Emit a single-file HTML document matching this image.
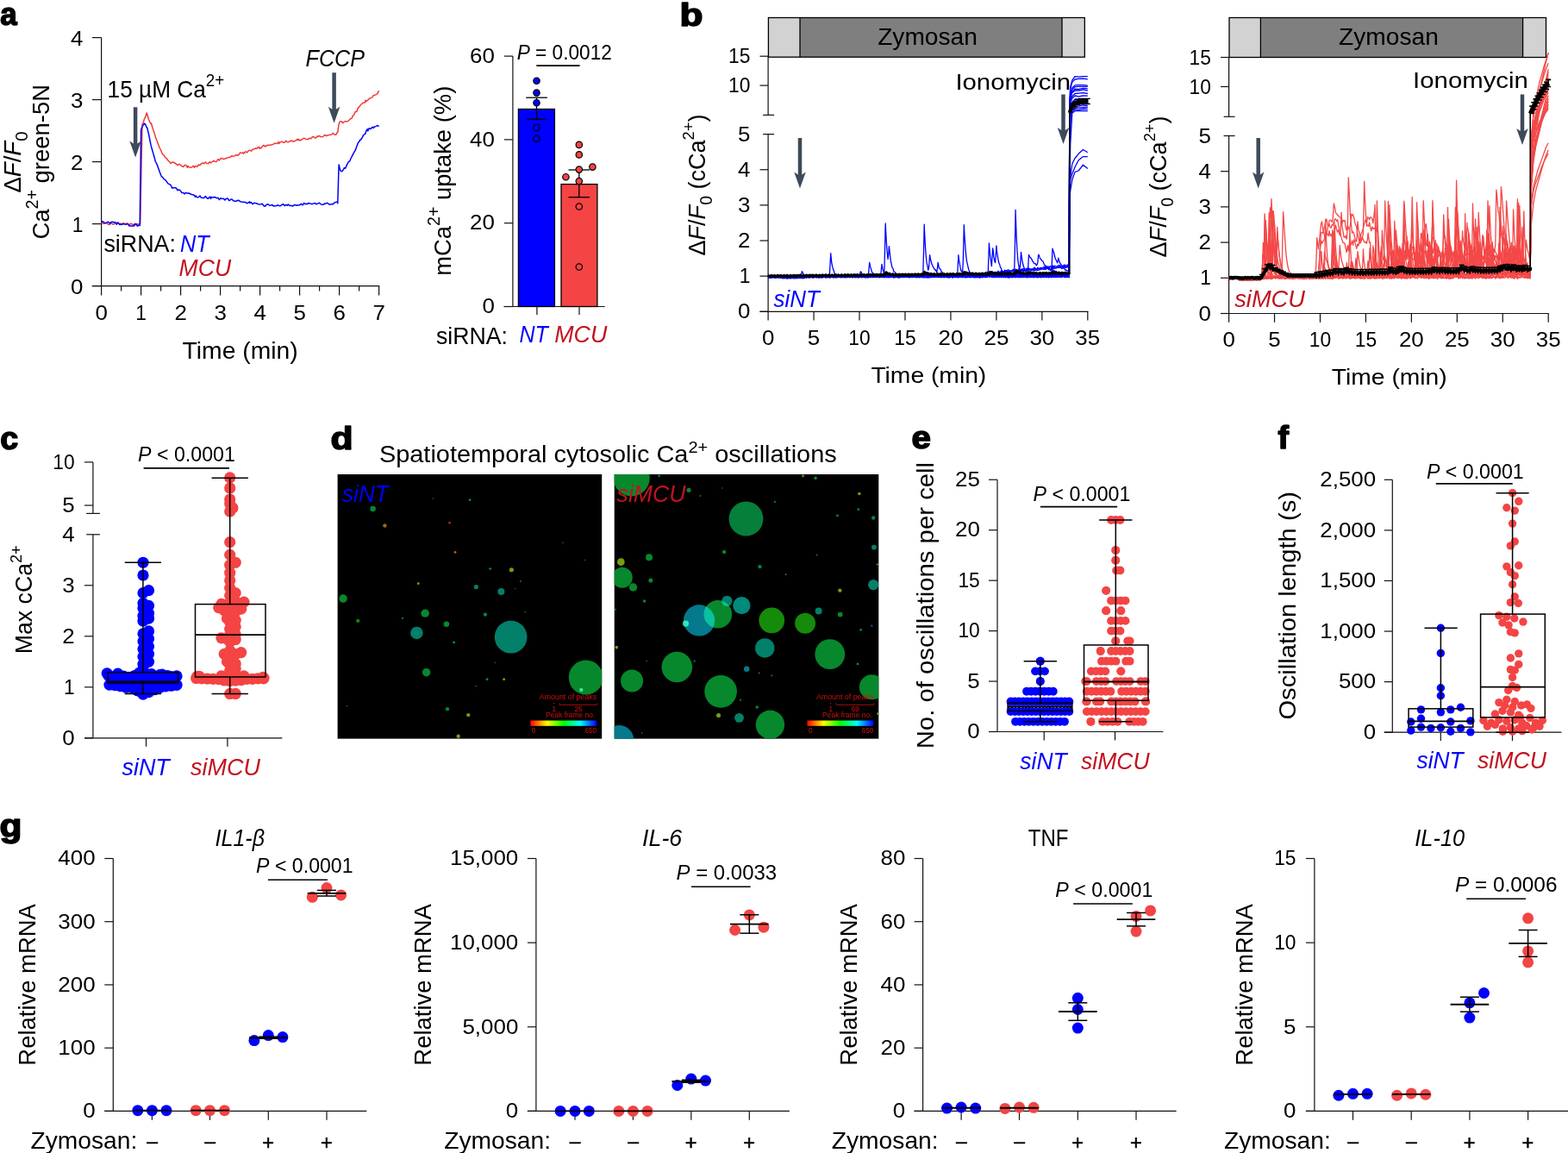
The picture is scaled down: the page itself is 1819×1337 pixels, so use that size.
<!DOCTYPE html>
<html><head><meta charset="utf-8"><title>Figure</title>
<style>html,body{margin:0;padding:0;background:#fff;}svg{display:block;}</style>
</head><body>
<svg width="1819" height="1337" viewBox="0 0 1819 1337" font-family="'Liberation Sans', sans-serif">
<defs><linearGradient id="rainbow" x1="0" x2="1" y1="0" y2="0"><stop offset="0" stop-color="#ff0000"/><stop offset="0.25" stop-color="#ffff00"/><stop offset="0.5" stop-color="#00ff00"/><stop offset="0.75" stop-color="#00ffff"/><stop offset="1" stop-color="#0000ff"/></linearGradient></defs>
<text x="0.2" y="29" font-size="37.5" font-weight="bold" textLength="19.4" lengthAdjust="spacingAndGlyphs"  stroke="#000" stroke-width="1.6" stroke-linejoin="round">a</text>
<text x="788.6" y="29.6" font-size="37.5" font-weight="bold" textLength="27" lengthAdjust="spacingAndGlyphs"  stroke="#000" stroke-width="1.6" stroke-linejoin="round">b</text>
<text x="0.2" y="520.9" font-size="37.5" font-weight="bold"  stroke="#000" stroke-width="1.6" stroke-linejoin="round">c</text>
<text x="383.6" y="521.3" font-size="37.5" font-weight="bold" textLength="26.1" lengthAdjust="spacingAndGlyphs"  stroke="#000" stroke-width="1.6" stroke-linejoin="round">d</text>
<text x="1057.4" y="519.9" font-size="37.5" font-weight="bold" textLength="22.4" lengthAdjust="spacingAndGlyphs"  stroke="#000" stroke-width="1.6" stroke-linejoin="round">e</text>
<text x="1482.4" y="520.1" font-size="37.5" font-weight="bold"  stroke="#000" stroke-width="1.6" stroke-linejoin="round">f</text>
<text x="-0.5" y="970.3" font-size="37.5" font-weight="bold" textLength="25.9" lengthAdjust="spacingAndGlyphs"  stroke="#000" stroke-width="1.6" stroke-linejoin="round">g</text>
<line x1="117.6" y1="43.6" x2="117.6" y2="331.6" stroke="#111" stroke-width="1.2" />
<line x1="107" y1="331.6" x2="117.6" y2="331.6" stroke="#111" stroke-width="1.2" />
<text x="96.4" y="340.8" font-size="24" text-anchor="end" textLength="14.41" lengthAdjust="spacingAndGlyphs"  >0</text>
<line x1="107" y1="259.6" x2="117.6" y2="259.6" stroke="#111" stroke-width="1.2" />
<text x="96.4" y="268.8" font-size="24" text-anchor="end" textLength="12.68" lengthAdjust="spacingAndGlyphs"  >1</text>
<line x1="107" y1="187.6" x2="117.6" y2="187.6" stroke="#111" stroke-width="1.2" />
<text x="96.4" y="196.8" font-size="24" text-anchor="end" textLength="14.41" lengthAdjust="spacingAndGlyphs"  >2</text>
<line x1="107" y1="115.6" x2="117.6" y2="115.6" stroke="#111" stroke-width="1.2" />
<text x="96.4" y="124.8" font-size="24" text-anchor="end" textLength="14.41" lengthAdjust="spacingAndGlyphs"  >3</text>
<line x1="107" y1="43.6" x2="117.6" y2="43.6" stroke="#111" stroke-width="1.2" />
<text x="96.4" y="52.8" font-size="24" text-anchor="end" textLength="14.41" lengthAdjust="spacingAndGlyphs"  >4</text>
<line x1="106.7" y1="331.6" x2="440.2" y2="331.6" stroke="#111" stroke-width="1.2" />
<line x1="117.6" y1="331.6" x2="117.6" y2="342.6" stroke="#111" stroke-width="1.2" />
<text x="117.6" y="371.3" font-size="24" text-anchor="middle" textLength="14.41" lengthAdjust="spacingAndGlyphs"  >0</text>
<line x1="140.6" y1="331.6" x2="140.6" y2="337.6" stroke="#111" stroke-width="1.2" />
<line x1="163.6" y1="331.6" x2="163.6" y2="342.6" stroke="#111" stroke-width="1.2" />
<text x="163.6" y="371.3" font-size="24" text-anchor="middle" textLength="12.68" lengthAdjust="spacingAndGlyphs"  >1</text>
<line x1="186.6" y1="331.6" x2="186.6" y2="337.6" stroke="#111" stroke-width="1.2" />
<line x1="209.6" y1="331.6" x2="209.6" y2="342.6" stroke="#111" stroke-width="1.2" />
<text x="209.6" y="371.3" font-size="24" text-anchor="middle" textLength="14.41" lengthAdjust="spacingAndGlyphs"  >2</text>
<line x1="232.6" y1="331.6" x2="232.6" y2="337.6" stroke="#111" stroke-width="1.2" />
<line x1="255.6" y1="331.6" x2="255.6" y2="342.6" stroke="#111" stroke-width="1.2" />
<text x="255.6" y="371.3" font-size="24" text-anchor="middle" textLength="14.41" lengthAdjust="spacingAndGlyphs"  >3</text>
<line x1="278.6" y1="331.6" x2="278.6" y2="337.6" stroke="#111" stroke-width="1.2" />
<line x1="301.6" y1="331.6" x2="301.6" y2="342.6" stroke="#111" stroke-width="1.2" />
<text x="301.6" y="371.3" font-size="24" text-anchor="middle" textLength="14.41" lengthAdjust="spacingAndGlyphs"  >4</text>
<line x1="324.6" y1="331.6" x2="324.6" y2="337.6" stroke="#111" stroke-width="1.2" />
<line x1="347.6" y1="331.6" x2="347.6" y2="342.6" stroke="#111" stroke-width="1.2" />
<text x="347.6" y="371.3" font-size="24" text-anchor="middle" textLength="14.41" lengthAdjust="spacingAndGlyphs"  >5</text>
<line x1="370.6" y1="331.6" x2="370.6" y2="337.6" stroke="#111" stroke-width="1.2" />
<line x1="393.6" y1="331.6" x2="393.6" y2="342.6" stroke="#111" stroke-width="1.2" />
<text x="393.6" y="371.3" font-size="24" text-anchor="middle" textLength="14.41" lengthAdjust="spacingAndGlyphs"  >6</text>
<line x1="416.6" y1="331.6" x2="416.6" y2="337.6" stroke="#111" stroke-width="1.2" />
<line x1="439.6" y1="331.6" x2="439.6" y2="342.6" stroke="#111" stroke-width="1.2" />
<text x="439.6" y="371.3" font-size="24" text-anchor="middle" textLength="14.41" lengthAdjust="spacingAndGlyphs"  >7</text>
<text x="278.6" y="415.8" font-size="28" text-anchor="middle" textLength="134.1" lengthAdjust="spacingAndGlyphs"  >Time (min)</text>
<text x="0" y="0" font-size="28" text-anchor="middle" textLength="71" lengthAdjust="spacingAndGlyphs" transform="translate(23.9,188.1) rotate(-90)" ><tspan>Δ</tspan><tspan font-style="italic">F</tspan>/<tspan font-style="italic">F</tspan><tspan font-size="20.5" dy="8.5">0</tspan></text>
<text x="0" y="0" font-size="28" text-anchor="middle" textLength="179.5" lengthAdjust="spacingAndGlyphs" transform="translate(56.5,187.75) rotate(-90)" >Ca<tspan font-size="20" dy="-12.7">2+</tspan><tspan dy="12.7"> green-5N</tspan></text>
<polyline points="117.6,259.63 119.21,258.8 120.82,259.36 122.43,258.73 124.04,258.72 125.65,260.38 127.26,260.58 128.87,258.26 130.48,259.98 132.09,260.1 133.7,257.96 135.31,259.52 136.92,258.52 138.53,259.6 140.14,259.19 140.6,260.61 141.75,259.25 143.36,258.63 144.97,259.68 146.58,259.1 148.19,259.35 149.8,261.16 151.41,259.21 153.02,259.74 154.63,260.63 156.24,261.46 157.85,259.11 159.46,260.29 161.07,259.64 162.68,259.23 164.29,179.06 164.98,143.91 165.9,143.07 167.51,137.77 169.12,134.68 170.04,130.91 170.73,132.54 172.34,138.23 173.95,141.55 175.1,143.78 175.56,142.96 177.17,149.19 178.78,153.35 180.39,158.99 182,163.1 183.61,167.41 185.22,171.47 186.83,174.75 188.44,178.72 190.05,179.81 191.66,182.47 193.27,183.77 194.88,186 195.34,186.19 196.49,187.49 198.1,189.48 199.71,188 201.32,188.23 202.93,188.94 204.08,190.28 204.54,189.96 206.15,191.74 207.76,190.29 209.37,191.37 210.98,192.54 212.59,193.51 214.2,191.57 215.81,191.52 217.42,194.45 217.88,192.49 219.03,193.62 220.64,194.37 222.25,193.95 223.86,192.59 224.32,192.29 225.47,194.35 227.08,192.24 228.69,193.43 230.3,191.03 231.91,191.69 233.52,189.64 235.13,188.9 236.74,189.81 238.35,187.93 239.96,189.46 241.57,189.67 243.18,187.71 244.56,188.95 244.79,188.42 246.4,187.45 248.01,186.51 249.62,187.46 251.23,187.43 252.84,184.69 254.45,185.92 256.06,183.71 257.67,183.53 259.28,184.66 260.89,184.06 262.5,183.53 264.11,182.81 265.72,182.59 267.1,182.39 267.33,182.13 268.94,180.61 270.55,181.27 272.16,180.89 273.77,179.47 275.38,180.27 276.99,179.49 278.6,176.95 280.21,177.67 281.82,177 282.74,178.21 283.43,176.82 285.04,175.83 286.65,176.93 288.26,174.69 289.87,174.13 291.48,175.26 293.09,173.11 294.7,173.06 296.31,171.93 297.92,172.35 299.53,170.81 300.68,170.35 301.14,172.3 302.75,171.78 304.36,169.59 305.97,168.35 307.58,169.99 309.19,168.99 310.8,168.19 312.41,168.56 314.02,168.02 315.63,167.76 317.24,167.18 318.85,166.12 320.46,166.56 322.07,165.93 323.22,164.5 323.68,166.58 325.29,164.82 326.9,164.13 328.51,165.15 330.12,165.2 331.73,163.32 333.34,164.74 334.95,164.68 336.56,163.76 338.17,162.8 339.78,164.31 341.39,163.47 343,163.23 344.61,161.59 345.76,162.58 346.22,161.3 347.83,163.01 349.44,162.27 351.05,161.1 352.66,160.17 354.27,161.15 355.88,161.54 357.49,161.58 359.1,160.14 360.71,160.85 362.32,158.82 363.93,158.46 365.54,160.09 367.15,159.55 367.84,157.92 368.76,158.23 370.37,157.46 371.98,158.5 373.59,158.83 375.2,158.07 376.81,156.33 378.42,157.55 380.03,157.04 381.64,156.55 383.25,156.25 384.86,155.99 386.47,154.22 388.08,156.14 389.69,156.28 391.3,153.29 391.76,153.39 392.91,145.43 393.6,142.43 394.52,140.86 396.13,140.79 397.74,142.68 399.35,141.03 400.96,140.63 401.88,141.05 402.57,140.85 404.18,140.07 405.79,138.48 407.4,137.37 408.32,137 409.01,134.57 410.62,133.25 412.23,129.56 413.84,129.58 415.22,125.24 415.45,125.6 417.06,123.21 418.67,121.56 420.28,119.83 421.89,119.04 423.5,118.93 423.96,116.33 425.11,117.36 426.72,116.1 428.33,114.18 429.94,113.69 431.55,113.13 433.16,110.74 434.77,110.24 436.38,109.58 437.99,108.39 439.6,105.2" fill="none" stroke="#f03a3a" stroke-width="1.5" stroke-linejoin="round" />
<polyline points="117.6,257.51 119.21,256.75 120.82,258.12 122.43,258.69 124.04,257.84 125.65,257.16 127.26,259.14 128.87,257.48 130.48,257.23 132.09,257.69 133.7,257.77 135.31,260.24 136,258.51 136.92,257.94 138.53,260.47 140.14,260.01 141.75,260.21 143.36,259.64 144.97,260.13 146.58,260.17 148.19,259.48 149.8,261.9 151.41,261.93 153.02,261.9 154.63,262.09 154.86,262.28 156.24,259.67 157.85,260.02 159.46,262.23 161.07,261.03 162.22,261.57 162.68,224.61 163.6,150.59 164.29,148.42 165.9,145.51 167.51,143.08 167.74,143.13 169.12,145.25 170.5,148.36 170.73,148.13 172.34,154.72 173.95,162.74 175.1,168.65 175.56,170.17 177.17,175.9 178.78,181.54 179.7,184.63 180.39,187.5 182,190.29 183.61,194.81 185.22,199.36 186.83,203.53 187.52,204.89 188.44,205.2 190.05,207.6 191.66,208.4 193.27,210.66 194.88,212.87 196.49,213.62 198.1,214.74 199.71,218.13 199.94,217.34 201.32,218.05 202.93,217.59 204.54,218.26 206.15,220.72 207.76,220.05 209.37,221.2 210.98,223.56 212.59,223.43 214.2,224.85 215.81,223.31 217.42,224.19 219.03,223.99 220.64,224.71 222.25,225.51 223.86,225.76 225.47,226.7 226.62,228.34 227.08,227 228.69,228.88 230.3,228.67 231.91,227.05 233.52,229.34 235.13,229.4 236.74,229.57 238.35,227.52 239.96,229.73 241.57,230.37 243.18,228.21 244.56,230.45 244.79,228.39 246.4,229.04 248.01,228.72 249.62,228.54 251.23,229.77 252.84,229.29 254.45,231.64 256.06,229.69 257.67,230.58 259.28,230.15 260.89,232.06 262.5,230.36 264.11,229.98 265.72,232.65 267.1,232.03 267.33,231.37 268.94,230.87 270.55,232.81 272.16,233.25 273.77,233.31 275.38,232.51 276.99,232.37 278.6,233.66 280.21,234 281.82,234.17 283.43,234.56 285.04,234.62 286.65,235.84 288.26,234.9 289.64,233.76 289.87,235.41 291.48,234.7 293.09,236.65 294.7,235.38 296.31,235.45 297.92,235.95 299.53,236.66 301.14,237.01 302.75,236.81 304.36,236.34 305.97,238.75 307.58,239.16 309.19,237.29 310.8,236.8 312.41,237.95 314.02,238.16 315.63,237.37 317.24,238.9 318.85,238.67 320.46,238.87 322.07,237.75 323.68,238.53 325.29,238.77 326.9,237.45 328.51,236.69 330.12,238.59 331.73,237.41 333.34,238.25 334.26,236.98 334.95,237.71 336.56,238.52 338.17,238.56 339.78,239.02 341.39,237.6 343,237.78 344.61,238.28 346.22,237.64 347.83,237.65 349.44,236.24 351.05,237.95 352.66,235.41 354.27,236.78 355.88,236.33 356.8,236.65 357.49,235.6 359.1,235.63 360.71,236.4 362.32,236.61 363.93,235.92 365.54,235.53 367.15,236.85 368.76,235.89 370.37,235.23 371.98,236.65 373.59,237.34 375.2,237.32 376.81,235.93 378.42,236.05 379.34,235.24 380.03,235.46 381.64,237.04 383.25,237 384.86,236.62 386.47,236.63 388.08,234.96 389.69,234.33 391.3,234.02 391.76,235.83 392.91,196.87 393.14,191.02 394.52,196.64 394.98,197.74 396.13,198.84 397.74,197.77 399.35,194.59 400.5,195.4 400.96,194.39 402.57,190.89 404.18,187.75 405.79,186.81 407.4,183 409.01,179.85 410.62,176.84 412.23,174.27 413.84,169.83 415.45,165.41 417.06,163.67 417.52,162.27 418.67,161.98 420.28,159.41 421.89,156.16 423.5,155.63 425.11,151.28 426.26,149.7 426.72,151.84 428.33,148.68 429.94,149.6 431.55,147.73 432.7,147.26 433.16,148.44 434.77,146.85 436.38,146.4 437.99,145.46 439.6,146.52" fill="none" stroke="#0000ff" stroke-width="1.5" stroke-linejoin="round" />
<path d="M154.85,124.2 L159.35,124.2 L159.35,166.5 L163.85,163.5 L157.1,182.5 L150.35,163.5 L154.85,166.5 Z" fill="#3e4a5b"/>
<path d="M385.35,84.2 L389.85,84.2 L389.85,126.8 L394.35,123.8 L387.6,142.8 L380.85,123.8 L385.35,126.8 Z" fill="#3e4a5b"/>
<text x="124.6" y="113" font-size="28" textLength="135.6" lengthAdjust="spacingAndGlyphs"  >15 µM Ca<tspan font-size="20" dy="-12.8">2+</tspan></text>
<text x="354.6" y="76.6" font-size="27" font-style="italic" textLength="68.4" lengthAdjust="spacingAndGlyphs"  >FCCP</text>
<text x="120.4" y="292.2" font-size="27" textLength="83.6" lengthAdjust="spacingAndGlyphs"  >siRNA:</text>
<text x="209" y="292.2" font-size="27" fill="#0000ff" font-style="italic" textLength="33.6" lengthAdjust="spacingAndGlyphs"  >NT</text>
<text x="207.6" y="320.2" font-size="27" fill="#c1121f" font-style="italic" textLength="60.5" lengthAdjust="spacingAndGlyphs"  >MCU</text>
<line x1="594.9" y1="65.1" x2="594.9" y2="355.5" stroke="#111" stroke-width="1.2" />
<line x1="584.9" y1="355.5" x2="594.9" y2="355.5" stroke="#111" stroke-width="1.2" />
<text x="573.9" y="363.1" font-size="24" text-anchor="end" textLength="14.41" lengthAdjust="spacingAndGlyphs"  >0</text>
<line x1="584.9" y1="258.7" x2="594.9" y2="258.7" stroke="#111" stroke-width="1.2" />
<text x="573.9" y="266.3" font-size="24" text-anchor="end" textLength="28.83" lengthAdjust="spacingAndGlyphs"  >20</text>
<line x1="584.9" y1="161.9" x2="594.9" y2="161.9" stroke="#111" stroke-width="1.2" />
<text x="573.9" y="169.5" font-size="24" text-anchor="end" textLength="28.83" lengthAdjust="spacingAndGlyphs"  >40</text>
<line x1="584.9" y1="65.1" x2="594.9" y2="65.1" stroke="#111" stroke-width="1.2" />
<text x="573.9" y="72.7" font-size="24" text-anchor="end" textLength="28.83" lengthAdjust="spacingAndGlyphs"  >60</text>
<line x1="584.5" y1="355.5" x2="701.7" y2="355.5" stroke="#111" stroke-width="1.2" />
<rect x="601.4" y="126.5" width="42" height="229" fill="#0000ff" stroke="#000" stroke-width="1.3"/>
<rect x="651" y="213.6" width="41.9" height="141.9" fill="#f44444" stroke="#000" stroke-width="1.3"/>
<line x1="622.9" y1="355.5" x2="622.9" y2="365" stroke="#111" stroke-width="1.2" />
<line x1="672" y1="355.5" x2="672" y2="365" stroke="#111" stroke-width="1.2" />
<line x1="622.5" y1="113.2" x2="622.5" y2="138.3" stroke="#000" stroke-width="1.3" />
<line x1="610.2" y1="113.2" x2="634.8" y2="113.2" stroke="#000" stroke-width="1.3" />
<line x1="610.2" y1="138.3" x2="634.8" y2="138.3" stroke="#000" stroke-width="1.3" />
<line x1="671.8" y1="197" x2="671.8" y2="228.7" stroke="#000" stroke-width="1.3" />
<line x1="659.5" y1="197" x2="684.1" y2="197" stroke="#000" stroke-width="1.3" />
<line x1="659.5" y1="228.7" x2="684.1" y2="228.7" stroke="#000" stroke-width="1.3" />
<circle cx="622.5" cy="93.7" r="3.7" fill="#0000ff" stroke="#000" stroke-width="1.2"/>
<circle cx="622.5" cy="107.6" r="3.7" fill="#0000ff" stroke="#000" stroke-width="1.2"/>
<circle cx="622.5" cy="119.2" r="3.7" fill="#0000ff" stroke="#000" stroke-width="1.2"/>
<circle cx="622.5" cy="147.9" r="3.7" fill="#0000ff" stroke="#000" stroke-width="1.2"/>
<circle cx="622.5" cy="160.9" r="3.7" fill="#0000ff" stroke="#000" stroke-width="1.2"/>
<circle cx="671.8" cy="167.9" r="3.7" fill="#f44444" stroke="#000" stroke-width="1.2"/>
<circle cx="671.8" cy="179.4" r="3.7" fill="#f44444" stroke="#000" stroke-width="1.2"/>
<circle cx="687.4" cy="193.6" r="3.7" fill="#f44444" stroke="#000" stroke-width="1.2"/>
<circle cx="671.8" cy="196.6" r="3.7" fill="#f44444" stroke="#000" stroke-width="1.2"/>
<circle cx="656.4" cy="205.2" r="3.7" fill="#f44444" stroke="#000" stroke-width="1.2"/>
<circle cx="671.8" cy="210.1" r="3.7" fill="#f44444" stroke="#000" stroke-width="1.2"/>
<circle cx="671.8" cy="239.5" r="3.7" fill="#f44444" stroke="#000" stroke-width="1.2"/>
<circle cx="671.8" cy="309.5" r="3.7" fill="#f44444" stroke="#000" stroke-width="1.2"/>
<text x="599.7" y="68.6" font-size="24" textLength="110.2" lengthAdjust="spacingAndGlyphs"  ><tspan font-style="italic">P</tspan> = 0.0012</text>
<line x1="622.3" y1="76.1" x2="672.6" y2="76.1" stroke="#000" stroke-width="1.6" />
<text x="0" y="0" font-size="28" text-anchor="middle" textLength="220" lengthAdjust="spacingAndGlyphs" transform="translate(522.8,209.75) rotate(-90)" >mCa<tspan font-size="20" dy="-12.7">2+</tspan><tspan dy="12.7"> uptake (%)</tspan></text>
<text x="506" y="398.5" font-size="27" textLength="83" lengthAdjust="spacingAndGlyphs"  >siRNA:</text>
<text x="602.5" y="396.6" font-size="27" fill="#0000ff" font-style="italic" textLength="33.4" lengthAdjust="spacingAndGlyphs"  >NT</text>
<text x="643.3" y="396.9" font-size="27" fill="#c1121f" font-style="italic" textLength="61" lengthAdjust="spacingAndGlyphs"  >MCU</text>
<rect x="891.4" y="20.5" width="366.9" height="45.7" fill="#d2d2d2" stroke="none" stroke-width="1.2"/>
<rect x="928" y="20.5" width="304" height="45.7" fill="#7f7f7f" stroke="none" stroke-width="1.2"/>
<line x1="928" y1="20.5" x2="928" y2="66.2" stroke="#000" stroke-width="1.3" />
<line x1="1232" y1="20.5" x2="1232" y2="66.2" stroke="#000" stroke-width="1.3" />
<rect x="891.4" y="20.5" width="366.9" height="45.7" fill="none" stroke="#000" stroke-width="1.3"/>
<text x="1076.05" y="52.3" font-size="27.5" text-anchor="middle" textLength="115.7" lengthAdjust="spacingAndGlyphs"  >Zymosan</text>
<line x1="891.1" y1="65.2" x2="891.1" y2="133.4" stroke="#111" stroke-width="1.2" />
<line x1="891.1" y1="155.6" x2="891.1" y2="361.3" stroke="#111" stroke-width="1.2" />
<line x1="881.5" y1="65.2" x2="891.1" y2="65.2" stroke="#111" stroke-width="1.2" />
<text x="870.4" y="73.3" font-size="24" text-anchor="end" textLength="25.36" lengthAdjust="spacingAndGlyphs"  >15</text>
<line x1="881.5" y1="99.1" x2="891.1" y2="99.1" stroke="#111" stroke-width="1.2" />
<text x="870.4" y="107.2" font-size="24" text-anchor="end" textLength="25.36" lengthAdjust="spacingAndGlyphs"  >10</text>
<line x1="885.1" y1="133.4" x2="898.1" y2="133.4" stroke="#111" stroke-width="1.2" />
<line x1="885.1" y1="155.6" x2="898.1" y2="155.6" stroke="#111" stroke-width="1.2" />
<text x="870.4" y="163.7" font-size="24" text-anchor="end" textLength="14.41" lengthAdjust="spacingAndGlyphs"  >5</text>
<line x1="881.5" y1="361.3" x2="891.1" y2="361.3" stroke="#111" stroke-width="1.2" />
<text x="870.4" y="369.4" font-size="24" text-anchor="end" textLength="14.41" lengthAdjust="spacingAndGlyphs"  >0</text>
<line x1="881.5" y1="320.16" x2="891.1" y2="320.16" stroke="#111" stroke-width="1.2" />
<text x="870.4" y="328.26" font-size="24" text-anchor="end" textLength="12.68" lengthAdjust="spacingAndGlyphs"  >1</text>
<line x1="881.5" y1="279.02" x2="891.1" y2="279.02" stroke="#111" stroke-width="1.2" />
<text x="870.4" y="287.12" font-size="24" text-anchor="end" textLength="14.41" lengthAdjust="spacingAndGlyphs"  >2</text>
<line x1="881.5" y1="237.88" x2="891.1" y2="237.88" stroke="#111" stroke-width="1.2" />
<text x="870.4" y="245.98" font-size="24" text-anchor="end" textLength="14.41" lengthAdjust="spacingAndGlyphs"  >3</text>
<line x1="881.5" y1="196.74" x2="891.1" y2="196.74" stroke="#111" stroke-width="1.2" />
<text x="870.4" y="204.84" font-size="24" text-anchor="end" textLength="14.41" lengthAdjust="spacingAndGlyphs"  >4</text>
<line x1="881.5" y1="361.3" x2="1262.4" y2="361.3" stroke="#111" stroke-width="1.2" />
<line x1="891.1" y1="361.3" x2="891.1" y2="371.6" stroke="#111" stroke-width="1.2" />
<text x="891.1" y="399.9" font-size="24" text-anchor="middle" textLength="14.41" lengthAdjust="spacingAndGlyphs"  >0</text>
<line x1="944.06" y1="361.3" x2="944.06" y2="371.6" stroke="#111" stroke-width="1.2" />
<text x="944.06" y="399.9" font-size="24" text-anchor="middle" textLength="14.41" lengthAdjust="spacingAndGlyphs"  >5</text>
<line x1="997.01" y1="361.3" x2="997.01" y2="371.6" stroke="#111" stroke-width="1.2" />
<text x="997.01" y="399.9" font-size="24" text-anchor="middle" textLength="25.36" lengthAdjust="spacingAndGlyphs"  >10</text>
<line x1="1049.97" y1="361.3" x2="1049.97" y2="371.6" stroke="#111" stroke-width="1.2" />
<text x="1049.97" y="399.9" font-size="24" text-anchor="middle" textLength="25.36" lengthAdjust="spacingAndGlyphs"  >15</text>
<line x1="1102.93" y1="361.3" x2="1102.93" y2="371.6" stroke="#111" stroke-width="1.2" />
<text x="1102.93" y="399.9" font-size="24" text-anchor="middle" textLength="28.83" lengthAdjust="spacingAndGlyphs"  >20</text>
<line x1="1155.89" y1="361.3" x2="1155.89" y2="371.6" stroke="#111" stroke-width="1.2" />
<text x="1155.89" y="399.9" font-size="24" text-anchor="middle" textLength="28.83" lengthAdjust="spacingAndGlyphs"  >25</text>
<line x1="1208.84" y1="361.3" x2="1208.84" y2="371.6" stroke="#111" stroke-width="1.2" />
<text x="1208.84" y="399.9" font-size="24" text-anchor="middle" textLength="28.83" lengthAdjust="spacingAndGlyphs"  >30</text>
<line x1="1261.8" y1="361.3" x2="1261.8" y2="371.6" stroke="#111" stroke-width="1.2" />
<text x="1261.8" y="399.9" font-size="24" text-anchor="middle" textLength="28.83" lengthAdjust="spacingAndGlyphs"  >35</text>
<text x="1077.35" y="444.2" font-size="26.5" text-anchor="middle" textLength="133.9" lengthAdjust="spacingAndGlyphs"  >Time (min)</text>
<text x="0" y="0" font-size="28" text-anchor="middle" textLength="164" lengthAdjust="spacingAndGlyphs" transform="translate(818.4,214.5) rotate(-90)" ><tspan>Δ</tspan><tspan font-style="italic">F</tspan>/<tspan font-style="italic">F</tspan><tspan font-size="20" dy="8">0</tspan><tspan dy="-8"> (cCa</tspan><tspan font-size="19" dy="-13">2+</tspan><tspan dy="13">)</tspan></text>
<path transform="scale(.1)" d="M8911 3206l8-9 9 12 8-2 9-2 8 10 9-8 8-3 9-4 8 17 9-5 8 5 9-17 8 3 9 16 8-24 9 1 8 7 9 1 8 20 8 3 9-12 8 11 9-3 8-1 9 5 8-11 9 0 8-9 9 7 8-3 9 4 8-4 9 5 8 4 9-18 8 0 9 4 8 3 8 10 9 2 8-1 9 5 8-17 9 9 8-23 9-35 2-12 6 9 9 22 8 32 9-6 8-14 9 13 8-11 9 15 8 9 8-14 9-3 8 12 9 5 8-6 9-16 8 5 9 16 8-3 9 3 8 1 9-18 8 15 9-9 8 3 9 6 8-14 9 15 8-12 8 13 9-8 8 5 9-1 8-18 9 4 8 13 9-15 8 17 9-5 8-11 9 5 8 13 9-21 8 19 9-2 8-12 9 11 8 0 8 6 9-1 8-12 9 9 8-9 9 5 8-2 9-12 8 11 9-2 8-7 9 17 8 0 9-18 8 2 9 14 8 1 9-13 8-5 8 18 9-18 8 1 9 7 8 4 9 8 8 2 9-23 8 18 9-12 8 11 9-14 8 6 9 7 8 3 9-13 8 16 9-4 8-8 8-8 9 6 8 8 9-15 8 17 9 5 8-7 9-4 8 10 9-3 8-5 9-5 8 11 9-6 8-13 9-2 8 8 8-1 9 2 8 11 9 3 8 0 9-22 8 5 9-6 8 23 9-15 8 3 9-6 8 10 9-16 8 22 9-11 8-5 9-4 8 4 8 1 9-3 8-3 9 14 8-8 9-5 8 0 9 11 8-9 9-2 8 8 9-2 8 6 9-5 8 0 9 13 8-14 9-9 8 3 8 3 9 9 8-9 9 4 8 3 9-10 8 19 9-16 8 17 9-14 8 3 9 6 8-11 9 5 8-3 9-8 8 16 9 6 8-7 8-9 9 12 8 0 9-18 8 6 9 6 8-12 9 14 8-8 9 11 8-5 9-10 8-2 9 0 8 13 9-5 8 6 9 5 8-9 8-9 9 0 8 3 9-6 8 17 9 3 8-7 9 4 8 1 9-5 8-5 9 3 8 5 9-13 8-4 9 13 8 10 9 1 8-21 8 20 9-16 8 3 9 7 8-12 9 19 8-3 9-8 8 10 9-19 8 14 9 2 8 3 9-15 8 5 9-5 8 0 8-4 9-4 8 7 9 12 8-7 9 7 8 4 9-11 8-6 9 13 8-2 9-2 8-9 9 4 8-2 9-4 8 9 9-9 8-3 8 20 9-21 8 5 9 15 8-8 9-5 8-7 9 13 8-4 9-8 8 2 9-4 8 12 9-5 8 11 9-12 8-3 9 5 8-2 8 12 9-17 8-2 9 0 8 11 9-6 8 11 9-14 8 1 9 12 8 7 9-9 8-3 9-5 8 7 9 11 8-19 9 18 8-18 8 15 9-4 8-11 9 16 8 0 9-9 8-5 9-3 8 3 9-6 8 11 9-11 8 21 9-3 8-8 9 6 8-11 9 2 8 3 8-8 9 7 8 6 9-2 8-11 9-1 8 17 9-16 8-3 9 11 8-2 9 10 8-9 9 1 8-2 9 14 8-24 8 12 9 2 8-10 9 6 8 2 9-5 8 15 9-11 8 3 9-14 8 1 9 16 8-5 9 9 8-8 9-9 8-2 9 10 8 4 8 3 9-11 8-7 9 19 8-16 9 19 8-4 9-1 8-12 9 9 8 0 9-7 8 13 9-16 8 15 9-9 8 6 9 1 8-8 8 2 9 2 8-1 9-3 8 9 9-1 8-11 9 0 8 3 9-8 8 6 9-7 8 16 9-13 8-2 9-2 8 15 9 0 8-15 8 17 9-19 6-1984 9-187 21-79 32-44 42 5 53-6 53 0" fill="none" stroke="#0000ff" stroke-width="13" stroke-linejoin="round"/>
<path transform="scale(.1)" d="M8911 3201l8 16 9-7 8-7 9 17 8-5 9-12 8-6 9-1 8 21 9-10 8-6 9 6 8-4 9 12 8 3 9-1 8 2 9-13 8 9 8-1 9 10 8-1 9 0 8-16 9-4 8 2 9 20 8 1 9-22 8 12 9-8 8 11 9-3 8-2 9 3 8-5 9 15 8-17 8-4 9 17 8-7 9-7 8 8 9 5 8 1 9-9 8 12 9-21 8 2 9-6 8-4 9 6 8 5 9-5 8 3 8-12 9 4 8 14 9-16 8 4 9-1 8-1 9 10 8-12 9 0 8 5 9-2 8 0 9 9 8-8 9 16 8-7 9-3 8 11 8-8 9-7 8 0 9 10 8-18 9 7 8 8 9-8 8 2 9 1 8-145 6-122 3 33 8 77 9 45 8 32 9 17 8 39 9-3 8 4 8 17 9 1 8 11 9-2 8-3 9 7 8-3 9-16 8 9 9 2 8-12 9 10 8-10 9 9 8-5 9 19 8-13 9-4 8 17 8-22 9 19 8-7 9 7 8-8 9-3 8 14 9-22 8 13 9-3 8-2 9 6 8 2 9-9 8 2 9 7 8-11 9 10 8 7 8-5 9 5 8-3 9-15 8 9 9-13 8 4 9 17 8-23 9 1 8 22 9-21 8 12 9-2 8-12 9 18 8-7 8-10 9 5 8 6 9-12 8 4 9 5 8 12 9-13 8 5 9 6 8 3 9-11 8 10 9-8 8-6 9 5 8 5 9-8 8 4 8-9 9 6 8-11 9 1 8 5 9 12 8 3 9-19 8 3 9 4 8 6 9 2 8-10 9 3 8-1 9-1 8-3 9 14 8-1 8-18 9 1 8 1 9 21 8-1 9-5 8-4 9-5 8 13 9-11 8 12 9-1 8-14 9 3 8-2 9 6 8-3 9 7 8-3 8-10 9-3 8 19 9-1 8-17 9 5 8-4 9 14 8-6 9 5 8-14 9 11 8-7 9-9 8 17 9-6 8-5 9-4 8 12 8 1 9 7 8-19 9 20 8-1 9-12 8 2 9-5 8 10 9-12 8 17 9-3 8-11 9 14 8-5 9-11 8 1 9 10 8 3 8-5 9-9 8 9 9 6 8-15 9 4 8-9 9-1 8 1 9 12 8-9 9 12 8 0 9-2 8-14 9 1 8 16 8-3 9 0 8 0 9-1 8 1 9 4 8-9 9-6 8 7 9-8 8 7 9 10 8-15 9-3 8 15 9 6 8-12 9-1 8 0 8-10 9 8 8-4 9 18 8-12 9-6 8 17 9 0 8-16 9-4 8 20 9-13 8 12 9-15 8 2 9 10 8 1 9-14 8 6 8-6 9 9 8 2 9-16 8 7 9 5 8-1 9-5 8 0 9-5 8 13 9-11 8 4 9-4 8 1 9-1 8-1 9-2 8 8 8 2 9-4 8-2 9 9 8 0 9 7 8-15 9-6 8 15 9 5 8-1 9-5 8 3 9-17 8 22 9-6 8 5 9-13 8-3 8 14 9 3 8-10 9-3 8-8 9 22 8-2 9-2 8-1 9 0 8-12 9 3 8 9 9 1 8-3 9 3 8-14 8 11 9-6 8-7 9 8 8 6 9-16 8-1 9 15 8-6 9-10 8 12 9 6 8 5 9-23 8 4 9 10 8-3 9 0 8 6 8-18 9 8 8 11 9 5 8-11 9 2 8-10 9 2 8 2 9 11 8 0 9-4 8 2 9-15 8 8 9-3 8-8 9 17 8-6 8 9 9-15 8 19 9-20 8-1 9 0 8 19 9-5 8-11 9 15 8-9 9 0 8-12 9 9 8-7 9 14 8-12 9 9 8-12 8 20 9-18 6-1965 9-192 21-75 32-34 42-7 53-2 53 7" fill="none" stroke="#0000ff" stroke-width="13" stroke-linejoin="round"/>
<path transform="scale(.1)" d="M8911 3213l8-4 9-7 8 9 9-8 8 14 9-7 8-1 9-13 8 4 9 4 8 16 9-9 8-8 9 11 8-8 9 3 8 11 9-24 8 12 8 15 9-10 8 8 9-2 8-4 9 6 8-1 9-2 8-6 9 10 8 1 9-13 8 10 9-15 8 9 9-4 8 10 9-12 8 18 8-1 9 1 8-15 9 0 8 13 9-6 8-11 9 6 8 13 9-4 8 2 9-7 8-7 9 8 8-21 9 12 8-2 8-3 9-3 8-2 9 11 8 2 9-2 8 9 9-9 8-8 9-7 8 5 9 3 8 2 9 14 8-7 9-1 8-7 9 13 8-7 8-3 9-7 8-1 9 6 8 11 9-15 8-4 9 9 8 5 9-4 8 9 9-14 8-7 9 12 8-5 9-3 8 16 9-19 8 8 8 11 9 2 8-4 9-8 8-3 9 9 8-14 9 14 8-3 9 8 8-21 9 21 8-19 9 9 8 0 9 0 8 7 9-16 8-2 8 4 9 6 8 11 9-17 8 13 9-15 8 16 9-8 8-6 9 16 8-9 9 11 8-9 9-45 2-10 6-4 9 17 8 17 9 15 8-4 8 1 9 11 8-4 9-4 8 20 9-4 8-93 7-78 2 13 8 38 9 27 8 33 9 8 8 18 9 2 8 12 9-3 8 18 8-13 9 15 8-19 9 10 8 4 9 2 8-5 9-2 8-1 9 0 8 7 9-13 8 4 9 0 8 11 9-1 8-3 9-8 8 9 8 0 9 2 8-11 9 14 8 7 9-17 8-4 9 4 8 3 9-4 8 12 9-8 8 13 9-1 8-8 9-1 8 2 9 9 8-16 8 4 9 7 8-2 9-2 8 4 9 4 8-21 9-1 8 7 9-4 8 11 9-10 8 14 9-13 8 5 9-8 8 19 9-17 8 17 8-10 9-11 8 24 9-6 8-2 9 0 8 6 9-20 8 2 9 10 8 1 9-6 8 14 9 0 8-21 9 14 8-5 9-10 8-1 8 12 9 7 8-3 9-15 8 1 9 17 8-16 9 12 8-3 9 7 8-17 9-3 8 20 9-11 8 11 9-17 8 20 9-1 8-15 8 10 9-15 8 1 9 4 8 14 9-14 8-6 9 13 8 9 9-4 8-2 9-10 8 13 9 0 8-1 9-11 8-3 8 10 9-7 8-5 9 7 8 9 9-2 8-15 9 6 8 10 9-9 8 13 9-22 8 14 9-3 8 0 9 12 8-13 9 7 8 1 8-13 9 17 8-5 9-11 8 12 9-1 8-6 9 9 8-18 9-2 8 24 9-11 8-7 9 9 8-14 9 11 8 8 9-9 8-3 8 7 9-7 8-3 9 7 8 0 9-9 8 4 9 4 8-10 9 19 8-15 9 15 8-11 9 9 8-5 9-8 8 0 9 0 8 13 8-6 9 7 8-9 9 2 8 11 9-14 8-2 9 3 8-7 9 17 8 0 9 4 8-12 9 1 8 0 9 5 8-14 9 18 8-20 8 8 9 1 8-6 9 13 8 2 9-4 8 7 9-7 8-7 9 2 8 6 9-8 8 13 9-18 8 16 9-2 8 2 8-13 9-4 8 2 9 17 8-8 9 1 8 4 9-19 8 23 9-11 8-7 9-5 8 20 9-7 8-8 9 18 8-5 9-16 8 18 8-6 9 2 8-3 9 9 8 1 9-24 8 6 9 1 8 12 9 0 8-8 9 8 8-6 9-11 8 14 9 0 8-15 9 9 8 14 8-9 9-6 8 14 9-7 8-8 9-5 8 7 9-7 8 10 9 2 8-11 9 11 8-10 9 14 8-3 9 4 8-9 9 10 8-1 8-1 9-6 6-1942 9-171 21-73 32-31 42-2 53 0 53 5" fill="none" stroke="#0000ff" stroke-width="13" stroke-linejoin="round"/>
<path transform="scale(.1)" d="M8911 3203l8 8 9 2 8 7 9-4 8-2 9-4 8-13 9 5 8 11 9-2 8 5 9-19 8 14 9-10 8 1 9-4 8 22 9-8 8 7 8 7 9-20 8 14 9-11 8 6 9 12 8-9 9 4 8 5 9-3 8-11 9 14 8-7 9-2 8-3 9 10 8-14 9 11 8-12 8 2 9 12 8-1 9-2 8-11 9 8 8 1 9-12 8 15 9-1 8-1 9-6 8 5 9 0 8-15 9 2 8-6 8-4 9 16 8-9 9-6 8 17 9-11 8 0 9-7 8 2 9 16 8-10 9 14 8-9 9 1 8 8 9-8 8 2 9-5 8 6 8 3 9-6 8-2 9 8 8-13 9 11 8 3 9-6 8-2 9 7 8-11 9-3 8 4 9-4 8 17 9-9 8 1 9 7 8-8 8 8 9-11 8-2 9 3 8 4 9 1 8 6 9-8 8-13 9 8 8 7 9-10 8 12 9-7 8-4 9-8 8 15 9-6 8-9 8 4 9 4 8 0 9 5 8 0 9 4 8-14 9-1 8 12 9-13 8 21 9-2 8-9 9 5 8-2 9-15 8 21 9-1 8-1 8-11 9 11 8 5 9-13 8 4 9 3 8-6 9-4 8 3 9-2 8 1 9-6 8-4 9 16 8 0 9-14 8 15 8-10 9 0 8 0 9-7 8 4 9 16 8-95 6-57 3 20 8 39 9 32 8 21 9-347 5-238 3 70 9 158 8 108 9 78 8-72 5-75 4 33 8 82 8 57 9 42 8 32 9 11 8 34 9 7 8 3 9 17 8 15 9-12 8 4 9 23 8-2 9-4 8-6 9 12 8-7 9 12 8-11 8 10 9 0 8-10 9-2 8 1 9 6 8 4 9-7 8 2 9-5 8 1 9 17 8-6 9-8 8 11 9 1 8 5 9-15 8-8 8-1 9 21 8-14 9 7 8-6 9 6 8-13 9-2 8 24 9-17 8 15 9 2 8-6 9-11 8-7 9 22 8-5 9 7 8-13 8 2 9 3 8 1 9-12 8-1 9 14 8-3 9-5 8-4 9-5 8 14 9-7 8 3 9-6 8 16 9-1 8 2 9-20 8 16 8-5 9 9 8-5 9 7 8-13 9 10 8-12 9 9 8 1 9-6 8 3 9 2 8 5 9 0 8-20 9 14 8 6 8-3 9-7 8-13 9 20 8-17 9 10 8 1 9-9 8 10 9 8 8-12 9-3 8 1 9 9 8-17 9 2 8-3 9 14 8-10 8 3 9 13 8 4 9-4 8 2 9 1 8-7 9-10 8 11 9-5 8 12 9-5 8-18 9 23 8-13 9-7 8 1 9 1 8 9 8-10 9-1 8 1 9-5 8 22 9-21 8 13 9-7 8 11 9-16 8 22 9-14 8 9 9-4 8 0 9-7 8-4 9 11 8-6 8 7 9 1 8-15 9 14 8 6 9-6 8-10 9 13 8-13 9 5 8-4 9 13 8 2 9-1 8-5 9-2 8 10 9-12 8 2 8 2 9-5 8-10 9 18 8-17 9 14 8-10 9 15 8-21 9 13 8-13 9 19 8-5 9-7 8 13 9-3 8-10 8-6 9 15 8 4 9-5 8-15 9 20 8-12 9 7 8-7 9 11 8-10 9-7 8 1 9 5 8 4 9-2 8 11 9-18 8 4 8 6 9-5 8 6 9 0 8 4 9-9 8 1 9 1 8 12 9-15 8 5 9-4 8 0 9-8 8 19 9-8 8-13 9 7 8 10 8-10 9-7 8 15 9-12 8 19 9-22 8 13 9 6 8-15 9 5 8-7 9 2 8 1 9 7 8-12 9 23 8-20 9 4 8 12 8-14 9 9 6-1937 9-170 21-59 32-34 42-4 53 0 53 1" fill="none" stroke="#0000ff" stroke-width="13" stroke-linejoin="round"/>
<path transform="scale(.1)" d="M8911 3208l8 6 9-14 8-1 9 2 8 5 9-9 8 3 9 16 8-5 9 6 8 2 9-8 8-13 9 1 8 17 9-1 8-6 9-11 8 14 8-7 9 20 8-22 9 19 8-11 9-6 8 4 9 13 8-12 9 6 8 10 9-8 8 1 9-8 8 8 9-8 8-2 9 13 8 1 8-14 9 5 8 9 9 0 8-21 9 9 8 6 9 4 8-20 9 7 8-1 9 1 8 1 9-2 8 6 9-12 8 5 8-10 9 10 8-1 9-1 8-11 9 15 8-9 9 11 8-8 9 7 8-15 9 15 8-14 9 4 8 5 9-11 8 13 9-9 8 4 8 3 9 10 8-9 9 3 8-4 9-12 8 16 9-10 8 0 9 11 8-4 9 6 8-18 9 15 8-4 9 2 8-12 9-1 8 7 8 1 9 11 8-20 9 20 8-7 9 0 8-9 9 1 8 8 9-14 8-1 9 23 8-15 9 4 8 2 9-2 8 3 9-8 8 1 8-9 9 0 8-1 9 15 8-11 9 5 8-2 9-7 8 23 9-10 8 1 9-6 8 11 9-19 8 19 9-4 8 5 9-6 8-8 8 16 9-2 8-12 9 0 8-3 9 12 8-14 9 2 8-1 9 16 8-8 9 11 8-21 9-2 8 1 9 21 8-8 8-4 9 0 8 10 9-17 8 12 9-5 8 9 9-11 8 11 9 1 8-11 9 6 8-12 9 13 8-4 9 8 8-4 9-5 8-3 8 2 9-10 8 19 9-19 8 17 9-20 8 11 9 3 8-5 9-6 8-3 9 14 8 10 9-4 8-17 9 2 8 1 9 14 8-10 8 13 9-2 8-5 9-17 8 8 9-5 8 20 9-9 8 8 9-5 8 4 9-20 8 14 9-4 8-4 9-5 8-2 9 9 8 2 8-10 9 12 8 3 9-11 8 12 9-3 8-2 9-299 6-296 2 57 9 176 8 119 9 90 8 34 9 55 8-22 9-122 2-31 6 35 9 38 8 31 8 16 9 21 8 11 9 19 8-2 9 16 8 20 9-72 4-46 4 16 9 49 8 6 9 7 8 27 9 4 8 13 9 7 8-2 9 4 8 9 8-2 9 2 8-5 9 19 8 0 9-3 8 0 9-13 8 10 9-11 8 12 9 3 8-10 9 15 8-22 9 4 8 12 8 0 9-12 8 1 9 3 8 15 9-18 8 18 9-14 8 1 9-9 8 7 9 15 8-22 9 4 8 4 9 15 8-19 9 8 8-6 8-8 9 2 8 21 9-18 8 8 9-7 8 9 9-2 8 0 9 8 8-5 9-10 8 16 9-1 8-18 9 4 8 3 9 11 8-1 8-4 9-16 8 9 9-9 8 18 9-5 8-3 9-8 8 18 9-19 8 10 9 11 8-10 9 1 8-7 9-7 8 11 9-5 8 8 8-10 9 16 8-15 9 14 8-11 9 10 8-4 9 5 8-5 9-6 8 2 9 3 8-5 9-6 8 11 9-5 8 2 9-12 8 16 8-9 9 11 8-1 9-11 8 4 9 7 8 5 9-19 8 11 9-8 8 7 9-5 8 1 9-10 8 2 9 11 8-1 8 6 9-13 8 16 9-5 8-13 9 20 8-17 9 3 8 1 9 5 8 5 9-20 8 4 9-1 8 18 9-17 8 13 9 1 8-8 8-2 9 12 8-16 9 4 8-8 9 0 8 5 9 8 8-14 9 5 8 11 9-14 8 3 9 11 8 1 9 5 8-13 9 7 8-1 8 1 9 3 8-9 9 6 8-1 9 0 8-5 9-10 8 18 9-17 8 0 9 6 8 1 9-4 8 4 9-3 8-6 9 3 8 13 8 5 9-22 6-1883 9-164 21-58 32-34 42 1 53-10 53 4" fill="none" stroke="#0000ff" stroke-width="13" stroke-linejoin="round"/>
<path transform="scale(.1)" d="M8911 3206l8 5 9 3 8-17 9 20 8-20 9 7 8 14 9-20 8 19 9-11 8 11 9-22 8 17 9-14 8 20 9-15 8 15 9 1 8-6 8-10 9 8 8-5 9 2 8 7 9 10 8-11 9 9 8-9 9 4 8-3 9 7 8-12 9 7 8-2 9 10 8-10 9-2 8-10 8 10 9 10 8-4 9-1 8-9 9-6 8-1 9 1 8 1 9 1 8-2 9 15 8-12 9-3 8-2 9 2 8 0 8-8 9 21 8-11 9-11 8 23 9-2 8-19 9-2 8 23 9 0 8-20 9 3 8 5 9-2 8-4 9-2 8 20 9-2 8-17 8-5 9 3 8 11 9 2 8-1 9 9 8-19 9 12 8-8 9 2 8 4 9-8 8 5 9 6 8-16 9 17 8 1 9-3 8-5 8-8 9 11 8 2 9-10 8 10 9-7 8 7 9-16 8 17 9-1 8-2 9 0 8-10 9 1 8-3 9 6 8 12 9-17 8 13 8 0 9-5 8-14 9 15 8 1 9-14 8-2 9 15 8 6 9-16 8 0 9 11 8-11 9 10 8 2 9-8 8-3 9 6 8-8 8 19 9-12 8 3 9 8 8-21 9 19 8-2 9-16 8-2 9 0 8 15 9-15 8 20 9-14 8-6 9 18 8 2 8-14 9-5 8 4 9-5 8 12 9 2 8 6 9-4 8-16 9 21 8-3 9-4 8 7 9-6 8 3 9 1 8-10 9 0 8-1 8-4 9 5 8-10 9 21 8-3 9 3 8-6 9-11 8-4 9 11 8 8 9-4 8-6 9 7 8-13 9-4 8 12 9-3 8-6 8 9 9 7 8-19 9-1 8 24 9-18 8 8 9 9 8-3 9 0 8-14 9 13 8 5 9-5 8-15 9 8 8-4 9 4 8 7 8 4 9-7 8 7 9-6 8-9 9 6 8-2 9-4 8 8 9-1 8-13 9 7 8 4 9-3 8 2 9 3 8-14 9 16 8-17 8 2 9-1 8 18 9-9 8-11 9 17 8 3 9-14 8 12 9-9 8 11 9-20 8 17 9 4 8-14 9 8 8-5 9 1 8-10 8 10 9 3 8 9 9-12 8 5 9-7 8-2 9 5 8 9 9-10 8 0 9-4 8-8 9 17 8-4 9 9 8-162 5-89 3 34 9 56 8 47 9 45 8 5 9 24 8-132 9-381 1-48 7 135 9 133 8 89 9 69 8 33 9 42 8 28 9 21 8 13 9-6 8 7 8 1 9 5 8 8 9-1 8 3 9-1 8 1 9 16 8-16 9 13 8 2 9-17 8 22 9-12 8 5 9-11 8 4 9-7 8-1 8 7 9 14 8-15 9 14 8-21 9 2 8 14 9 3 8-12 9-2 8-6 9 9 8 12 9-14 8 16 9-20 8 2 9 0 8-2 8 7 9-9 8 7 9 4 8 3 9 0 8 8 9-3 8-16 9 14 8-10 9-3 8 2 9 4 8 5 9 1 8 2 9-11 8-1 8-7 9 15 8-14 9 0 8 15 9-16 8 8 9-9 8 5 9 11 8 1 9-6 8 1 9 11 8-20 9 8 8 1 8-7 9 13 8 1 9-10 8 9 9-2 8 6 9 0 8-7 9-5 8-10 9 8 8 5 9 0 8 4 9-5 8-12 9 20 8-8 8-6 9-2 8 5 9-2 8-7 9 1 8 16 9-8 8-11 9 12 8 8 9-14 8 17 9-2 8-10 9 7 8-11 9-1 8 10 8-11 9 3 8-1 9 6 8 0 9 8 8-9 9-12 8 2 9 21 8-1 9-5 8-10 9 6 8 8 9-8 8-3 9-5 8 9 8-7 9 0 6-1894 9-149 21-70 32-25 42 1 53-11 53 11" fill="none" stroke="#0000ff" stroke-width="13" stroke-linejoin="round"/>
<path transform="scale(.1)" d="M8911 3210l8-1 9 8 8-20 9 2 8 9 9-2 8 6 9-16 8 21 9-4 8 2 9-16 8 8 9 3 8 0 9-12 8 16 9-14 8 11 8 6 9 2 8-2 9 0 8 3 9-7 8 5 9 3 8-12 9 8 8-1 9-10 8 11 9 2 8-13 9-2 8 5 9 9 8-6 8-2 9 11 8-11 9-5 8 7 9 0 8 5 9-5 8 10 9-13 8 6 9-19 8 15 9-9 8 17 9-9 8-9 8 12 9-8 8 9 9-4 8-15 9 20 8-18 9 21 8-13 9-6 8 0 9 11 8-5 9-3 8-1 9 0 8 4 9 8 8-11 8 4 9 0 8-11 9 21 8-16 9 12 8-10 9-6 8 17 9-7 8 1 9 0 8 8 9-11 8-6 9 5 8 9 9-12 8 9 8 7 9-11 8 3 9-2 8-11 9 10 8-9 9 15 8-10 9 17 8-6 9-10 8 0 9-3 8 11 9 3 8-2 9-5 8 13 8-9 9-7 8 13 9-4 8-14 9-2 8 17 9 2 8 2 9 0 8-17 9 1 8 12 9-6 8-5 9 17 8-20 9-1 8 16 8-12 9 0 8 9 9-13 8 16 9-6 8 4 9-4 8-9 9 6 8-1 9-9 8 19 9 0 8-10 9 12 8-21 8 16 9-3 8 1 9-10 8-2 9 6 8 12 9-5 8-8 9 12 8-17 9 1 8 16 9-4 8 4 9-13 8 17 9-16 8 16 8-20 9 8 8-1 9 12 8 1 9-8 8-15 9 9 8-6 9 20 8-1 9 2 8-17 9 13 8-3 9-9 8-1 9 9 8-4 8 5 9-7 8 5 9 0 8 3 9-1 8 1 9 6 8-8 9-7 8 8 9 4 8-18 9 9 8-1 9 5 8-14 9 3 8 4 8-1 9-1 8 5 9 2 8 0 9-3 8 1 9-1 8 0 9-7 8-2 9 16 8 5 9-7 8 7 9-19 8 5 9 8 8 2 8-17 9 1 8 4 9 0 8-2 9 8 8 1 9-4 8-8 9-3 8 2 9 2 8 19 9-4 8-18 9 10 8 1 9 5 8-14 8 9 9-12 8 23 9-23 8 24 9-3 8-6 9-6 8 13 9-11 8-10 9 13 8-8 9 4 8 0 9 10 8-7 8-11 9 6 8 11 9-5 8-3 9 5 8-6 9-1 8 15 9-5 8-11 9 11 8 4 9-17 8 10 9-15 8 10 9 11 8-13 8 9 9-14 8 3 9-1 8 17 9 1 8-19 9 16 8-2 9 5 8-4 9-7 8-12 9 15 8 2 9-14 8 16 9-11 8 0 8-8 9 22 8-13 9-256 4-130 4 47 9 105 8 55 9 61 8-137 4-69 5 24 8 77 9 45 8 21 9-129 4-70 4 53 9 60 8 50 9 39 8 18 8 30 9 13 8 25 9 14 8 16 9 0 8 13 9 16 8-7 9 7 8-1 9 14 8 2 9-22 8 16 9 2 8 5 9-10 8-7 8 18 9-7 8 0 9-7 8 6 9 8 8 1 9-13 8 16 9-19 8 20 9-4 8-7 9-9 8 6 9-3 8-1 8 1 9 17 8-19 9 16 8 0 9 3 8 0 9-21 8 13 9 7 8 1 9-20 8 6 9-8 8 22 9-2 8-4 9 2 8 2 8-2 9-11 8 12 9 0 8-9 9 4 8 5 9-10 8 1 9 3 8-2 9 11 8-14 9 10 8-3 9 8 8-22 9 7 8 5 8-4 9-9 8 20 9-7 8-8 9 9 8-9 9-5 8 22 9-6 8 0 9-12 8-1 9 2 8-5 9 18 8-5 9-11 8 2 8 16 9-21 6-1877 9-148 21-52 32-32 42-4 53-5 53 9" fill="none" stroke="#0000ff" stroke-width="13" stroke-linejoin="round"/>
<path transform="scale(.1)" d="M8911 3195l8 4 9 5 8-8 9 20 8-6 9-4 8 10 9-16 8 18 9-14 8 8 9-1 8-7 9 10 8-6 9-10 8-3 9 17 8 6 8-8 9 12 8-16 9 16 8-9 9 5 8 8 9 0 8 0 9-8 8 1 9-17 8 8 9 14 8-16 9 12 8-6 9-6 8-4 8-2 9 13 8 3 9-2 8 2 9-11 8 7 9-6 8 13 9-15 8-5 9 11 8-11 9 11 8 3 9-9 8 6 8-14 9 4 8-3 9-7 8 22 9-1 8 2 9-11 8-9 9 4 8 3 9-8 8 12 9 6 8-13 9 15 8-5 9 5 8-3 8 2 9-11 8 9 9-11 8-6 9 12 8 5 9-13 8-2 9-4 8 8 9 0 8-7 9 4 8-7 9 17 8-12 9 3 8 4 8 11 9-11 8 5 9-9 8 3 9-1 8 12 9-2 8-12 9-2 8-8 9 5 8 12 9-4 8-1 9-7 8 10 9-13 8 10 8 2 9-2 8 3 9-16 8 24 9-9 8 8 9-15 8 13 9 0 8-7 9-5 8-4 9 8 8 4 9-2 8-13 9 17 8 5 8-22 9 10 8 8 9 0 8-19 9 4 8 17 9-15 8 11 9-6 8-4 9 14 8-22 9 15 8 4 9-16 8 17 8 2 9-16 8 5 9-11 8 3 9 14 8 4 9-14 8 3 9 4 8-15 9 18 8-11 9 14 8-21 9-1 8 8 9 7 8-10 8-4 9 2 8 19 9-11 8 8 9-10 8-10 9 2 8 15 9-7 8 6 9 3 8-14 9 0 8 10 9-2 8-7 9-1 8 6 8 9 9 0 8-1 9-17 8 8 9-3 8 6 9 0 8 5 9-20 8 9 9 12 8-14 9 2 8 0 9-4 8 4 9-7 8-2 8 13 9-6 8 7 9-1 8 1 9-7 8 7 9 0 8-12 9 1 8 3 9-4 8 11 9-6 8 9 9-1 8 5 9-17 8-4 8 16 9-2 8 6 9-1 8-12 9-6 8 20 9-5 8-12 9 13 8-16 9 13 8-3 9 6 8-2 9-3 8 3 9-11 8 17 8-15 9-4 8 12 9 3 8 2 9 1 8-18 9 4 8 15 9-11 8-4 9 7 8 7 9-10 8 2 9-15 8 15 8-14 9 1 8 7 9 11 8-17 9 18 8-12 9 12 8 0 9-8 8 6 9-21 8 10 9-7 8-2 9 5 8 3 9 4 8-8 8 3 9 12 8-9 9 3 8-3 9-5 8 1 9 3 8-6 9-1 8 18 9-1 8 2 9-3 8-19 9 16 8-4 9 0 8-3 8 7 9-12 8 11 9-13 8 1 9 19 8-13 9 11 8-20 9 21 8-5 9-13 8 4 9-2 8 7 9-3 8 8 9-7 8 5 8-10 9 14 8-1 9-2 8-8 9-1 8 14 9-24 8 3 9 12 8 5 9-17 8-3 9 19 8-14 9-2 8-3 9 18 8 2 8-1 9-372 6-387 2 78 9 238 8 163 9 106 8 57 9 43 8-22 9-136 2-35 6 47 9 59 8 37 9 27 8 24 9 14 8 6 8 9 9 16 8 0 9 14 8 6 9-7 8 3 9 9 8 0 9-8 8-12 9 3 8 20 9-7 8-1 9 2 8 4 9-11 8-6 8 11 9 5 8 2 9 2 8-19 9 14 8-13 9-1 8 17 9-3 8-3 9-11 8 1 9 10 8-4 9 3 8-3 9-8 8 13 8-14 9-3 8 8 9-9 8 1 9 19 8-21 9 20 8-15 9 17 8-5 9-3 8-10 9 4 8 11 9-17 8 1 9 8 8 12 8-6 9 0 6-1590 9-402 21-52 32-30 42 8 53-8 53 1" fill="none" stroke="#0000ff" stroke-width="13" stroke-linejoin="round"/>
<path transform="scale(.1)" d="M8911 3214l8 5 9 0 8-9 9-3 8 3 9-4 8 7 9 6 8-16 9 9 8-4 9 2 8 3 9 5 8-6 9 0 8 5 9 2 8-3 8 11 9-21 8 13 9-2 8-2 9 12 8-2 9-17 8 6 9 1 8 4 9-10 8 6 9-7 8-1 9-2 8 4 9 2 8 5 8-2 9-1 8 1 9-7 8-1 9 20 8-17 9 3 8 0 9-7 8 21 9-19 8 2 9-14 8 20 9-10 8 10 8-15 9 6 8-6 9 11 8-14 9 21 8-5 9-13 8-3 9 2 8 13 9 4 8-15 9-1 8 17 9-22 8 10 9 12 8-11 8 4 9 5 8-19 9-1 8 20 9-8 8 4 9-10 8 14 9-5 8-2 9-2 8 1 9-4 8-9 9 1 8 0 9 2 8 15 8 0 9-6 8-4 9 1 8 6 9-16 8 17 9 7 8-2 9-3 8-13 9-2 8 19 9-5 8 0 9-13 8-3 9 16 8 4 8-22 9 0 8 6 9 6 8-6 9-1 8 6 9 6 8-6 9-4 8 9 9-8 8 12 9-20 8 18 9 0 8-18 9 0 8 1 8 2 9 0 8 0 9 6 8 13 9-17 8-2 9 0 8 19 9 0 8-17 9 6 8-10 9-2 8 13 9-6 8 1 8-1 9 8 8-7 9 14 8-20 9 4 8-2 9 8 8 7 9-6 8-6 9 3 8 11 9 3 8-10 9 4 8 0 9 0 8-5 8-7 9-5 8 6 9 16 8-21 9 6 8-3 9 3 8 7 9 0 8 7 9-15 8 15 9-16 8-5 9 6 8 1 9-5 8-4 8 4 9-4 8 13 9 11 8-15 9-1 8-5 9 6 8 6 9 9 8-21 9 5 8-9 9 10 8-6 9 2 8-6 9 13 8-11 8 13 9 9 8-8 9 0 8-16 9 15 8 3 9-11 8 15 9-5 8-3 9 7 8-12 9 5 8-10 9 12 8-16 9 19 8-8 8 7 9 6 8-7 9-15 8 15 9-5 8-1 9 6 8-6 9 11 8-7 9 2 8-13 9 1 8 1 9 3 8-7 9 3 8 17 8-2 9-15 8-2 9-4 8 5 9 15 8-10 9-1 8 0 9 12 8-21 9 12 8 6 9-18 8 15 9 7 8-14 8 10 9 1 8-2 9-8 8 7 9-9 8-5 9-3 8 3 9-1 8 17 9-15 8 18 9-12 8 13 9-1 8-21 9 20 8-14 8 4 9 13 8-19 9 18 8-20 9 1 8 8 9 1 8 11 9-17 8 16 9-12 8-10 9 6 8 14 9-15 8 1 9 9 8-11 8 5 9 4 8-3 9 6 8 0 9-15 8 13 9-10 8 10 9 4 8 5 9-24 8 5 9-6 8 10 9 13 8-2 9 2 8-14 8 0 9-8 8 16 9 2 8 0 9 2 8 3 9-12 8 2 9 1 8-14 9 15 8-12 9 7 8 11 9 1 8-14 9-7 8 21 8-16 9 11 8-11 9-4 8 3 9 12 8 2 9-20 8 1 9 0 8 9 9 12 8-7 9-14 8 21 9-6 8 6 8-20 9 13 8-96 8-151 1 2 8 19 9 9 8 10 9 12 8 25 9 1 8 22 9 1 8 0 9 22 8-6 9-26 8-93 9 8 8 36 8 2 9 14 8 9 9 6 8 18 9 22 8 10 9 2 8 14 9 1 8 18 9-8 8 13 9 15 8 4 9-16 8 7 9 4 8 16 8-11 9 23 8-10 9-3 8 21 9 8 8-1 9 3 8-16 9 7 8 5 9 11 8-12 9 14 8 1 9-10 8 0 9-3 8 1 8 17 9-3 6-1430 9-529 21-46 32-35 42 2 53-7 53 9" fill="none" stroke="#0000ff" stroke-width="13" stroke-linejoin="round"/>
<path transform="scale(.1)" d="M8911 3200l8 0 9 0 8 15 9-4 8 7 9-17 8 7 9-13 8 17 9-3 8-11 9-3 8 5 9-3 8-1 9 16 8-8 9 13 8-7 8-7 9 11 8 9 9-10 8 12 9-10 8 9 9-8 8-10 9 2 8-3 9 10 8 0 9 10 8-19 9 6 8 4 9 6 8-8 8 10 9-2 8 1 9-8 8 7 9-17 8 5 9-6 8 7 9 10 8-3 9-22 8 6 9-2 8 1 9 14 8-4 8-6 9-10 8-2 9 8 8 8 9 6 8-13 9 3 8-13 9 18 8 0 9 5 8-1 9-19 8-1 9 17 8 3 9-13 8 8 8-10 9-7 8 4 9 12 8-9 9 8 8-12 9 13 8-15 9 4 8-5 9 13 8-15 9 9 8 8 9-9 8 8 9 5 8 1 8-14 9 9 8 4 9-17 8 15 9-15 8 12 9-2 8-14 9 2 8 0 9-4 8 9 9-8 8 8 9 1 8 6 9-1 8-5 8 8 9-10 8-6 9 4 8 12 9 5 8-9 9-1 8-11 9 8 8 0 9-2 8 1 9-3 8 3 9 0 8 8 9 3 8-8 8-11 9-2 8 16 9-7 8 1 9 2 8 7 9-15 8 17 9-4 8-1 9 2 8 0 9 3 8-11 9 8 8-12 8 1 9 0 8 3 9-3 8 8 9-5 8-5 9 11 8-12 9 3 8-10 9 9 8 2 9-6 8 12 9-2 8-2 9-7 8 0 8 13 9-19 8-1 9 12 8-12 9 9 8 6 9 7 8 2 9-14 8-4 9 3 8-4 9 8 8-7 9 3 8-1 9 2 8-3 8 3 9 11 8-14 9-1 8 7 9-14 8 12 9 8 8-9 9 4 8 5 9-18 8 17 9-13 8 13 9-8 8-12 9 22 8-19 8 21 9-24 8 2 9 11 8-5 9 4 8 8 9-5 8-2 9-11 8 19 9-11 8 2 9-2 8-6 9 4 8 7 9-16 8 9 8 8 9-7 8-8 9 20 8-15 9 4 8 5 9 3 8-2 9-5 8 1 9-5 8 8 9-9 8 4 9-8 8 0 9 14 8-19 8 11 9 5 8 2 9-11 8 6 9-6 8 11 9-15 8 14 9-15 8 11 9 1 8-5 9 2 8-1 9-1 8-9 8 5 9 16 8-22 9 24 8-1 9-19 8 13 9 6 8-4 9-8 8-8 9 20 8-4 9 4 8-1 9-7 8-4 9-12 8 8 8-5 9 6 8-8 9 6 8 11 9-4 8-3 9 10 8-21 9 11 8 7 9-7 8-8 9 13 8-8 9 12 8-3 9 1 8-8 8-5 9 12 8-12 9 3 8-4 9-7 8 17 9-17 8 14 9-2 8 8 9 2 8-13 9 13 8 1 9-1 8-11 9 8 8-1 8-13 9 8 8 7 9-13 8-8 9 9 8 5 9-3 8-4 9-3 8 1 9 13 8-13 9 16 8 0 9-10 8 8 9-9 8 7 8-17 9 13 8-10 9-3 8 12 9-8 8 7 9 2 8 7 9-13 8-7 9 6 8 9 9-5 8 4 9-1 8-10 8 19 9-12 8 0 9 9 8-15 9 12 8-4 9 4 8-9 9 4 8-6 9 6 8-9 9 6 8 11 9-10 8 6 9-1 8-16 8 11 9-6 8 14 9-12 8 13 9-3 8 2 9 3 8-22 9-1 8 14 9 9 8-18 9 2 8 15 9-44 8-188 3-77 6 20 8 22 8 31 9 40 8 17 9 14 8 23 9-37 4-20 4 21 9 26 8 17 9 9 8 14 9 16 8 7 9 12 8 6 9 13 8-4 9 13 8-4 8 1 9 8 6-1379 9-528 21-48 32-22 42 2 53-11 53 9" fill="none" stroke="#0000ff" stroke-width="13" stroke-linejoin="round"/>
<path transform="scale(.1)" d="M8911 3207l8-2 9 4 8 5 9-2 8-9 9-5 8 14 9 0 8-3 9 0 8-5 9-3 8 0 9-2 8 2 9-6 8 13 9 0 8 3 8 9 9-13 8 10 9-4 8 1 9 4 8 9 9-7 8-5 9-12 8 20 9-18 8-2 9 4 8 13 9 6 8-21 9 20 8-6 8-16 9 7 8-4 9 0 8 16 9-8 8 10 9-7 8-3 9-8 8 13 9-18 8 13 9-3 8 5 9-13 8 0 8-3 9 7 8-13 9 5 8 4 9-7 8 17 9-3 8-7 9-1 8-9 9 7 8 16 9-23 8 12 9 7 8-14 9 3 8-6 8 8 9 7 8-5 9 0 8 3 9-6 8 10 9-2 8 3 9 2 8-12 9-5 8 8 9-12 8 7 9-2 8 10 9-16 8 14 8-12 9 14 8-17 9 7 8 12 9-14 8 14 9-5 8 0 9 1 8-1 9 5 8-6 9 8 8-18 9 11 8-9 9 7 8-13 8 2 9 4 8-3 9-2 8-1 9 13 8-4 9 13 8-8 9 1 8-7 9 15 8-19 9 17 8-9 9-1 8-9 9 5 8 12 8-13 9 11 8-10 9 5 8-13 9 12 8 5 9-1 8-16 9 15 8 2 9-7 8-3 9-7 8 21 9-6 8-10 8 6 9-5 8 0 9 14 8 1 9-3 8-3 9 3 8-3 9 5 8 2 9-13 8-5 9 14 8 2 9-16 8 16 9-1 8-9 8 5 9-13 8 7 9 0 8 3 9 9 8-20 9 11 8-11 9 18 8-8 9-3 8 10 9 1 8-21 9 0 8-2 9 12 8-5 8 3 9 3 8 8 9-12 8 5 9-6 8 16 9-7 8 5 9-16 8 7 9 4 8-12 9 6 8 6 9-2 8 9 9-1 8 0 8-23 9 2 8 9 9-10 8 10 9-4 8 14 9-8 8-4 9 5 8-7 9 8 8-8 9 11 8-7 9 2 8-3 9 12 8-5 8-12 9 14 8-8 9-13 8 10 9-3 8-1 9-5 8 14 9 0 8-9 9 18 8-11 9 5 8-7 9-5 8-3 9 9 8-5 8 15 9-14 8-7 9 8 8 3 9-1 8 3 9 5 8 0 9-15 8 7 9 12 8-15 9-5 8 4 9 12 8-19 8 19 9-8 8 1 9 7 8-2 9 2 8 0 9 3 8-15 9-1 8 11 9-18 8 13 9-1 8-11 9 7 8 4 9-7 8 0 8 11 9 6 8-17 9 0 8 3 9 12 8-15 9 14 8-16 9 5 8-1 9 14 8-7 9-9 8 15 9 2 8-10 9-10 8 5 8 10 9 3 8-18 9 0 8 3 9 12 8-13 9 18 8-4 9-4 8-16 9 23 8-3 9-14 8-1 9 12 8 5 9-19 8-3 8 1 9 9 8 11 9-16 8 2 9-4 8 2 9 6 8-12 9 13 8 0 9-5 8-3 9 4 8-8 9 16 8-15 9 0 8 13 8 8 9-14 8-1 9-8 8 10 9-4 8-1 9 14 8-12 9 5 8 6 9-2 8-2 9-9 8 4 9 6 8 7 8-19 9 1 8-2 9 1 8 18 9-5 8-5 9 4 8-13 9 15 8 5 9-11 8 10 9 0 8-14 9 0 8 2 9 11 8-12 8 1 9 5 8 2 9 2 8-8 9 3 8-6 9-2 8 10 9-9 8 9 9-12 8 13 9-9 8-4 9-2 8 7 9-9 8-2 8 4 9 11 8 2 9-9 8 13 9-2 8 2 9-13 8 6 9-13 8 3 9 6 8 5 9 0 8 7 9-2 8-18 9 14 8 7 8-24 9 15 6-1349 9-582 21-53 32-15 42-4 53-7 53 12" fill="none" stroke="#0000ff" stroke-width="13" stroke-linejoin="round"/>
<path transform="scale(.1)" d="M8911 3212l8-9 9 15 8 0 9 0 8-18 9-4 8 1 9 9 8 11 9-17 8 7 9-7 8 4 9 1 8 10 9 0 8 2 9-9 8 12 8-17 9 23 8-18 9 16 8 0 9-20 8 17 9-9 8 0 9 4 8 2 9 5 8-14 9 8 8-6 9-5 8 18 9-9 8 2 8-15 9 8 8 10 9-6 8 11 9-13 8 11 9-1 8-10 9 0 8 8 9-18 8 7 9-10 8 16 9-20 8 10 8 7 9-3 8-9 9 13 8-20 9 17 8-5 9 9 8-10 9-12 8 19 9 0 8-9 9-3 8 12 9-1 8-10 9 9 8 5 8-17 9-4 8 2 9-2 8 16 9-2 8-8 9 0 8 0 9 1 8 8 9 0 8 4 9 0 8-13 9 12 8-19 9-2 8 20 8-21 9 9 8 15 9-9 8 0 9 1 8 6 9-4 8 5 9-10 8-1 9 6 8-17 9 0 8 10 9-8 8 11 9-10 8 0 8 10 9-10 8 10 9 4 8-6 9 8 8-15 9 11 8-6 9-8 8 5 9-7 8 4 9 1 8-1 9 1 8-6 9 8 8-2 8 3 9 0 8-10 9 16 8 2 9-7 8 4 9-10 8 2 9 16 8-5 9-11 8 6 9-7 8 5 9 9 8-15 8-7 9 22 8-13 9 0 8 0 9 2 8 0 9-12 8 3 9 11 8-10 9 4 8-4 9-4 8 22 9-3 8-1 9-14 8-3 8 17 9-6 8-10 9 4 8 3 9-8 8 0 9 20 8-22 9 17 8-8 9-4 8 12 9-1 8-15 9 3 8-4 9 21 8-13 8-3 9-5 8 5 9 11 8 5 9-2 8-2 9-8 8 6 9 4 8 2 9-15 8-4 9 17 8-9 9-12 8 15 9-4 8-7 8 19 9-21 8 3 9 1 8 9 9-3 8-12 9 22 8-1 9-13 8-8 9 20 8-1 9-7 8-8 9 5 8-2 9 15 8-4 8-10 9-3 8 15 9 0 8-5 9-3 8 2 9 4 8 2 9-14 8-8 9 8 8-7 9 20 8-13 9 7 8-12 9 6 8-1 8-7 9-1 8 20 9-8 8 9 9-12 8 8 9-12 8 9 9 8 8-21 9 18 8-3 9-7 8 12 9-18 8 1 8 15 9-12 8 12 9-10 8 10 9-4 8-5 9-2 8-3 9-7 8 13 9-1 8 3 9-14 8 8 9 3 8 0 9-6 8-11 8 9 9-10 8 7 9-3 8 7 9-4 8-9 9 15 8-10 9 4 8-1 9-2 8 2 9-10 8 13 9-6 8-2 9 2 8-17 8 3 9-6 8 18 9-2 8-4 9-6 8-9 9-1 8-1 9 20 8-1 9-8 8-3 9 9 8-9 9 5 8-20 9 16 8-3 8 2 9-17 8 17 9-9 8 5 9-1 8-20 9 6 8-1 9 9 8-16 9-1 8 7 9 10 8 3 9-13 8 1 9-10 8-4 8 3 9 14 8-19 9 8 8 14 9-5 8-20 9 3 8 1 9 1 8 15 9-23 8 15 9-13 8 5 9 1 8-2 8-10 9 1 8 10 9-12 8 16 9-5 8 0 9 6 8-10 9 9 8-25 9 3 8 8 9 9 8-5 9-14 8 11 9 4 8-9 8-4 9 10 8-7 9-5 8-5 9 7 8-15 9 17 8-13 9 16 8-21 9 8 8 8 9-16 8-3 9 18 8-19 9-3 8 14 8-11 9 1 8 3 9 3 8 1 9-13 8 0 9-5 8 21 9-13 8-4 9 11 8 4 9-22 8 2 9 1 8 8 9-3 8-10 8 17 9-16 6-1149 9-643 21-52 32-19 42-3 53 3 53 2" fill="none" stroke="#0000ff" stroke-width="13" stroke-linejoin="round"/>
<path transform="scale(.1)" d="M8911 3208l8-7 9-5 8 2 9 1 8-3 9 6 8 0 9 16 8-8 9-2 8 9 9-19 8 13 9 3 8 4 9-12 8 5 9-15 8 16 8 5 9 7 8 3 9-16 8 2 9 3 8-1 9 3 8-13 9 21 8-4 9-14 8 12 9-1 8-2 9 3 8-11 9 16 8-11 8-4 9 9 8-10 9 10 8-7 9 13 8-6 9-6 8-1 9 4 8 10 9-20 8-8 9 14 8 2 9-10 8 9 8 3 9 1 8-14 9-6 8 3 9 4 8-7 9 1 8 14 9-3 8-14 9 0 8 8 9 0 8 7 9 6 8-6 9 3 8-10 8-1 9 1 8-7 9 22 8-5 9 3 8-7 9-13 8 11 9-9 8 16 9-5 8-11 9 13 8-11 9 3 8-1 9 15 8-8 8-15 9 15 8 2 9-18 8 10 9-2 8 5 9-4 8 6 9 3 8-1 9 2 8-11 9 14 8 0 9-10 8-12 9 5 8 3 8-2 9 13 8-7 9 12 8-12 9 12 8-3 9 0 8-5 9-3 8 6 9 3 8-1 9-20 8-1 9 2 8 19 9-2 8-17 8 22 9-4 8-12 9-8 8 1 9 2 8 13 9-10 8-5 9 1 8-2 9 5 8-1 9 2 8 7 9-3 8-9 8 9 9 13 8-10 9-11 8 4 9 6 8-12 9 5 8 13 9-12 8-4 9 21 8-23 9 13 8-11 9 21 8-8 9 1 8 2 8-11 9-3 8 3 9-6 8 19 9-4 8-3 9-10 8 2 9-6 8 2 9 9 8-5 9-2 8 7 9-4 8-4 9 0 8 17 8 3 9-17 8-2 9 15 8-16 9 2 8 15 9 0 8-13 9 1 8 12 9-19 8 17 9-15 8-3 9 20 8-14 9 4 8-9 8 11 9 1 8 5 9-16 8 13 9-14 8 21 9-21 8 22 9-18 8-5 9 15 8-7 9 5 8 8 9-19 8 9 9-8 8 19 8-3 9-2 8-14 9 19 8 0 9-9 8 0 9-11 8-1 9 16 8-13 9 10 8-10 9 2 8 15 9-10 8 1 9-1 8-2 8-4 9 7 8-2 9-8 8 4 9 12 8 1 9-3 8-17 9 14 8-13 9-2 8 7 9 8 8-9 9 6 8-11 8 11 9-4 8-1 9 1 8 12 9-10 8 3 9-6 8-2 9 13 8-5 9 2 8-18 9 11 8 0 9-13 8 3 9-2 8 8 8 8 9-6 8 6 9-9 8-2 9-1 8-13 9 10 8 9 9-2 8-13 9 4 8 2 9-3 8 1 9-7 8 1 9 13 8-12 8 5 9-9 8 3 9-8 8-6 9 4 8 3 9 2 8 9 9-16 8 12 9-5 8-6 9 7 8-15 9 7 8-11 9 22 8-11 8 2 9-6 8-3 9 1 8-10 9 12 8 1 9-10 8 4 9 6 8-17 9 17 8 3 9-12 8-10 9 0 8 0 9 5 8 2 8 4 9 3 8-8 9-10 8 6 9-11 8 3 9 6 8-2 9 3 8-12 9 1 8 15 9-18 8 4 9 7 8-10 8 7 9-7 8 4 9-4 8-8 9 0 8 10 9 1 8-9 9 1 8 13 9-11 8 5 9-10 8 11 9-4 8 1 9-2 8-7 8-8 9 4 8-1 9-3 8 8 9-1 8-7 9 11 8-15 9-5 8 1 9 19 8-22 9 17 8 1 9-12 8 5 9 4 8-11 8 1 9-1 8 0 9-4 8-4 9 0 8 0 9-4 8 8 9-5 8 13 9 0 8-10 9-7 8 11 9-19 8 16 9-6 8 0 8-13 9 19 6-1079 9-732 21-41 32-22 42 2 53-13 53 10" fill="none" stroke="#0000ff" stroke-width="13" stroke-linejoin="round"/>
<path transform="scale(.1)" d="M8911 3214l8-17 9 20 8-14 9 15 8-11 9 5 8-16 9 13 8-10 9 20 8-5 9-19 8 15 9 9 8-6 9-3 8-4 9 4 8 10 8-4 9 0 8 7 9-9 8-1 9 0 8-4 9 7 8 6 9-18 8 20 9-5 8-2 9 0 8 5 9-17 8 14 9-6 8-1 8 11 9-7 8 7 9-10 8-5 9-3 8-2 9 20 8-8 9-5 8 7 9-23 8 12 9-10 8 20 9-8 8-8 8-3 9 8 8-9 9 3 8 8 9-7 8 5 9 9 8-19 9 1 8-1 9 16 8-13 9 18 8-11 9 4 8-5 9 3 8-4 8 3 9-8 8 2 9 10 8 2 9-1 8-3 9-2 8-2 9-7 8-5 9 18 8-1 9-6 8 13 9-16 8 15 9-14 8 0 8 5 9-15 8 17 9 7 8-2 9-3 8-13 9 0 8 10 9-13 8 17 9-1 8-9 9 1 8-6 9 11 8-14 9 6 8-1 8 3 9 9 8-9 9-10 8 23 9-7 8 0 9 1 8-13 9 3 8 13 9-14 8-4 9 20 8 1 9-15 8-7 9 9 8 1 8 2 9-4 8-9 9 8 8-4 9 7 8-10 9 3 8 6 9 5 8 0 9-17 8 9 9 14 8-11 9 2 8-4 8 7 9-15 8 10 9-8 8 14 9-16 8 8 9 0 8 3 9-12 8 9 9 1 8 4 9-3 8 5 9-4 8 4 9 5 8-8 8 9 9-16 8 14 9-20 8 14 9 1 8-6 9 6 8-11 9 10 8-15 9 22 8-1 9-20 8 5 9 10 8-9 9 7 8-4 8 6 9-7 8-3 9-5 8 15 9-8 8 0 9-7 8 9 9-9 8-2 9 13 8 0 9-14 8 10 9 1 8-6 9 4 8 2 8-4 9 10 8-3 9 9 8-17 9-3 8 2 9-6 8 6 9 16 8-6 9-15 8 20 9-19 8 2 9 16 8-1 9-13 8 2 8 15 9-12 8 8 9-17 8 8 9 13 8-9 9 9 8-22 9 0 8 5 9 17 8-23 9 17 8-10 9-3 8 5 9 11 8-3 8-12 9 15 8-7 9-13 8 13 9 6 8-12 9 7 8-11 9 10 8-11 9 0 8 16 9-9 8 2 9 8 8-19 8 14 9-7 8 13 9-22 8 0 9 7 8 14 9-14 8 5 9-1 8 6 9 0 8-17 9 5 8-4 9-1 8 8 9-5 8 5 8-9 9 5 8-10 9 12 8-3 9 6 8 1 9-5 8 4 9-11 8 0 9-13 8 20 9-24 8 21 9-19 8 11 9 2 8-10 8 6 9 8 8-4 9-14 8-2 9-8 8 18 9-14 8 10 9-5 8 5 9-4 8-13 9 16 8-5 9-13 8 10 9-9 8 6 8 4 9-10 8 1 9 6 8-16 9 21 8-19 9 2 8 0 9 5 8-8 9 17 8-16 9-6 8 10 9-9 8 1 9 4 8-8 8 7 9 8 8-11 9-6 8 14 9-8 8-10 9 19 8-22 9 12 8-1 9-9 8 2 9 7 8 2 9-7 8-12 8-4 9 6 8 0 9 0 8-7 9 18 8 0 9-18 8 19 9-13 8 2 9-13 8 6 9 9 8 4 9-11 8-3 9 1 8-3 8 12 9-8 8-13 9 13 8 2 9-1 8-19 9 1 8 10 9 1 8-1 9-14 8-1 9-2 8 2 9 3 8 13 9-21 8 18 8-14 9 8 8 7 9-16 8 9 9-16 8 17 9-13 8 5 9 9 8-7 9-1 8-12 9-1 8-5 9 18 8-2 9-4 8 0 8 2 9-14 6-965 9-804 21-37 32-23 42 0 53-6 53-1" fill="none" stroke="#0000ff" stroke-width="13" stroke-linejoin="round"/>
<path transform="scale(.1)" d="M8911 3210l8-14 9 18 8 1 9-11 8-3 9 1 8 5 9-5 8 9 9-15 8 5 9-1 8 6 9-9 8 11 9-12 8 12 9-12 8 23 8-5 9-1 8 0 9-7 8 0 9 16 8-13 9 5 8 3 9 7 8-20 9-2 8 7 9 3 8 12 9-6 8 0 9 6 8-7 8 0 9-1 8 8 9-1 8-21 9 10 8 8 9-5 8 2 9-3 8 7 9-22 8-5 9 8 8-9 9 4 8 7 8 0 9-4 8 8 9 7 8-10 9-9 8 4 9 15 8-19 9 19 8-12 9 9 8-3 9 1 8-9 9-3 8-4 9 9 8 11 8 1 9-1 8-2 9-1 8-3 9 4 8-18 9 12 8-3 9-7 8 15 9-8 8 11 9-11 8-11 9 9 8 6 9-8 8 3 8 0 9-3 8-2 9-5 8-2 9 1 8 3 9 3 8-3 9 15 8 0 9-16 8 10 9 10 8-18 9 15 8-3 9-16 8 18 8-16 9 14 8-13 9 10 8-5 9-3 8-1 9 13 8-12 9 13 8-2 9-13 8 15 9-7 8 8 9-12 8 10 9-4 8-16 8 13 9-1 8 11 9-5 8 4 9-13 8 11 9 0 8 0 9-14 8 2 9 9 8-1 9 1 8-7 9-1 8 11 8 0 9-12 8 8 9-9 8 12 9 2 8 0 9-19 8 8 9 12 8-8 9-7 8 10 9-15 8 20 9-13 8-1 9 10 8-20 8 11 9 10 8-16 9 18 8-16 9-4 8 5 9 15 8-1 9-19 8 0 9 14 8-16 9 2 8 18 9-19 8 21 9-8 8 3 8 0 9-7 8 11 9-23 8 19 9-12 8 8 9-14 8 9 9 1 8-6 9 5 8 2 9 7 8-15 9 4 8 4 9-13 8 13 8-7 9 14 8-5 9-7 8 9 9-18 8 0 9 9 8-2 9 11 8-13 9-2 8 10 9-3 8-2 9 10 8 5 9-3 8-9 8-3 9-5 8 14 9 3 8-7 9 7 8-3 9-6 8-4 9 14 8-2 9-7 8-2 9 9 8-12 9 2 8-10 9 0 8 8 8 14 9-11 8 6 9 0 8 5 9-16 8 1 9 10 8 1 9-19 8 11 9-4 8 11 9-17 8 5 9 5 8 10 8-8 9 10 8-5 9-14 8 17 9-3 8-3 9-16 8 20 9-6 8-3 9 12 8-13 9 12 8-6 9 0 8-17 9 14 8 3 8 0 9 0 8 4 9-4 8-10 9 9 8 3 9 4 8-18 9 12 8 0 9-14 8-3 9 10 8 12 9-19 8 2 9 18 8-6 8-14 9 9 8 7 9-20 8 19 9 1 8-13 9-7 8 7 9 17 8-1 9-4 8-12 9-7 8 21 9-14 8 0 9 16 8-22 8 15 9-2 8-10 9 6 8-2 9 14 8-14 9 11 8-16 9 1 8 3 9 0 8-8 9 3 8 3 9 9 8 8 9-24 8 23 8 0 9-13 8-10 9 13 8 6 9 5 8-4 9-5 8 0 9 2 8-15 9-3 8 0 9 20 8-13 9 13 8-7 8-1 9 4 8-11 9 14 8-15 9 1 8 3 9 14 8-1 9-17 8-4 9 18 8-11 9-2 8-3 9 18 8-2 9 4 8-16 8 8 9-8 8 13 9-12 8 9 9-4 8-4 9-9 8 19 9-15 8 18 9-3 8-13 9 15 8-18 9-2 8 17 9-12 8 1 8-8 9 12 8 3 9-13 8 15 9-16 8 14 9-1 8-11 9 2 8 14 9-12 8-8 9 14 8-4 9-2 8-2 9 8 8 1 8 5 9-12 6-1012 9-842 21-32 32-28 42 7 53-12 53 4" fill="none" stroke="#0000ff" stroke-width="13" stroke-linejoin="round"/>
<path transform="scale(.1)" d="M8911 3218l8-3 9 0 8-19 9 4 8 19 9 1 8-14 9 3 8-3 9-7 8 0 9 17 8-20 9 12 8 0 9 8 8-2 9 1 8 6 8-7 9 7 8 0 9 4 8 1 9-21 8 12 9-1 8 8 9-21 8 24 9-19 8 18 9-6 8-5 9 1 8-6 9 3 8-3 8 16 9-6 8 0 9-5 8 2 9 7 8 0 9 2 8 0 9-15 8-8 9 1 8 10 9-10 8 2 9 6 8-13 8 13 9-1 8 6 9-5 8-16 9 11 8-7 9 6 8 6 9-2 8-4 9 5 8-6 9 13 8-9 9 6 8-9 9-1 8-9 8 0 9 0 8 11 9 4 8-14 9 18 8-7 9 8 8-18 9 1 8-4 9 18 8-16 9 3 8 4 9 3 8-9 9 8 8-12 8 1 9 13 8-4 9 3 8-12 9 1 8 11 9 1 8 1 9-8 8 0 9 1 8 2 9-4 8 17 9-12 8-5 9-1 8-2 8 14 9-17 8-1 9 8 8-4 9 15 8 0 9-1 8-7 9-9 8 13 9-14 8 2 9 19 8 1 9-24 8 12 9-7 8-2 8 14 9 7 8-21 9-2 8 13 9-6 8 16 9-23 8 8 9-9 8 7 9 8 8 5 9-9 8-8 9 8 8 0 8 7 9 2 8-2 9-2 8-4 9-12 8 17 9 1 8-13 9-5 8 18 9-2 8-3 9 9 8-1 9-11 8 7 9 1 8-15 8 8 9-2 8-2 9-2 8-5 9-1 8 21 9-15 8 17 9-2 8-3 9 3 8-1 9-2 8-14 9 0 8 8 9-2 8-5 8 4 9 13 8-10 9 7 8-7 9-12 8 19 9-3 8-7 9-2 8 9 9-2 8-3 9-11 8 22 9-21 8 9 9-9 8 13 8-7 9 16 8-5 9-11 8 8 9-5 8-11 9 10 8-2 9 2 8 8 9-18 8 15 9 8 8-10 9 1 8 5 9-6 8 9 8-22 9 11 8 6 9-7 8-1 9 5 8-10 9 8 8-11 9 4 8 1 9 13 8-13 9-7 8 4 9 19 8-6 9 7 8-16 8-6 9 5 8 1 9 3 8-5 9 5 8-7 9 16 8-8 9-4 8 14 9-12 8-9 9 21 8-16 9 0 8-4 8-2 9 8 8 1 9 3 8 1 9-4 8 6 9-11 8 6 9 3 8-2 9-5 8-3 9 0 8 3 9 11 8 6 9-3 8 1 8-10 9 10 8-10 9-7 8 8 9-11 8 13 9-3 8 5 9 4 8-11 9 11 8-1 9-3 8-11 9-6 8 18 9 0 8-18 8 9 9-5 8-5 9 8 8 10 9-18 8 2 9 22 8-24 9 8 8 11 9-6 8 4 9-12 8 9 9 8 8-20 9 14 8 4 8-13 9 14 8-12 9 4 8 8 9-21 8 7 9 15 8-20 9 6 8-5 9 2 8 15 9-4 8 3 9-15 8-4 9 9 8-2 8-8 9 12 8 2 9 4 8-18 9 21 8-1 9-17 8 21 9-5 8-8 9 7 8-3 9 9 8-16 9 14 8-5 8 5 9-15 8 12 9-9 8 13 9-13 8 5 9-14 8 18 9-3 8-14 9 20 8-10 9 0 8 4 9 3 8-8 9 12 8 0 8-7 9-2 8 3 9-11 8 7 9-5 8 1 9-3 8-6 9 9 8-3 9 3 8 12 9-18 8 7 9 12 8-17 9 6 8-11 8 13 9-2 8-10 9-1 8 4 9 8 8 0 9-7 8-4 9 10 8-6 9 4 8 0 9 8 8-1 9 0 8-18 9 24 8-5 8 0 9-15 6-969 9-552 21-354 32-26 42 0 53-3 53 3" fill="none" stroke="#0000ff" stroke-width="13" stroke-linejoin="round"/>
<path transform="scale(.1)" d="M8911 3219l8-19 9-1 8 17 9-6 8-14 9 0 8 4 9-1 8 17 9-18 8 1 9 16 8-18 9 2 8-2 9 0 8 20 9-2 8-7 8 15 9-4 8-11 9-1 8 10 9 0 8-7 9-8 8 10 9 6 8 3 9 1 8-10 9-3 8 12 9-13 8 4 9 0 8 2 8 2 9 10 8-13 9-3 8-6 9-2 8 8 9 12 8-17 9 11 8-14 9-8 8 21 9 1 8 0 9-15 8 4 8-3 9 7 8-6 9 12 8-3 9-13 8 13 9 2 8-13 9-8 8 1 9 1 8 4 9 18 8-4 9-11 8 2 9-8 8 20 8-15 9 14 8-17 9 16 8-10 9-7 8-5 9 5 8 0 9 12 8-9 9 3 8 1 9-3 8 4 9 1 8-9 9 3 8-8 8 1 9 3 8 17 9-10 8 0 9-7 8-3 9 17 8 5 9-21 8-3 9 16 8-7 9 5 8 0 9-6 8-1 9-5 8 13 8-3 9 1 8-14 9 12 8-10 9-1 8 23 9-19 8 17 9-10 8-3 9 13 8-12 9-3 8 8 9-4 8 3 9 6 8-2 8-17 9 7 8 2 9-6 8-1 9 2 8 9 9-4 8 5 9 7 8-21 9 20 8-7 9-12 8 13 9-14 8 22 8-4 9-7 8-5 9-4 8-2 9 2 8 15 9-20 8 23 9-10 8 3 9 8 8-5 9-19 8 0 9 16 8-16 9 6 8 17 8-14 9 10 8-2 9-11 8 13 9-4 8 9 9-8 8 0 9 5 8 0 9-7 8 8 9-22 8 17 9-3 8 8 9-19 8 16 8 2 9-7 8-13 9-1 8 11 9-2 8 12 9-20 8 3 9 13 8-15 9 17 8-8 9 4 8-6 9 7 8-7 9 7 8 6 8-3 9-16 8 8 9-2 8-3 9 10 8 1 9-5 8-9 9 1 8 6 9-3 8 8 9-17 8 8 9-4 8 10 9-5 8-3 8 4 9-5 8 12 9-13 8 11 9-5 8 10 9-7 8-12 9 21 8-4 9-9 8-2 9-1 8 0 9-1 8 3 9 11 8-10 8 7 9 6 8-12 9-12 8 13 9-8 8 4 9 14 8-12 9-11 8 8 9 9 8-15 9 5 8-6 9 2 8 6 8 3 9-1 8 5 9-14 8 18 9-21 8 16 9-3 8-4 9 8 8-8 9 14 8-20 9 18 8-19 9 1 8 1 9 1 8 14 8-9 9 12 8-17 9-1 8 14 9-5 8 8 9-14 8-1 9 16 8-14 9-6 8 17 9-18 8 15 9 7 8-2 9-17 8 14 8-16 9 10 8 9 9-18 8 12 9 4 8 3 9-7 8-4 9-1 8-2 9 12 8 2 9-22 8 12 9-8 8-4 9 7 8-3 8 12 9 1 8-8 9-12 8 1 9 18 8-10 9 8 8-1 9 2 8-18 9 15 8-2 9 9 8-19 9 19 8-18 9 14 8 0 8 5 9-8 8-15 9 15 8 1 9-11 8 13 9-13 8-5 9 2 8 21 9-19 8 0 9 0 8 5 9 12 8-14 8 2 9 2 8-7 9 15 8-5 9-7 8-6 9-3 8 3 9 15 8-4 9-2 8 1 9 10 8-7 9-14 8 13 9-12 8-1 8 10 9-10 8-2 9 24 8-14 9-9 8 15 9-1 8 5 9-18 8 8 9-1 8 0 9-7 8 9 9-1 8 3 9 2 8-15 8 7 9 4 8 10 9-14 8 15 9-10 8 6 9-5 8 5 9-1 8-5 9 8 8-3 9-12 8 15 9-18 8 10 9 5 8-14 8 10 9 0 6-1005 9-143 21-143 32-65 42-52 53-48 53 33" fill="none" stroke="#0000ff" stroke-width="13" stroke-linejoin="round"/>
<path transform="scale(.1)" d="M8911 3199l8 6 9 7 8-13 9 14 8-4 9-8 8-2 9 14 8-17 9 19 8-2 9-6 8-1 9 1 8 1 9-7 8 13 9-5 8 2 8-5 9 16 8-3 9-3 8 5 9-6 8-10 9 17 8-15 9-1 8 10 9 3 8 6 9-11 8-7 9 11 8 4 9-15 8 17 8-10 9-5 8 6 9 6 8-8 9 7 8-9 9-3 8 0 9 1 8 16 9-12 8-10 9 1 8-7 9 12 8 9 8 0 9 0 8-12 9 5 8 7 9-21 8 21 9-7 8-11 9 2 8 12 9-18 8 12 9-9 8 10 9-6 8-7 9 22 8-13 8 0 9-10 8 9 9 9 8 3 9-11 8 10 9-5 8-15 9 20 8-1 9-11 8 4 9-10 8 14 9-11 8 9 9-15 8 2 8 18 9-4 8-3 9 0 8-3 9-2 8 13 9-12 8-4 9 10 8 3 9 1 8-9 9 12 8-2 9-3 8-9 9-2 8 5 8 10 9-5 8 7 9-23 8 13 9-9 8 15 9-1 8 3 9-6 8-7 9 3 8 6 9 4 8-3 9-12 8 14 9-20 8 4 8 16 9 4 8-20 9 19 8-15 9 4 8 2 9-4 8 14 9-18 8-2 9 19 8-6 9-13 8 15 9 2 8-17 8-4 9 0 8 20 9 1 8 3 9-3 8-5 9-15 8 5 9 14 8-6 9-3 8 9 9 3 8-4 9-2 8 6 9-23 8 0 8 12 9 1 8-3 9-7 8 11 9-13 8-1 9 17 8-7 9-10 8 16 9-17 8 13 9-5 8 15 9-8 8-6 9 11 8-19 8 14 9-4 8-5 9 11 8-10 9 0 8-1 9 11 8-1 9-6 8 4 9-1 8-2 9-5 8 15 9-2 8 3 9-10 8 8 8-18 9 18 8-6 9-8 8 12 9 5 8-4 9-12 8 9 9-15 8 20 9-4 8-5 9 4 8 1 9 5 8-10 9-6 8 9 8-15 9 9 8 6 9 0 8 2 9 5 8-9 9-2 8-6 9 17 8 2 9-22 8 13 9-9 8-3 9 14 8 3 9-15 8 12 8-5 9 12 8-14 9 3 8 6 9 0 8-18 9 1 8 14 9 0 8 0 9 0 8-1 9-15 8 24 9-9 8-5 8-1 9 7 8-10 9 7 8 7 9-19 8 18 9-13 8-5 9 19 8-15 9 0 8 10 9-14 8 19 9-9 8-11 9 11 8-9 8 12 9-6 8 4 9-6 8 0 9 0 8-1 9 13 8-10 9-4 8 1 9 14 8-9 9 13 8-23 9 8 8 9 9-8 8 7 8-6 9-6 8-2 9-3 8 8 9 3 8 1 9 9 8 3 9-22 8-2 9 4 8 16 9-11 8 11 9-4 8-11 9-4 8 23 8-19 9 2 8 0 9 14 8-5 9-10 8 13 9 1 8-8 9 8 8-2 9 2 8-1 9 3 8-8 9 2 8 5 9-1 8-6 8 8 9-5 8 6 9-17 8 15 9-9 8 9 9-14 8-7 9 7 8 15 9-3 8 1 9-18 8 20 9-17 8 0 8-2 9 10 8 0 9 2 8-7 9 4 8-6 9 7 8-10 9 6 8 8 9-4 8 5 9-17 8 22 9-9 8-1 9-4 8 12 8-14 9 13 8-3 9-1 8 6 9-23 8 23 9-21 8 6 9-6 8 8 9 1 8 2 9-2 8 5 9 4 8-10 9-5 8-5 8 2 9 7 8 10 9-8 8 9 9-17 8 3 9 9 8 1 9-14 8 11 9 9 8-14 9 6 8 7 9-18 8 16 9 0 8-8 8 7 9-2 6-971 9-155 21-66 32-78 42-79 53-42 53 1" fill="none" stroke="#0000ff" stroke-width="13" stroke-linejoin="round"/>
<path transform="scale(.1)" d="M8911 3200l8 1 9 2 8-1 9 2 8 11 9-18 8 3 9 14 8-7 9 8 8-1 9-9 8 12 9 3 8-15 9 0 8-7 9 21 8 2 8 4 9-19 8 2 9 17 8-8 9-6 8 2 9 3 8-1 9 8 8 4 9-3 8-8 9 9 8-19 9 15 8 7 9-16 8 0 8-2 9 7 8-11 9 6 8-7 9 4 8 12 9-3 8 5 9-10 8 6 9-10 8 2 9 5 8-11 9-3 8 9 8 6 9-12 8 0 9 1 8-6 9-3 8 4 9 4 8-8 9 9 8 1 9 8 8-3 9-1 8 2 9 0 8 2 9 2 8-11 8 3 9-9 8 2 9-5 8 0 9 20 8-13 9-7 8 21 9-1 8 2 9-3 8-19 9 1 8 18 9 4 8-3 9-18 8 13 8-6 9 5 8-1 9-6 8-7 9 21 8-8 9-8 8-2 9 4 8 9 9 6 8-5 9-8 8-8 9 7 8 0 9 5 8-9 8-5 9 12 8-4 9 3 8 7 9-17 8 21 9-9 8-12 9 9 8 4 9 5 8-4 9-10 8 2 9 2 8-9 9 15 8 2 8-8 9-8 8 5 9-3 8 0 9 20 8-15 9 10 8-11 9-3 8 0 9 15 8-4 9 5 8-17 9 3 8 4 8 0 9-4 8 7 9 6 8-19 9 5 8 7 9-2 8 9 9-1 8 4 9-15 8-3 9 13 8 2 9-6 8 4 9-12 8 13 8-1 9-3 8-11 9 3 8 15 9-1 8 2 9-15 8 1 9 12 8-3 9-14 8 20 9-17 8-3 9 5 8 8 9-11 8-4 8 9 9-2 8 1 9-8 8-1 9 7 8 5 9 9 8-9 9 1 8-6 9 5 8 6 9 1 8-14 9 5 8-5 9 14 8-6 8 8 9-2 8-4 9 2 8-17 9 21 8-10 9 10 8-19 9 19 8-18 9 13 8-1 9 6 8-13 9 14 8-15 9 4 8 6 8-9 9-2 8 16 9-21 8 1 9 2 8-3 9 14 8 5 9-7 8-12 9 6 8 14 9-16 8-1 9 8 8-4 9-6 8 11 8-9 9 6 8-6 9-1 8 17 9-1 8-10 9 6 8 1 9 8 8-11 9-14 8 15 9 4 8-4 9-5 8 14 8-4 9-8 8 4 9-9 8 14 9 2 8-21 9 4 8 3 9 1 8 10 9 1 8-7 9-6 8 5 9-1 8 11 9-22 8 18 8-4 9-10 8-4 9 14 8-2 9-9 8 8 9 10 8-3 9-3 8 8 9-1 8-21 9 2 8 0 9 13 8-1 9-15 8 22 8-9 9 2 8-10 9 2 8-8 9 1 8 9 9-8 8 8 9 9 8-7 9 6 8-16 9 3 8 17 9-14 8 1 9-4 8 16 8-11 9 12 8-8 9 2 8 0 9-2 8-2 9 10 8-11 9 12 8-16 9 17 8-12 9 12 8-19 9-4 8 5 9 7 8 0 8-7 9 17 8-7 9-3 8 7 9-7 8 3 9 5 8-11 9 4 8 7 9-10 8 8 9-9 8 7 9-10 8 3 8 14 9-8 8-10 9 10 8-11 9-2 8-1 9 4 8 8 9-1 8 9 9-5 8 1 9-13 8 0 9 4 8-3 9 8 8-5 8 7 9 8 8-13 9-8 8 9 9-10 8 13 9 3 8 2 9-6 8 3 9 5 8-5 9-16 8 4 9 9 8 5 9-7 8 4 8-7 9 8 8-8 9-4 8 12 9 2 8-9 9 0 8-7 9 1 8 9 9-1 8-7 9 5 8 11 9-6 8 6 9-13 8-3 8 4 9 14 6-914 9-93 21-128 32-89 42-14 53-68 53 44" fill="none" stroke="#0000ff" stroke-width="13" stroke-linejoin="round"/>
<polyline points="891.1,320.39 892.16,319.87 893.22,320.33 894.28,320.03 895.34,319.83 896.4,319.93 897.45,320.13 898.51,320.14 899.57,320.14 900.63,320.3 901.69,319.87 902.75,320.04 903.81,319.87 904.87,320.04 905.93,320.19 906.99,320.17 908.05,320.25 909.11,319.85 910.16,319.98 911.22,320.05 912.28,319.65 913.34,320.04 914.4,320.04 915.46,320.11 916.52,320.07 917.58,320.08 918.64,319.89 919.7,319.94 920.76,319.9 921.82,319.65 922.87,319.96 923.93,319.78 924.99,319.83 926.05,319.54 927.11,319.76 928.17,319.53 929.23,319.89 930.29,319.99 931.35,319.97 932.41,319.56 933.47,320.02 934.52,319.89 935.58,319.51 936.64,320.02 937.7,319.59 938.76,319.78 939.82,319.88 940.88,319.4 941.94,319.44 943,319.86 944.06,319.9 945.12,319.62 946.18,319.92 947.23,319.34 948.29,319.73 949.35,319.73 950.41,319.89 951.47,319.6 952.53,319.54 953.59,319.82 954.65,319.43 955.71,319.54 956.77,319.33 957.83,319.26 958.89,319.28 959.94,319.55 961,319.6 962.06,319.4 963.12,319.54 964.18,319.5 965.24,319.63 966.3,319.68 967.36,319.7 968.42,319.34 969.48,319.15 970.54,319.09 971.59,319.56 972.65,319.59 973.71,319.65 974.77,319.63 975.83,319.15 976.89,319.45 977.95,319.43 979.01,319.53 980.07,319.19 981.13,319.52 982.19,319 983.25,319.61 984.3,319 985.36,319.33 986.42,319.3 987.48,319.25 988.54,319.42 989.6,318.96 990.66,319.21 991.72,319.18 992.78,318.96 993.84,319.09 994.9,318.96 995.96,319.42 997.01,319.29 998.07,319.34 999.13,319.13 1000.19,319.29 1001.25,318.86 1002.31,319.3 1003.37,319.18 1004.43,319.16 1005.49,319.2 1006.55,318.94 1007.61,319.07 1008.66,318.86 1009.72,319.14 1010.78,318.81 1011.84,318.8 1012.9,319.08 1013.96,318.72 1015.02,318.71 1016.08,319.16 1017.14,318.94 1018.2,318.72 1019.26,319.13 1020.32,318.7 1021.37,319.06 1022.43,318.71 1023.49,318.99 1024.55,318.61 1025.61,318.65 1026.67,318.96 1027.73,316.31 1028.79,316.62 1029.85,317.18 1030.91,317.76 1031.97,317.64 1033.03,318.19 1034.08,318.28 1035.14,318.59 1036.2,318.35 1037.26,318.54 1038.32,318.84 1039.38,318.35 1040.44,318.81 1041.5,318.91 1042.56,318.53 1043.62,318.74 1044.68,318.48 1045.73,318.73 1046.79,318.64 1047.85,318.53 1048.91,318.42 1049.97,318.88 1051.03,318.9 1052.09,318.65 1053.15,318.86 1054.21,318.43 1055.27,318.72 1056.33,318.7 1057.39,318.87 1058.44,318.73 1059.5,318.66 1060.56,318.72 1061.62,318.74 1062.68,318.69 1063.74,318.39 1064.8,318.77 1065.86,318.51 1066.92,318.41 1067.98,318.81 1069.04,318.27 1070.1,318.3 1071.15,318.63 1072.21,315.87 1073.27,316.56 1074.33,316.56 1075.39,317.5 1076.45,317.43 1077.51,317.66 1078.57,317.77 1079.63,318.03 1080.69,318.11 1081.75,318.17 1082.8,318.02 1083.86,318.48 1084.92,318.39 1085.98,318.26 1087.04,318.32 1088.1,318.19 1089.16,318.34 1090.22,317.95 1091.28,318.45 1092.34,317.98 1093.4,318.56 1094.46,318.03 1095.51,318.49 1096.57,318.36 1097.63,318.26 1098.69,317.93 1099.75,318.44 1100.81,318.18 1101.87,317.98 1102.93,318.17 1103.99,318.01 1105.05,317.82 1106.11,317.94 1107.17,318.29 1108.22,318.23 1109.28,318.07 1110.34,317.93 1111.4,317.77 1112.46,317.85 1113.52,317.88 1114.58,317.98 1115.64,317.91 1116.7,317.79 1117.76,317.83 1118.82,315.76 1119.87,316.33 1120.93,316.66 1121.99,316.63 1123.05,317.31 1124.11,317.17 1125.17,317.65 1126.23,317.47 1127.29,317.44 1128.35,317.42 1129.41,317.73 1130.47,317.74 1131.53,318.03 1132.58,317.6 1133.64,318.02 1134.7,318.08 1135.76,317.59 1136.82,317.81 1137.88,317.85 1138.94,318.02 1140,317.53 1141.06,317.68 1142.12,317.55 1143.18,317.86 1144.24,317.79 1145.29,317.76 1146.35,318.02 1147.41,318.06 1148.47,315.62 1149.53,316.27 1150.59,316.33 1151.65,316.66 1152.71,316.93 1153.77,317.14 1154.83,317.48 1155.89,317.33 1156.94,317.34 1158,317.65 1159.06,317.54 1160.12,317.82 1161.18,317.44 1162.24,317.6 1163.3,317.74 1164.36,317.42 1165.42,317.36 1166.48,317.74 1167.54,317.87 1168.6,317.48 1169.65,317.23 1170.71,317.79 1171.77,317.31 1172.83,317.43 1173.89,317.36 1174.95,317.81 1176.01,317.54 1177.07,317.77 1178.13,317.16 1179.19,313.92 1180.25,314.89 1181.31,315.55 1182.36,315.87 1183.42,316.63 1184.48,316.31 1185.54,316.88 1186.6,316.99 1187.66,317.36 1188.72,317.39 1189.78,316.88 1190.84,317.4 1191.9,317.22 1192.96,317.09 1194.01,315.86 1195.07,316.36 1196.13,316.43 1197.19,316.51 1198.25,317.05 1199.31,317.02 1200.37,316.96 1201.43,316.94 1202.49,317.05 1203.55,317.43 1204.61,317.3 1205.67,317.24 1206.72,316.91 1207.78,317.07 1208.84,317.29 1209.9,317.1 1210.96,317.27 1212.02,316.82 1213.08,316.99 1214.14,316.86 1215.2,317.18 1216.26,317.34 1217.32,316.9 1218.38,317.29 1219.43,316.84 1220.49,316.88 1221.55,315.57 1222.61,316.06 1223.67,316.24 1224.73,316.8 1225.79,316.76 1226.85,316.95 1227.91,317.05 1228.97,316.79 1230.03,317.13 1231.08,316.87 1232.14,317.1 1233.2,317.09 1234.26,316.69 1235.32,316.57 1236.38,316.8 1237.44,316.81 1238.5,317.09 1239.56,316.92 1240.62,316.6 1240.62,316.46" fill="none" stroke="#000" stroke-width="3.2" stroke-linejoin="round" />
<line x1="1240.83" y1="316.46" x2="1240.83" y2="130.97" stroke="#000" stroke-width="1.5" />
<polyline points="1241.04,130.97 1242.74,124.86 1245.91,120.12 1251.21,118.08 1256.5,117.41 1261.8,117.41" fill="none" stroke="#000" stroke-width="4.5" stroke-linejoin="round" />
<path d="M894.81 317.93v4.4M898.51 317.89v4.4M902.22 317.86v4.4M905.93 317.82v4.4M909.63 317.79v4.4M913.34 317.75v4.4M917.05 317.72v4.4M920.76 317.68v4.4M924.46 317.65v4.4M928.17 317.61v4.4M931.88 317.58v4.4M935.58 317.54v4.4M939.29 317.51v4.4M943 317.47v4.4M946.71 317.44v4.4M950.41 317.4v4.4M954.12 317.37v4.4M957.83 317.33v4.4M961.53 317.3v4.4M965.24 317.26v4.4M968.95 317.23v4.4M972.65 317.19v4.4M976.36 317.16v4.4M980.07 317.12v4.4M983.77 317.09v4.4M987.48 317.05v4.4M991.19 317.02v4.4M994.9 316.98v4.4M998.6 316.95v4.4M1002.31 316.91v4.4M1006.02 316.88v4.4M1009.72 316.84v4.4M1013.43 316.81v4.4M1017.14 316.77v4.4M1020.85 316.74v4.4M1024.55 316.7v4.4M1028.26 314.17v4.4M1031.97 315.72v4.4M1035.67 316.26v4.4M1039.38 316.44v4.4M1043.09 316.48v4.4M1046.79 316.48v4.4M1050.5 316.45v4.4M1054.21 316.42v4.4M1057.91 316.39v4.4M1061.62 316.35v4.4M1065.33 316.32v4.4M1069.04 316.28v4.4M1072.74 313.75v4.4M1076.45 315.3v4.4M1080.16 315.84v4.4M1083.86 316.02v4.4M1087.57 316.06v4.4M1091.28 316.06v4.4M1094.98 316.03v4.4M1098.69 316v4.4M1102.4 315.97v4.4M1106.11 315.94v4.4M1109.81 315.9v4.4M1113.52 315.87v4.4M1117.23 315.83v4.4M1120.93 314.4v4.4M1124.64 315.25v4.4M1128.35 315.54v4.4M1132.06 315.62v4.4M1135.76 315.63v4.4M1139.47 315.61v4.4M1143.18 315.58v4.4M1146.88 315.55v4.4M1150.59 314.35v4.4M1154.3 315.05v4.4M1158 315.29v4.4M1161.71 315.35v4.4M1165.42 315.36v4.4M1169.12 315.33v4.4M1172.83 315.3v4.4M1176.54 315.27v4.4M1180.25 312.82v4.4M1183.95 314.31v4.4M1187.66 314.84v4.4M1191.37 315.01v4.4M1195.07 314.13v4.4M1198.78 314.71v4.4M1202.49 314.9v4.4M1206.19 314.94v4.4M1209.9 314.94v4.4M1213.61 314.92v4.4M1217.32 314.89v4.4M1221.02 314.85v4.4M1224.73 314.29v4.4M1228.44 314.59v4.4M1232.14 314.68v4.4M1235.85 314.69v4.4M1240.79 120.32h6M1243.79 120.32V126.42M1240.79 126.42h6M1243.97 117.88h6M1246.97 117.88V123.98M1243.97 123.98h6M1247.15 115.44h6M1250.15 115.44V121.54M1247.15 121.54h6M1250.33 114.35h6M1253.33 114.35V120.46M1250.33 120.46h6M1253.5 114.35h6M1256.5 114.35V120.46M1253.5 120.46h6M1256.68 114.35h6M1259.68 114.35V120.46M1256.68 120.46h6M1258.8 114.35h6M1261.8 114.35V120.46M1258.8 120.46h6" stroke="#000" stroke-width="1.4" fill="none"/>
<path d="M925.75,160 L930.25,160 L930.25,202.5 L934.75,199.5 L928,218.5 L921.25,199.5 L925.75,202.5 Z" fill="#3e4a5b"/>
<path d="M1231.25,109.4 L1235.75,109.4 L1235.75,150.9 L1240.25,147.9 L1233.5,166.9 L1226.75,147.9 L1231.25,150.9 Z" fill="#3e4a5b"/>
<text x="1108.4" y="103.6" font-size="26.5" textLength="133.8" lengthAdjust="spacingAndGlyphs"  >Ionomycin</text>
<text x="897.6" y="356.2" font-size="28" fill="#0000ff" font-style="italic" textLength="53.3" lengthAdjust="spacingAndGlyphs"  >siNT</text>
<rect x="1426" y="20.5" width="367.5" height="46" fill="#d2d2d2" stroke="none" stroke-width="1.2"/>
<rect x="1462.4" y="20.5" width="304.2" height="46" fill="#7f7f7f" stroke="none" stroke-width="1.2"/>
<line x1="1462.4" y1="20.5" x2="1462.4" y2="66.5" stroke="#000" stroke-width="1.3" />
<line x1="1766.6" y1="20.5" x2="1766.6" y2="66.5" stroke="#000" stroke-width="1.3" />
<rect x="1426" y="20.5" width="367.5" height="46" fill="none" stroke="#000" stroke-width="1.3"/>
<text x="1610.95" y="52.3" font-size="27.5" text-anchor="middle" textLength="115.7" lengthAdjust="spacingAndGlyphs"  >Zymosan</text>
<line x1="1425.6" y1="66.5" x2="1425.6" y2="135.3" stroke="#111" stroke-width="1.2" />
<line x1="1425.6" y1="157.5" x2="1425.6" y2="363.5" stroke="#111" stroke-width="1.2" />
<line x1="1416" y1="66.5" x2="1425.6" y2="66.5" stroke="#111" stroke-width="1.2" />
<text x="1404.9" y="74.6" font-size="24" text-anchor="end" textLength="25.36" lengthAdjust="spacingAndGlyphs"  >15</text>
<line x1="1416" y1="100.5" x2="1425.6" y2="100.5" stroke="#111" stroke-width="1.2" />
<text x="1404.9" y="108.6" font-size="24" text-anchor="end" textLength="25.36" lengthAdjust="spacingAndGlyphs"  >10</text>
<line x1="1419.6" y1="135.3" x2="1432.6" y2="135.3" stroke="#111" stroke-width="1.2" />
<line x1="1419.6" y1="157.5" x2="1432.6" y2="157.5" stroke="#111" stroke-width="1.2" />
<text x="1404.9" y="165.6" font-size="24" text-anchor="end" textLength="14.41" lengthAdjust="spacingAndGlyphs"  >5</text>
<line x1="1416" y1="363.5" x2="1425.6" y2="363.5" stroke="#111" stroke-width="1.2" />
<text x="1404.9" y="371.6" font-size="24" text-anchor="end" textLength="14.41" lengthAdjust="spacingAndGlyphs"  >0</text>
<line x1="1416" y1="322.3" x2="1425.6" y2="322.3" stroke="#111" stroke-width="1.2" />
<text x="1404.9" y="330.4" font-size="24" text-anchor="end" textLength="12.68" lengthAdjust="spacingAndGlyphs"  >1</text>
<line x1="1416" y1="281.1" x2="1425.6" y2="281.1" stroke="#111" stroke-width="1.2" />
<text x="1404.9" y="289.2" font-size="24" text-anchor="end" textLength="14.41" lengthAdjust="spacingAndGlyphs"  >2</text>
<line x1="1416" y1="239.9" x2="1425.6" y2="239.9" stroke="#111" stroke-width="1.2" />
<text x="1404.9" y="248" font-size="24" text-anchor="end" textLength="14.41" lengthAdjust="spacingAndGlyphs"  >3</text>
<line x1="1416" y1="198.7" x2="1425.6" y2="198.7" stroke="#111" stroke-width="1.2" />
<text x="1404.9" y="206.8" font-size="24" text-anchor="end" textLength="14.41" lengthAdjust="spacingAndGlyphs"  >4</text>
<line x1="1416" y1="363.5" x2="1796.8" y2="363.5" stroke="#111" stroke-width="1.2" />
<line x1="1425.6" y1="363.5" x2="1425.6" y2="373.8" stroke="#111" stroke-width="1.2" />
<text x="1425.6" y="402.1" font-size="24" text-anchor="middle" textLength="14.41" lengthAdjust="spacingAndGlyphs"  >0</text>
<line x1="1478.54" y1="363.5" x2="1478.54" y2="373.8" stroke="#111" stroke-width="1.2" />
<text x="1478.54" y="402.1" font-size="24" text-anchor="middle" textLength="14.41" lengthAdjust="spacingAndGlyphs"  >5</text>
<line x1="1531.49" y1="363.5" x2="1531.49" y2="373.8" stroke="#111" stroke-width="1.2" />
<text x="1531.49" y="402.1" font-size="24" text-anchor="middle" textLength="25.36" lengthAdjust="spacingAndGlyphs"  >10</text>
<line x1="1584.43" y1="363.5" x2="1584.43" y2="373.8" stroke="#111" stroke-width="1.2" />
<text x="1584.43" y="402.1" font-size="24" text-anchor="middle" textLength="25.36" lengthAdjust="spacingAndGlyphs"  >15</text>
<line x1="1637.37" y1="363.5" x2="1637.37" y2="373.8" stroke="#111" stroke-width="1.2" />
<text x="1637.37" y="402.1" font-size="24" text-anchor="middle" textLength="28.83" lengthAdjust="spacingAndGlyphs"  >20</text>
<line x1="1690.31" y1="363.5" x2="1690.31" y2="373.8" stroke="#111" stroke-width="1.2" />
<text x="1690.31" y="402.1" font-size="24" text-anchor="middle" textLength="28.83" lengthAdjust="spacingAndGlyphs"  >25</text>
<line x1="1743.26" y1="363.5" x2="1743.26" y2="373.8" stroke="#111" stroke-width="1.2" />
<text x="1743.26" y="402.1" font-size="24" text-anchor="middle" textLength="28.83" lengthAdjust="spacingAndGlyphs"  >30</text>
<line x1="1796.2" y1="363.5" x2="1796.2" y2="373.8" stroke="#111" stroke-width="1.2" />
<text x="1796.2" y="402.1" font-size="24" text-anchor="middle" textLength="28.83" lengthAdjust="spacingAndGlyphs"  >35</text>
<text x="1611.8" y="446.4" font-size="26.5" text-anchor="middle" textLength="133.9" lengthAdjust="spacingAndGlyphs"  >Time (min)</text>
<text x="0" y="0" font-size="28" text-anchor="middle" textLength="164" lengthAdjust="spacingAndGlyphs" transform="translate(1352.9,216.4) rotate(-90)" ><tspan>Δ</tspan><tspan font-style="italic">F</tspan>/<tspan font-style="italic">F</tspan><tspan font-size="20" dy="8">0</tspan><tspan dy="-8"> (cCa</tspan><tspan font-size="19" dy="-13">2+</tspan><tspan dy="13">)</tspan></text>
<path transform="scale(.1)" d="M14256 3216l11-2 10-4 11 6 10-6 11 26 11-13 10-14 11 8 10-7 11 22 10 6 11 7 11-9 10-1 11 16 10-6 11-2 11-19 10 5 11 17 10-19 11 19 11-14 10 14 11 4 10-26 11 19 10 0 11-22 11 3 10 16 11-19 10 12 11-4 11-3 10-22 11-177 6-212 4 47 11 102 11 87 10 48 11 41 10-128 11-546 0 2 10 163 11 206 11 154 10 67 11 64 10 36 11 8 11 23 10 14 11 1 10-3 11 21 11-25 10 28 11-20 10-3 11 24 10-22 11 12 11-6 10 16 11-1 10-4 11-23 11 22 10-16 11-6 10 0 11 17 11 0 10-6 11-7 10 19 11-19 10-1 11-2 11 24 10-27 11 25 10-8 11-8 11-9 10 17 11-17 10 10 11 7 11 0 10 4 11 2 10-2 11-16 11-9 10 24 11 3 10-27 11 13 10 3 11 5 11-63 8-93 2 8 11 37 10 23 11 27 11-11 10 36 11-5 10-4 11 26 11-13 10-3 11 11 10-17 11-96 1-9 9 35 11 41 11 2 10 31 11 5 10-9 11 9 11 0 10 17 11 0 10-6 11 8 11 6 10-3 11 7 10-60 9-118 2 10 10 39 11 37 11 25 10 19 11 18 10 3 11-9 11 2 10 18 11-10 10 1 11 4 11 2 10-3 11 12 10-10 11 13 10-6 11-8 11 2 10 11 11-19 10-72 10-262 1 6 11 84 10 39 11 51 10 23 11 33 11 12 10 23 11 9 10 24 11 1 10 4 11 3 11 18 10-10 11 2 10 7 11-6 11 2 10 13 11 1 10-95 5-63 6 26 11 50 10 44 11 11 10 9 11 6 10 19 11-15 11 7 10-2 11 7 10-6 11-4 11 4 10-3 11 20 10-4 11-55 9-136 2 7 10 60 11 21 10 26 11 34 10 0 11 17 11 11 10 2 11-2 10 6 11 2 11 5 10-11 11 3 10-195 8-332 3 38 11 144 10 78 11 95 10 39 11-30 9-187 1 24 11 170 11 56 10 51 11 29 10-140 6-92 5 46 11 60 10 53 11 25 10 9 11 18 11 20 10-5 11 8 10 11 11 8 10-13 11 2 11-11 10 0 11-303 4-132 6 122 11 106 11 103 10 45 11 18 10 17 11 26 11-7 10-2 11 17 10 1 11 7 10-2 11-118 6-79 5 18 10 20 11 30 10 32 11 28 11-6 10 25 11 11 10 10 11-13 11 18 10 10 11-3 10-70 5-56 6 18 11 49 10 31 11 2 10 9 11 29 10-11 11 10 11-18 10 5 11 16 10 0 11 3 11-24 10 20 11-9 10 4 11-5 11-220 5-144 5 42 11 91 10 37 11 56 10 27 11 31 11 21 10 8 11 14 10 12 11-4 11 10 10 20 11-4 10-3 11-12 11 3 10 10 11-17 10-205 0-3 11 110 10 51 11 26 11-168 3-75 7 112 11 79 10 58 11 20 11-3 10 23 11-1 10-14 11 22 11-22 10 4 11 7 10 5 11-15 10-4 11 22 11-10 10-2 2-41 11-1224 25-373 25-189 25-143 24-155 25-112 25-112 25-109 25-96" fill="none" stroke="#f44848" stroke-width="13" stroke-linejoin="round"/>
<path transform="scale(.1)" d="M14256 3225l11-11 10 1 11 19 10-24 11 12 11 8 10-15 11 10 10-14 11 15 10-2 11 6 11-2 10 11 11-10 10 10 11 2 11-10 10-10 11 17 10 9 11-27 11 22 10 0 11 4 10 0 11-4 10-1 11-9 11-13 10 8 11 9 10-3 11 3 11-35 10 0 11 17 10-4 11 8 11-14 10 17 11-24 10-143 10-373 1 20 10 130 11 111 11 52 10 55 11 42 10 47 11-4 11-58 10-446 11 172 10 123 11 83 11 47 10 31 11 50 10 3 11 29 10 7 11 14 11-16 10 32 11-17 10 6 11-1 11 2 10-8 11 6 10 1 11 14 11-5 10 9 11-27 10 15 11-9 10 17 11-1 11 4 10-16 11-4 10 13 11-6 11 0 10-7 11 15 10 3 11-23 11 0 10 7 11-11 10 6 11 14 11-17 10 21 11-12 10-6 11 1 10 4 11-9 11 21 10-121 8-164 3 14 10 47 11 35 11 31 10 48 11 7 10 18 11 26 11 9 10-51 9-103 2 7 10 66 11 8 10 48 11 20 11-6 10 13 11 12 10 7 11 2 11-7 10 8 11 13 10 4 11-20 11 2 10-6 11-3 10 8 11-131 2-23 8 30 11 27 11 40 10 15 11 21 10-1 11 9 11-2 10 1 11-2 10 10 11 13 11-6 10 8 11-13 10-3 11-2 10 0 11 23 11-227 4-97 6 119 11 89 10 71 11 15 11-7 10 29 11 5 10-2 11-15 11-3 10 22 11-1 10-11 11 9 10-21 11-107 11-717 0-17 10 277 11 212 10 122 11 90 11 63 10 20 11 17 10 34 11 7 11-19 10 8 11 13 10 6 11-19 10 28 11-15 11 12 10-3 11-254 4-103 6 105 11 88 11 74 10 12 11 42 10 3 11 7 11 19 10-16 11 11 10 1 11 3 10-3 11 7 11-11 10-148 10-463 1 42 10 262 11 160 11 67 10 39 11 34 10 7 11-116 4-45 7 51 10 60 11 32 10-12 11 27 10-9 11 12 11-2 10 8 11-18 10 15 11-6 11-8 10 0 11-180 5-120 5 30 11 64 11 54 10 29 11 53 10 9 11 20 10 18 11 6 11 3 10 13 11-5 10-7 11 16 11-17 10 5 11 2 10-20 11-627 2-97 9 134 10 142 11 99 10 67 11 81 10 35 11 40 11 26 10 47 11 1 10 17 11 15 11 10 10 6 11 1 10 12 11-6 11 8 10-8 11 13 10-232 4-114 7 118 11 108 10 45 11 59 10-5 11-116 2-32 8 48 11 53 11 8 10 24 11 5 10 7 11 20 11-12 10 29 11-25 10 21 11-176 5-125 6 89 10 82 11 73 10 26 11 1 10 3 11 13 11 3 10 3 11 11 10-82 8-142 3 32 11 74 10 56 11 8 10 22 11 15 11-8 10 9 11 10 10-14 11 11 10-1 11-15 11-1 10-167 5-120 6 39 10 93 11 56 11 30 10 10 11 18 10 33 11-17 11 31 10-6 11 10 10-12 11 4 10-1 11 0 11 3 10 4 2-41 11-1487 25-281 25-149 25-130 24-109 25-86 25-90 25-73 25-82" fill="none" stroke="#f44848" stroke-width="13" stroke-linejoin="round"/>
<path transform="scale(.1)" d="M14256 3229l11-6 10-6 11-3 10 6 11 8 11-1 10-15 11 10 10 13 11-11 10 22 11-13 11 17 10-5 11 5 10-12 11-14 11 12 10 5 11-16 10 24 11-8 11-13 10 23 11-22 10 12 11 10 10-7 11-6 11 2 10-4 11 13 10-5 11-22 11-1 10-1 11 11 10-6 11-19 11-509 3-143 7 125 11 205 10 114 11 69 10 61 11 28 11 12 10 21 11 9 10 23 11 4 11-19 10 11 11-12 10 2 11-3 11 16 10-18 11 7 10-4 11 22 10-19 11 11 11-16 10-1 11 22 10-6 11 4 11-5 10 5 11-11 10 15 11-1 11-9 10 11 11-9 10-15 11 1 10 19 11 5 11-23 10-4 11 10 10 14 11-3 11-20 10-1 11 26 10-4 11-7 11 4 10-14 11 11 10-12 11 18 11-11 10-13 11 8 10 17 11 0 10-16 11 8 11 0 10-3 11-3 10-12 11 21 11-9 10 8 11-8 10-5 11 17 11-10 10-7 11-280 6-351 4 99 11 205 10 120 11 75 11 44 10 52 11 7 10 26 11-2 11 6 10 12 11-6 10-3 11-5 11-8 10 16 11-4 10-5 11-7 10 0 11-1 11 19 10 4 11-22 10-1 11-257 1-24 10 68 10 68 11 49 10 16 11 41 11 9 10 4 11 28 10-1 11 1 10 0 11 13 11-6 10 13 11-1 10-6 11 6 11-119 3-34 7 46 11 28 10 6 11 16 11 25 10-9 11 12 10 11 11-4 10 13 11 1 11-17 10 14 11-13 10 21 11-204 10-632 1 27 10 216 11 172 10 135 11 83 11 38 10 52 11 19 10 45 11 0 10 24 11-10 11 9 10 3 11-34 8-109 2 14 11 72 11 31 10 1 11 29 10 8 11-7 11-2 10-6 11 7 10 19 11-16 10-6 11-157 2-37 9 23 10 55 11 30 10 32 11-3 11 21 10-1 11 21 10-217 5-125 6 129 11 126 10 40 11 50 10 18 11-1 10 12 11-9 11-4 10 0 11 14 10 0 11-311 2-60 9 91 10 92 11 55 10 29 11 49 11 14 10 6 11 7 10-534 3-158 8 173 10 162 11 121 11 68 10 53 11 54 10 31 11 14 11 9 10-6 11 23 10-6 11 2 11-7 10 26 11-18 10 13 11 7 10-15 11-85 8-118 3 15 10 62 11 9 10 44 11 13 11 12 10 25 11 4 10 8 11 12 11 4 10-16 11 10 10-11 11 24 11-6 10 4 11-79 10-204 0 4 11 65 10 61 11 49 11 19 10 25 11 21 10-4 11 16 11 12 10-7 11-9 10 2 11-95 7-117 4 33 10 51 11 66 10 19 11 33 10-12 11 22 11-131 7-216 3 26 11 76 10 51 11 64 11 43 10 19 11-79 8-133 2 19 11 64 11 45 10 57 11 15 10 31 11 28 10 14 11-16 11 21 10-38 10-193 1 1 10 62 11 43 11 38 10 11 11 33 10 9 11 3 11 14 10 20 11 4 10-10 11 2 10 21 11-24 11 26 10 1 2-42 11-1524 25-264 25-136 25-87 24-107 25-79 25-87 25-76 25-59" fill="none" stroke="#f44848" stroke-width="13" stroke-linejoin="round"/>
<path transform="scale(.1)" d="M14256 3214l11 1 10 1 11-5 10 11 11 15 11-13 10-1 11 8 10 0 11 0 10-4 11-1 11 12 10 5 11 6 10-20 11 2 11 3 10 4 11-5 10 0 11-9 11 2 10 18 11-13 10 6 11-2 10-13 11 7 11 15 10-10 11-11 10 21 11-7 11-6 10-1 11-4 10-19 11 13 11-11 10 19 11-8 10 5 11-341 3-103 7 86 11 130 11 49 10 70 11 27 10 32 11 1 11 7 10 23 11 10 10-1 11-3 11-10 10 1 11-2 10 10 11-7 10 2 11 0 11 16 10-11 11-4 10-5 11 24 11-23 10-4 11 23 10-14 11-2 11 8 10-11 11 5 10 13 11-11 10-5 11-7 11 6 10 1 11 6 10-10 11-2 11 4 10-4 11 11 10 3 11-18 11 8 10 10 11-15 10 18 11-9 11-10 10 16 11-18 10-152 11-198 10-142 11-10 11 12 10-40 11-50 10-51 11-24 11 65 10 21 11-71 10-3 11 7 11 15 10-49 11-166 0-1 10 46 11 62 10 11 11 16 11 10 10 11 11 9 10 1 11 68 11-40 10 13 11-10 10 80 11 39 11-60 10 24 11 28 10-53 11-79 2-52 8 19 11-14 11 35 10 55 11 35 10 24 11 79 11 41 10 54 11 10 10-31 11-42 11 27 10 26 11 13 10-7 11 16 10-57 6-64 5 45 11 68 10-5 11 313 10 30 11-24 11-168 0-2 10 122 11 55 10 39 11 2 11-3 10 18 11 8 10-13 11-5 10 24 11-44 10-183 1 2 10 55 11 16 10 39 11 8 11-160 4-87 6 62 11 72 10 51 11-37 8-98 3 18 10 59 11 66 10 12 11 46 10 22 11 13 11 19 10 5 11 11 10-5 11-89 8-155 3 25 10 81 11 52 10 32 11 24 11 29 10-198 4-98 7 45 10 83 11 78 10 28 11 32 11 0 10 30 11 1 10 21 11-4 11 1 10 8 11-87 10-751 1-28 10 198 11 182 10 135 11-6 9-119 1 23 11 128 10 110 11 71 11 47 10 10 11 33 10 26 11 3 11 12 10 5 11-2 10-6 11-4 11 7 10 17 11-232 2-44 8 49 11 70 10 36 11 30 11 8 10 41 11 7 10 13 11-6 11 12 10-17 11 0 10 21 11 2 11-1 10-582 3-157 8 124 10 148 11 131 10 68 11 81 11 26 10 44 11 23 10 17 11 24 11 2 10 25 11 7 10 3 11-7 11-46 9-213 1 6 11 77 10 33 11 43 11-42 10-380 0-9 11 165 10 121 11 61 10 57 11 35 11 49 10 7 11 31 10-1 11 1 11 24 10 0 11-502 5-293 5 137 11 214 11 138 10 84 11 83 10 26 11 52 10-6 11 28 11 15 10 10 11 7 10-15 11 10 11 5 10-6 11 4 10 12 11-21 11 10 10-170 4-79 7 30 10 42 11 29 10 41 11 6 11 38 10-3 11 29 10-9 11-729 2-90 9 321 10 263 11 142 10 62 11 39 11 20 10 0 11 6 10-3 11 6 10 0 11 2 11 2 10-10 2-41 11-953 25-385 25-208 25-155 24-156 25-114 25-141 25-91 25-114" fill="none" stroke="#f44848" stroke-width="13" stroke-linejoin="round"/>
<path transform="scale(.1)" d="M14256 3230l11-21 10 8 11-1 10-2 11 23 11-8 10-5 11-13 10 0 11 22 10-8 11 13 11 7 10 7 11-10 10-3 11 2 11 4 10-18 11 13 10 5 11-14 11 16 10-5 11 9 10-4 11-22 10 11 11 3 11-5 10 0 11 5 10 4 11 7 11-13 10-3 11-8 10 11 11-658 3-100 8 165 10 268 11 142 10 74 11 51 10 5 11 24 11 19 10 3 11-21 10 10 11 9 11-101 10-427 11 128 10 107 11 86 11 74 10 29 11 17 10 27 11 26 10 10 11 12 11-7 10 13 11-5 10-11 11 2 11 13 10-8 11 19 10-23 11 3 11 11 10-12 11 18 10-20 11 19 10-17 11 2 11-3 10 6 11 19 10-6 11-11 11-7 10 7 11 18 10-9 11 0 11 5 10-1 11-9 10 5 11 3 11-5 10-15 11 10 10-4 11-6 10 26 11-24 11 23 10-3 11-16 10 0 11 4 11 4 10-7 11 8 10 7 11-1 11 3 10 2 11-26 10-7 11-184 2-33 8 50 11 52 11 21 10 35 11 29 10-6 11 10 11 34 10-6 11 12 10-12 11-135 2-25 9 64 10 48 11 19 10 20 11 11 10 1 11 10 11-12 10 16 11-9 10-3 11 9 11 1 10-6 11 3 10 15 11-14 11-280 1-50 9 138 11 76 10 62 11 31 10 22 11 9 11-14 10 12 11-1 10-6 11-6 11 6 10 14 11-22 10 23 11-11 11-2 10 10 11-17 10 8 11-3 10 16 11-20 11 16 10-10 11-154 3-57 7 85 11 66 11 31 10-1 11 19 10 10 11 0 11-1 10-72 11-465 0-10 10 123 11 85 10 76 11 48 11 57 10 29 11 24 10 36 11 19 11 11 10 13 11-3 10 11 11 18 11-20 10 15 11-4 10 7 11 1 10 1 11-71 6-84 5 24 10 29 11 43 10 28 11-5 11 12 10-95 7-90 4 43 10 82 11 25 11 40 10 1 11 7 10 17 11 10 10-15 11-5 11 6 10-11 11 22 10-14 11 9 11-63 9-129 1 15 11 72 10 34 11 24 11 8 10 18 11-145 4-76 6 76 11 80 10 46 11 24 11-2 10 14 11 12 10-2 11-5 11-9 10 1 11 5 10-112 9-198 2 28 11 109 10 56 11 44 10 33 11 3 10 34 11-8 11-6 10 2 11 21 10-17 11 9 11-11 10 17 11-9 10 1 11-10 11 18 10-712 2-157 9 294 10 217 11 157 11 62 10 70 11 29 10-4 11 24 10-1 11 15 11 6 10-3 11-16 10 23 11-20 11 0 10 6 11 12 10-13 11-79 10-259 1 7 10 114 11 60 10 39 11 45 10 36 11 15 11-1 10 25 11 7 10-7 11 6 11-5 10-122 7-189 4 39 10 90 11 71 11 33 10 29 11 10 10 18 11 6 10 7 11-4 11 23 10 1 11-21 10 2 11 24 11-25 10 8 11-7 10 5 11-298 6-286 5 164 10 215 11 111 10 57 11 29 10 8 11-11 11 16 10 8 2-41 11-1230 25-321 25-180 25-124 24-107 25-105 25-104 25-92 25-91" fill="none" stroke="#f44848" stroke-width="13" stroke-linejoin="round"/>
<path transform="scale(.1)" d="M14256 3215l11 9 10-1 11-13 10 10 11-1 11 8 10-11 11 5 10-13 11-2 10 16 11 1 11 26 10-1 11-8 10-14 11 7 11 9 10 4 11-5 10 3 11 0 11-18 10 16 11 0 10-13 11 14 10-21 11 5 11-7 10 4 11 0 10 13 11-5 11-15 10-1 11-15 10 13 11-263 8-392 3 21 10 159 11 123 10 84 11 62 10 67 11 18 11-263 1-35 9 124 11-37 5-51 5 79 11 123 11 77 10 38 11 19 10 25 11 2 11 15 10-13 11-4 10 0 11 9 10 7 11-5 11 0 10 11 11-11 10 1 11 9 11-7 10-12 11 5 10 9 11 2 11-11 10 2 11 7 10-5 11 1 10-6 11-8 11 14 10-5 11-1 10-3 11 12 11 0 10-20 11 22 10-16 11 12 11-7 10 1 11 6 10 2 11-23 11 26 10-3 11-18 10 11 11 4 10-235 3-55 8 120 11 104 10 21 11 25 10-10 11 14 11-7 10 7 11 15 10-9 11-8 11-345 4-175 6 112 11 108 10 94 11 70 10 60 11 11 11 11 10-163 6-125 5 52 10 90 11 53 11 33 10 42 11 33 10 13 11-13 11 15 10-2 11 27 10 4 11-15 10-111 3-27 8 53 11 49 10 8 11 12 10 9 11 12 11 0 10 4 11-2 10 5 11-5 11-14 10 5 11 19 10-16 11-5 10 14 11-16 11-2 10 25 11-16 10 6 11-2 11-3 10-9 11 6 10-684 3-161 8 268 11 223 10 154 11 63 10-175 1-12 10 82 10 70 11 25 11 44 10 18 11 9 10 33 11 4 11 8 10 14 11-3 10-9 11 11 11 15 10-11 11 3 10-51 8-93 3 12 10 42 11 13 11 30 10 2 11 25 10-247 11 23 11-5 10 54 11-226 1 41 9 22 11 147 11-60 10 63 11 12 10-7 11-46 10 27 11 68 11 10 10-97 11 22 10 6 11 12 11-149 4-105 6-6 11 72 10 77 11-19 10-223 1 23 10-36 11 95 10 145 11-3 10-33 11 70 11 84 10-86 11 71 10-64 11 44 11 21 10 64 11-60 10-8 11-3 11 6 10-6 11-2 10-112 6-186 5 123 10-17 11 119 11-23 10 94 11 11 10-48 11-21 11 77 10 14 11 6 10 11 11-24 11-635 3-229 7 318 11 261 10 166 11-3 10 67 11 8 11 70 10 0 11-70 10 61 11-15 11-371 0 36 10 44 11 57 10 137 11 26 11-56 10 107 11-10 10-163 8-121 3 37 11 130 10 5 11 91 10-72 11 91 10-35 11-3 11-161 2 5 8 24 11 144 10 19 11-64 11 41 10 84 11-72 10 69 11-12 11 7 10-56 11 29 10-36 11-66 10-620 1-19 10 98 11 163 10 8 11 185 10 24 11 62 11 45 10-36 11 98 10-14 11-1 11-4 10 50 11 83 10-67 11 66 10 152 11-147 6-118 5 52 10 97 11 50 10 22 11 20 11 24 10 2 11 19 10-11 11-1 11 1 10 7 11 0 10 17 11-8 10-4 11 10 11 0 10-26 2-41 11-1299 25-242 25-132 25-104 24-88 25-96 25-72 25-67 25-75" fill="none" stroke="#f44848" stroke-width="13" stroke-linejoin="round"/>
<path transform="scale(.1)" d="M14256 3229l11-13 10 21 11-12 10-6 11 15 11-21 10-1 11 9 10 10 11 0 10 1 11 18 11-14 10 8 11-19 10 13 11 6 11 4 10 3 11-17 10 11 11 1 11-12 10 0 11 1 10 18 11-22 10 1 11-7 11 1 10 5 11-5 10 10 11 1 11-10 10 0 11-4 10-12 11 20 11-6 10-320 3-105 8 85 10 82 11 73 10 39 11 54 11 12 10-485 4-134 7 85 10-5 0 1 11 254 11 143 10 74 11 74 10 11 11 23 11 31 10-8 11 0 10 20 11-5 10-12 11 6 11-8 10 1 11 13 10 9 11-17 11-5 10 4 11 5 10-8 11-2 11 13 10 2 11-11 10 21 11-4 10-12 11 14 11 2 10 0 11-20 10 13 11-10 11-2 10-4 11 10 10 5 11-13 11 19 10-26 11 2 10 8 11 15 11-23 10 13 11-14 10 15 11-8 10 15 11-23 11 14 10-5 11-193 9-479 1 49 11 257 11 153 10 77 11 75 10 33 11-5 11 16 10-215 7-264 4 56 10 128 11 112 10 57 11 54 11 9 10 26 11 15 10 12 11 21 11 1 10-6 11 20 10 5 11-16 11 4 10 1 11-2 10-6 11-5 10 4 11 11 11 6 10-45 11-175 1-15 9 84 11 70 11 33 10 15 11 17 10-13 11 6 11 7 10-4 11 12 10-8 11-3 10 1 11 2 11-6 10 28 11-7 10-7 11-9 11 19 10-19 11 14 10-4 11-7 11 5 10-137 7-162 4 36 10 85 11 76 10 27 11 27 11 5 10 26 11 14 10 0 11-7 11 13 10-6 11 15 10-8 11-14 11 16 10-95 5-66 6 15 10 44 11 44 10 14 11 5 11 11 10 16 11 7 10-1 11 8 11 2 10 1 11-17 10 12 11-15 11 16 10-9 11-544 2-101 8 145 11 134 10 76 11 73 11 59 10 32 11 30 10 46 11 17 11 10 10 1 11 12 10 12 11-19 11 5 10 4 11-6 10 13 11-7 10-37 11-317 0-2 11 143 10 98 11 28 10 57 11 6 11 22 10 13 11-19 10 5 11 5 11 3 10-3 11 14 10-18 11 10 10 3 11 8 11 4 10-302 8-385 3 60 10 177 11 101 11 103 10 53 11 64 10-29 8-67 3 14 11 50 10 31 11 40 10 2 11 31 10 7 11 17 11-1 10-8 11-50 9-159 1 6 11 37 11 46 10 28 11 41 10 20 11-1 11 21 10-5 11 14 10 23 11-7 11 10 10 1 11-7 10 10 11-18 10-215 2-39 9 88 11 69 10 36 11 33 10 19 11 25 11 2 10-19 11 22 10-2 11 2 11-3 10 2 11-13 10 0 11 4 10 5 11-2 11-5 10-12 11-274 1-41 9 77 11 78 11 37 10 38 11 36 10-151 9-280 2 30 11 111 10 98 11 54 10 61 11 21 10 52 11 16 11-179 5-120 5 48 11 54 10 65 11 52 11 17 10 18 11 36 10 15 11 9 11 16 10-4 11 12 10 15 11-6 10 3 11 9 11-19 10 0 2-41 11-1368 25-254 25-106 25-118 24-82 25-96 25-67 25-65 25-66" fill="none" stroke="#f44848" stroke-width="13" stroke-linejoin="round"/>
<path transform="scale(.1)" d="M14256 3226l11 11 10-18 11 8 10 7 11-8 11-9 10-2 11 10 10 8 11-15 10 17 11 4 11-15 10 18 11-5 10 14 11-3 11-2 10 0 11 1 10 1 11-23 11 9 10 3 11-2 10 8 11-17 10 4 11 8 11 12 10 0 11-1 10-20 11 20 11-29 10-2 11 5 10 2 11-19 11-1 10 6 11 6 10-12 11 7 10 14 11-622 6-271 1-27 4 99 10 239 11 255 10 138 11 91 11 47 10 17 11 9 10-5 11 4 11 4 10 18 11-16 10 16 11-9 10 2 11 8 11-8 10 7 11-15 10 16 11-16 11 17 10 5 11-12 10-13 11 7 11 11 10-8 11 5 10-9 11 10 10 4 11-24 11 27 10-3 11-5 10-1 11-6 11 1 10 10 11-19 10 3 11 15 11 0 10 2 11-12 10-4 11-2 11-285 4-164 6 42 11 87 10-89 11-107 10-92 11-28 11 92 10 30 11 54 10 0 11-42 11 12 10 22 11-62 10 58 11-20 11 37 10-68 11 43 10-50 11-64 10 43 11 37 11-26 10 49 11 15 10-189 3-77 8 152 11 67 10 69 11 2 10-20 11 39 11-130 10-576 0-8 11 221 10 209 11 116 10 96 11-14 11 22 10 48 11 39 10 2 11-230 2 20 9 84 10 20 11 71 10 36 11-37 11-43 10-426 4-189 7 195 10 183 11 140 10-13 11 16 11-46 10 62 11 38 10-50 11 25 11-9 10 12 11-28 10 63 11-59 11 570 10-9 11-89 8-153 2 19 11 80 10 29 11 57 11 12 10 7 11 32 10 4 11-6 11 20 10-20 11 6 10 6 11-142 6-92 5 25 10 26 11 45 10 33 11 11 10 28 11 27 11-179 3-63 7 77 11 49 10 56 11 26 11 22 10 8 11 13 10 16 11 9 11-219 5-145 5 112 11 105 10 62 11 40 10 38 11 10 11-9 10-1 11 7 10-10 11 9 11-194 5-184 5 45 11 103 10 64 11 38 11 45 10 10 11 20 10 24 11-1 10 3 11-253 2-41 9 103 10 81 11 54 10 48 11-253 4-104 7 82 10 111 11 61 10 41 11 39 11 27 10 9 11 6 10-3 11-2 10 8 11 0 11-1 10 15 11-2 10 17 11-20 11-3 10 14 11-9 10-228 2-47 9 37 11 74 10 43 11 39 10 5 11 16 10 29 11 6 11 14 10-6 11 6 10-3 11 26 11-13 10-12 11 28 10-65 11-237 11 79 10 50 11 22 10 52 11 16 11 6 10 35 11-371 5-326 5 107 11 180 10 145 11 67 11 66 10 50 11 42 10 3 11 36 11-12 10 21 11-5 10 15 11 1 11-53 9-123 1 5 11 42 10 11 11 23 10 44 11-6 11 14 10-82 8-158 3 27 10 84 11 33 11 61 10 6 11-192 4-94 6 100 11 133 11 40 10 56 11 18 10-9 11 26 10-13 11-5 11 16 10 3 11-31 10-111 1-6 10 17 11 32 10 26 11 26 10-12 11 13 11 25 10-10 11 17 10-1 11-17 10-110 0 3 11 52 11 29 10 20 2-41 11-1474 25-194 25-90 25-92 24-56 25-62 25-63 25-50 25-57" fill="none" stroke="#f44848" stroke-width="13" stroke-linejoin="round"/>
<path transform="scale(.1)" d="M14256 3211l11 4 10-4 11 5 10 18 11-3 11-21 10 23 11-22 10 4 11 16 10-5 11 5 11 14 10-4 11-10 10 2 11 1 11-9 10 16 11-16 10-3 11 3 11 11 10 6 11-8 10 3 11-8 10 16 11-6 11 6 10-1 11-6 10-7 11-7 11-5 10-15 11-194 3-68 7 38 11 75 11 43 10 36 11 5 10 9 11-153 1-93 9-430 3-65 8 94 11 102 10 132 11 142 10 84 11 43 11 75 10 11 11 26 10 47 11 5 11 1 10 3 11 18 10-6 11 18 10-7 11 21 11-15 10 13 11-14 10 13 11 8 11-12 10 6 11-8 10 15 11-13 11 6 10-4 11-7 10-4 11 7 10 1 11 4 11-9 10-4 11 14 10 3 11-17 11 13 10-15 11 6 10 13 11-7 11-18 10 3 11 5 10-10 11 0 11 6 10-3 11 10 10-11 11 17 10-19 11-1 11 4 10-4 11 8 10-1 11 17 11-18 10 18 11-24 10 3 11-3 11-185 6-213 4 35 11 76 10 69 11 40 10 47 11 36 11 15 10 17 11 18 10 19 11 0 11 9 10 19 11-1 10 6 11-8 11 13 10-17 11-300 5-220 5 168 11 184 10 90 11 65 11-1 10 17 11-8 10 1 11 10 11-5 10 17 11-16 10 1 11-1 11 8 10 6 11-4 10 6 11-15 10-102 5-61 6 46 11 47 10 44 11 7 10 3 11 10 11 15 10-193 5-124 6 93 10 108 11 45 11 37 10 20 11-14 10-107 10-389 1 15 10 147 11 106 11 72 10 27 11 63 10 25 11-517 3-156 8 275 10 227 11 104 10 52 11 44 11 11 10 13 11-3 10-8 11-118 4-54 6 55 11 55 11 54 10 14 11-11 10 14 11 4 11-11 10 18 11-6 10-90 6-57 5 40 11 65 10 20 11-5 10 14 11 10 10-13 11 12 11-231 9-600 1 26 11 258 10 186 11 131 11 62 10 58 11 41 10 25 11 13 11 4 10-2 11 12 10-4 11 21 10 9 11-3 11-19 10-718 2-121 9 249 10 233 11 148 11 93 10 59 11 12 10 37 11 15 11-7 10-9 11 0 10 15 11 14 10-12 11 1 11-255 8-514 2 101 11 351 10 154 11 81 11 53 10 9 11 23 10-10 11 16 11-17 10 7 11-16 10 12 11 10 10-17 11 10 11-5 10-5 11-207 9-478 1 85 11 333 11 143 10 78 11 21 10-184 3-57 8 65 11 55 10 53 11 3 10-24 11-460 1-48 10 237 10 171 11 98 10 56 11 17 10 13 11 10 11 15 10-9 11 21 10-16 11-5 11 27 10-85 7-109 4 30 10 60 11 50 11 25 10-14 11 5 10 6 11 27 10-18 11 9 11 3 10 2 11-12 10 9 11 6 11 4 10-1 11-67 9-135 1 18 11 79 11 29 10 24 11 12 10 17 11 4 10-4 11 3 11 14 10-11 11 3 10-2 11 0 11 0 10-76 9-148 2 22 10 96 11 27 11 25 10-548 2-104 9 297 10 204 11 112 10 50 11 26 11 17 10-1 2-41 11-1429 25-185 25-119 25-75 24-71 25-52 25-71 25-49 25-58" fill="none" stroke="#f44848" stroke-width="13" stroke-linejoin="round"/>
<path transform="scale(.1)" d="M14256 3224l11 0 10 4 11 3 10 1 11-23 11 1 10 22 11-24 10 19 11-12 10 25 11-1 11 2 10 11 11-14 10 7 11-19 11 8 10 10 11-16 10 7 11-1 11-3 10 0 11 15 10-19 11 3 10 0 11 0 11 15 10-22 11 7 10-5 11 18 11-17 10-17 11-3 10 8 11-98 5-68 6 23 10 32 11 44 10 13 11 9 10 2 11 16 11 1 10-145 10-556 1 5 10 110 11 163 11 111 10 102 11 72 10 29 11 54 11 9 10 35 11 2 10-1 11 22 10 11 11-16 11 3 10 15 11-6 10 15 11 7 11-5 10-11 11-5 10 19 11 0 11-4 10 1 11-3 10-11 11 11 10-11 11 2 11-7 10 9 11-11 10 17 11-5 11 10 10 0 11-5 10-14 11-2 11 13 10 3 11 1 10-7 11 3 11-16 10 9 11 9 10-6 11 3 10-14 11 22 11-18 10 15 11-3 10 10 11-6 11-2 10 1 11-10 10 14 11-5 11-7 10 0 11-1 10 11 11-2 10-15 11-6 11 23 10 3 11-23 10-4 11 17 11-16 10 10 11-8 10 24 11 1 11-24 10 11 11 10 10-19 11 22 10-6 11-16 11 0 10 7 11-3 10 0 11 10 11-3 10-8 11 11 10-16 11-3 11 8 10 13 11-3 10-9 11 4 10 1 11 11 11-11 10 1 11 7 10-25 11 6 11-6 10 21 11-13 10-1 11 14 11-10 10-4 11 3 10 2 11 8 10 0 11-2 11-5 10 2 11 6 10 4 11-27 11 18 10-15 11 0 10 21 11-1 11-376 5-277 5 130 11 186 10 111 11 76 10 64 11 21 11 17 10 10 11-48 7-334 3 102 11 3 11 20 10 34 11 53 10-112 11 123 11-64 10-23 11 3 10 69 11-4 10 14 11-71 11 14 10 76 11 0 10-30 11 52 11-96 10 108 11-253 4-87 6 126 11 72 11-16 10 79 11 6 10 61 11-7 10-15 11-53 11 64 10 3 11-51 10 19 11-144 4-86 7 69 10-26 11 154 10-17 11-16 11 76 10-57 11-29 10 67 11 46 10-183 6 7 5 14 11-32 10 86 11 65 10 15 11-80 11 24 10 71 11-101 10 34 11-16 11 63 10 19 11-47 10-48 11 15 10-8 11 8 11 7 10 13 11 26 10-188 4-4 7-8 11 137 10 9 11-13 10-23 11 40 11-40 10 70 11 62 10-60 11-33 11 26 10-22 11 30 10-188 0 19 11 32 10 91 11 67 11-8 10 4 11-52 10-2 11-53 7-222 4 65 10 18 11 110 10 73 11 0 11-55 10 2 11 92 10 36 11-55 10 15 11 42 11-49 10-43 11 48 10 40 11 2 11-133 8-87 2-45 11 59 10 114 11-46 11 108 10-69 11 7 10 61 11-49 10 246 11-3 11-1 10 11 11-12 10 9 11-4 11-536 2-105 8 215 11 152 10 112 11 71 11 30 10 25 11 35 10-9 11-1 10 31 11-24 11 17 10-14 2-41 11-918 25-347 25-167 25-142 24-129 25-107 25-103 25-107 25-83" fill="none" stroke="#f44848" stroke-width="13" stroke-linejoin="round"/>
<path transform="scale(.1)" d="M14256 3217l11 16 10 4 11-7 10 2 11-9 11 10 10-23 11 4 10 0 11 19 10 14 11-5 11-9 10 0 11 7 10-3 11 9 11-9 10 4 11 9 10-14 11 12 11-21 10 21 11 2 10-13 11 2 10-15 11 16 11-9 10 17 11-7 10-9 11 13 11-32 10 11 11-4 10-1 11 7 11-22 10 5 11 5 10-8 11 15 10-16 11 9 11-155 8-527 2-55 1-33 9 10 1 29 10 259 11 203 11 113 10 55 11 35 10 22 11 11 11 6 10 4 11 2 10 15 11 13 10-21 11 20 11 6 10-9 11 7 10-21 11 10 11 6 10-10 11-4 10-5 11 18 11-8 10-9 11 18 10-6 11 0 10-13 11 0 11 19 10 2 11-11 10 0 11 13 11-11 10-11 11 17 10-11 11-8 11 0 10 1 11 12 10 1 11-1 11 4 10-10 11 7 10-15 11 9 10 0 11 11 11-22 10 24 11-22 10 9 11-12 11-2 10 10 11-3 10 20 11-22 11 1 10 19 11-5 10-1 11-5 10-15 11-1 11 15 10 7 11 2 10 2 11-17 11 9 10-8 11-8 10 8 11 14 11-17 10 8 11-10 10 1 11-2 10 13 11 0 11-4 10 7 11-9 10 12 11-19 11-2 10 19 11-5 10-4 11 6 11-12 10 8 11-14 10-1 11 7 10 9 11-3 11-3 10 13 11-8 10-11 11 13 11-18 10 10 11 2 10-8 11-3 11 16 10-20 11 3 10-3 11 15 10-6 11-12 11 10 10-7 11-1 10 14 11-8 11-9 10 5 11-191 2-48 8 82 11 49 11 40 10 39 11-79 10-237 0 6 11 89 10 59 11 51 11-129 2-36 8 41 11 57 10 45 11 51 11 30 10 12 11 14 10 1 11 11 11 7 10 11 11 13 10-10 11 13 10 8 11 10 11-2 10-73 9-126 2 21 10 101 11 39 11 4 10 12 11 25 10 2 11-21 11 25 10-17 11 5 10-176 6-137 5 43 10 88 11 55 11 36 10 20 11 21 10 22 11-4 11 1 10 27 11 5 10 0 11-82 7-77 4 25 10 62 11 34 10 7 11 17 10-9 11-92 7-98 4 26 10 60 11 42 10 18 11 6 11 13 10 8 11 20 10-13 11 16 11 9 10 9 11-79 8-193 2 31 11 136 10 56 11 4 11 12 10 25 11 0 10 1 11 1 11 0 10-7 11-110 2-18 8 35 11 14 11 20 10 25 11 1 10 3 11 25 11 2 10-20 11 15 10 13 11 1 10 3 11-20 11 4 10 0 11 12 10-14 11 13 11-407 7-449 3 97 11 251 10 195 11 99 11 83 10 46 11 27 10 17 11 20 10-124 2-19 9 41 11 31 10 35 11-1 10 24 11-3 11 1 10 15 11-8 10 19 11-18 11-74 9-214 1 11 11 70 10 57 11 32 10 16 11 22 11 37 10 18 11 13 10 9 11-4 11-2 10 17 11-11 10 6 11-145 3-50 8 87 10 56 11 44 10-4 11 7 10 0 11 15 11 0 10-2 2-41 11-1543 25-154 25-59 25-82 24-49 25-44 25-49 25-26 25-47" fill="none" stroke="#f44848" stroke-width="13" stroke-linejoin="round"/>
<path transform="scale(.1)" d="M14256 3220l11-1 10-9 11 4 10 3 11-9 11 28 10-13 11-2 10-7 11 17 10 7 11-2 11-3 10-5 11 9 10-14 11 22 11-20 10 8 11-6 10-4 11 2 11-1 10 13 11 6 10-7 11-2 10-2 11-4 11-8 10 26 11-3 10-3 11-4 11-16 10 9 11-5 10-1 11-10 11 7 10-16 11 24 10-20 11 10 10-13 11 16 11-20 10 20 11 2 10-22 11 6 11-3 10 9 11-14 10 1 11 2 11 0 10-4 11-530 5-212 5 68 11 176 10 157 11 126 11 73 10 55 11 38 10 12 11 5 11 25 10 12 11-13 10 18 11 7 11 2 10-18 11-7 10 8 11 4 10-4 11-2 11-7 10 11 11 13 10-24 11 9 11 8 10-15 11 0 10 14 11-1 11 8 10-23 11 6 10 2 11 12 11-15 10-6 11 2 10 11 11 11 10-17 11 17 11-11 10 0 11-15 10 5 11 18 11-12 10-3 11 11 10-10 11 15 11-20 10 4 11-9 10 0 11 17 10 7 11-18 11-1 10-2 11 12 10-2 11-12 11 6 10 9 11 4 10-17 11 11 11-18 10 2 11 12 10 6 11 5 10-15 11-5 11 18 10-10 11 1 10-3 11-4 11 4 10-7 11 13 10-15 11 8 11-4 10-1 11-8 10-3 11 28 10-20 11 5 11-4 10 12 11-6 10 0 11 0 11-15 10 18 11-5 10 12 11-9 11 2 10-4 11 7 10-4 11-2 10-4 11 0 11-5 10-1 11 5 10 1 11-3 11-4 10 9 11-19 10 5 11-1 11 20 10-3 11-11 10-8 11 12 10-11 11-15 11-125 0-7 10 20 11 38 10 40 11 5 11 30 10-4 11 7 10 11 11-10 11 22 10 0 11-10 10-4 11 21 10-19 11 13 11-9 10-64 9-162 2 19 10 99 11 38 11 41 10-3 11 26 10 9 11-2 11-16 10 8 11 10 10 7 11-17 10-1 11 16 11-6 10-165 3-50 8 91 10 53 11 39 11 25 10-4 11-3 10-7 11-28 9-99 2 14 10 36 11 37 10 36 11 2 10-7 11 18 11 0 10 14 11-25 10 18 11-5 11 7 10-19 11 15 10-7 11-5 11 0 10-82 10-269 1 12 10 99 11 78 10 45 11 33 11 25 10 15 11 20 10-3 11 6 11 25 10-14 11-95 8-187 2 39 11 95 11 84 10 10 11 44 10-5 11 16 11 5 10-201 4-93 7 73 10 51 11 55 10 41 11 24 11 7 10 34 11 3 10 2 11-6 11-3 10-359 2-78 9 193 10 108 11 64 11 41 10 33 11-4 10 24 11-11 10-2 11 5 11 7 10-7 11-2 10 5 11-23 11-453 1-64 9 75 11 92 10 96 11 57 11 35 10 29 11 36 10 12 11-141 5-100 5 52 11 85 11 39 10 29 11-93 0 2 10 55 11 72 11 30 10-451 5-248 6 148 10 177 11 108 11 90 10 82 11 37 10 36 11 20 10 21 11 28 11-7 10 21 2-41 11-973 25-295 25-155 25-119 24-105 25-89 25-98 25-90 25-73" fill="none" stroke="#f44848" stroke-width="13" stroke-linejoin="round"/>
<path transform="scale(.1)" d="M14256 3214l11 3 10 14 11-20 10 11 11-6 11 19 10-14 11-8 10-1 11 0 10 27 11 5 11-18 10-2 11 0 10 11 11-11 11 25 10-25 11 20 10-1 11-7 11-6 10 11 11 1 10-19 11 8 10 4 11-10 11 3 10-8 11 15 10 7 11 2 11-34 10 10 11 7 10-14 11-2 11-9 10 17 11-2 10-16 11 6 10 15 11-6 11 5 10-15 11 0 10 6 11 12 11-14 10 8 11-8 10 8 11 4 11-24 10 8 11-6 10 5 11 17 10-28 11 21 11 6 10-8 11 6 10-9 11-9 11 5 10 1 11-15 10 15 11-14 11 7 10 8 11-13 10 18 11 0 10-21 11 16 11-3 10-6 11-8 10 10 11-11 11 7 10 2 11 0 10 10 11-18 11 18 10-20 11 5 10 11 11 5 11-18 10 3 11-5 10-154 11-146 10-102 11 36 11-24 10-7 11-46 10 25 11-54 11-67 10-45 11-7 10 38 11 5 11-37 10 8 11-48 10-21 11-5 10 27 11-18 11 62 10 51 11 44 10 42 11 34 11 34 10 1 11 7 10 59 11 44 11-80 10 64 11-90 10 33 11-25 10-40 11 56 11-65 10 24 11 40 10 40 11-55 11 22 10-49 11-52 10-38 11-22 11-37 10-40 11-41 10-30 11 48 10-73 11 6 11 27 10-30 11 1 10 18 11 50 11-96 9-93 1-24 11 701 10 9 11 23 11 16 10 33 11-11 10 32 11-15 10 15 11-2 11-12 10 8 11 12 10-11 11 10 11-4 10 14 11-27 10-170 4-90 7 72 11 72 10 37 11 30 10 38 11 8 10 1 11-7 11 24 10 3 11-4 10-183 10-666 1 7 11 170 10 174 11 95 10 98 11 75 11 32 10 57 11-277 8-477 2 86 11 413 10 211 11 65 11-38 9-231 1 18 11 109 10 76 11 53 11 51 10 4 11 41 10 4 11-9 11 11 10 19 11-18 10 11 11 13 10-144 2-20 9 42 11 16 10 47 11 5 10 21 11-2 11 21 10 4 11-15 10 9 11 6 11 13 10 0 11-15 10 9 11-16 10 18 11-18 11-169 6-118 4 91 11 107 10 55 11 19 11 2 10 32 11-23 10 14 11 2 11-382 7-451 3 66 11 227 10 160 11 111 10 53 11 81 11 24 10 36 11 7 10 35 11 11 11 6 10-224 7-226 4 38 10 77 11 68 11 50 10 41 11 33 10 46 11 5 11 14 10 15 11 30 10-3 11 22 10-13 11 13 11 11 10 6 11-204 2-48 8 72 11 50 11 14 10 28 11 45 10-6 11 6 11 10 10 27 11-19 10 26 11 1 10-5 11-12 11 12 10-11 11 25 10-26 11 6 11-55 10-182 0 3 11 88 10 46 11 45 11 11 10 15 11 2 10 26 11-4 10-10 11 11 11 13 10-18 11 13 10-8 11 12 11-12 10-8 11 4 10-115 6-100 5 46 11 78 10 32 11 35 10-2 11 28 10 2 11 2 11-12 10 10 2-41 11-1072 25-260 25-136 25-98 24-95 25-89 25-57 25-73 25-79" fill="none" stroke="#f44848" stroke-width="13" stroke-linejoin="round"/>
<path transform="scale(.1)" d="M14256 3219l11 7 10-3 11 8 10 5 11-23 11 7 10-1 11 4 10-9 11-2 10 20 11-3 11-1 10-1 11-3 10 12 11 6 11-14 10 11 11 8 10 0 11-25 11 26 10-26 11 13 10-14 11 16 10-4 11 3 11 4 10-11 11 8 10-4 11 10 11-36 10 22 11-21 10 14 11 6 11-14 10-11 11 12 10 11 11-9 10-10 11-9 11 26 10-13 11 13 10-10 11-13 11 7 10-1 11 7 10-9 11 2 11 2 10-11 11 11 10 6 11 1 10-4 11-15 11 14 10 11 11-26 10 4 11-2 11 4 10-6 11 21 10-20 11 23 11-27 10 21 11 2 10-10 11-5 10-6 11 10 11-11 10 18 11 6 10-8 11 2 11-10 10-10 11 2 10 7 11 14 11-15 10-3 11-1 10 19 11-5 11-10 10-1 11-11 10 1 11 5 10 8 11-9 11 8 10 8 11-13 10 1 11 10 11 2 10-8 11-7 10-4 11 21 11 1 10-4 11-5 10-3 11 3 10 2 11-15 11 2 10 8 11-3 10-2 11 4 11-7 10 8 11 8 10-1 11 1 11-23 10 6 11-1 10 8 11-6 10-1 11 8 11 5 10 0 11-9 10-9 11 3 11 13 10-9 11 10 10-14 11-12 11 15 10-4 11 0 10 8 11-5 10 0 11 5 11-6 10-5 11 8 10-10 11-7 11 11 10-8 11-4 10 2 11 5 11-8 10 15 11 9 10-1 11-26 10 22 11 0 11 3 10-2 11 2 10-14 11 2 11-8 10-3 11 14 10 1 11-2 11-4 10 3 11-15 10-45 11-269 0-1 10 56 11 66 11 46 10 43 11 22 10-296 8-422 3 141 11 303 10 183 11-25 8-174 2 32 11 120 11 81 10 33 11 34 10 43 11 15 10 7 11 7 11 8 10 5 11-23 10 17 11-7 11-7 10-1 11 6 10 8 11-1 11 9 10-5 11-174 5-100 5 42 11 44 10 71 11 19 11 36 10 1 11 28 10 4 11 17 11-5 10 13 11-14 10 4 11-50 8-121 3 19 10 39 11 48 10 39 11 17 10 4 11-83 9-157 2 20 10 91 11 59 10 55 11 3 11 19 10 10 11-23 10 12 11 14 11-3 10-5 11-13 10-1 11 12 10 0 11-1 11 1 10 2 11-8 10-78 5-54 6 15 11 61 10-1 11 31 10 9 11-154 3-53 8 61 10 57 11 40 10 19 11 22 11-1 10 2 11 25 10-18 11-181 5-158 5 94 11 131 11 64 10 42 11-6 10 24 11-43 11-275 0-19 10 155 11 109 10 44 11 25 11 2 10-7 11 12 10 10 11-27 10 10 11-3 11 2 10-172 10-575 1 20 10 172 11 134 11 107 10 73 11 44 10 62 11 15 11 34 10 27 11 22 10-4 11 6 10 15 11-285 7-417 4 99 10 230 11 140 10 100 11 57 11 34 10 17 11 22 10 21 11 5 11-3 10-11 11 4 10-8 11-1 10 19 11-15 11 5 10-5 2-41 11-953 25-287 25-147 25-102 24-96 25-105 25-88 25-67 25-79" fill="none" stroke="#f44848" stroke-width="13" stroke-linejoin="round"/>
<path transform="scale(.1)" d="M14256 3219l11 17 10-12 11-14 10 17 11-17 11 20 10 2 11-2 10-8 11-9 10 17 11-1 11 5 10-9 11 2 10 16 11 4 11 4 10-9 11 4 10-11 11 8 11-10 10 15 11-5 10-2 11-15 10 5 11-9 11 6 10-6 11 13 10 7 11 0 11-38 10 7 11 5 10-7 11-1 11 22 10-3 11 2 10-11 11 9 10-17 11 8 11-10 10 2 11 10 10-17 11 13 11 12 10-11 11 9 10-5 11-14 11 21 10-26 11 0 10 12 11-6 10 0 11 5 11 10 10-21 11 4 10 11 11-19 11 7 10 19 11-3 10-20 11 4 11 11 10 3 11-6 10 3 11-6 10 9 11 2 11 2 10-20 11 6 10 11 11-7 11 4 10-3 11-12 10 11 11-12 11 6 10-4 11-9 10 13 11-13 11 22 10-14 11-1 10 20 11-21 10 9 11-4 11-3 10-4 11 21 10-12 11-14 11 9 10 5 11 2 10 1 11 7 11 0 10-27 11 24 10-17 11 15 10-10 11 8 11-13 10-8 11 5 10 1 11 8 11-4 10 1 11 8 10-16 11 18 11-6 10 7 11-14 10 17 11-19 10 8 11-11 11 3 10-7 11 10 10 15 11-20 11 9 10 10 11-2 10-8 11-9 11-6 10 16 11-17 10 5 11 12 10-2 11-15 11 24 10-26 11 28 10-24 11 9 11-8 10-2 11 7 10-6 11 7 11 3 10-10 11 11 10-1 11 2 10-6 11-8 11 6 10 17 11-1 10-489 6-385 5 89 11 216 10 150 11 111 10 75 11 61 11 30 10 35 11 38 10 11 11 8 10 5 11 13 11 6 10 14 11 1 10-324 9-171 2 48 11 77 10 11 11 40 10 59 11-40 11 32 10 28 10-168 1 63 10 12 11 46 10-44 11 132 11-87 10 108 11-95 10 22 11 94 11-29 10 33 11-76 10-16 11-167 1-83 10 59 10 76 11 17 10-40 11 139 10 19 11-68 11-58 8-208 2 103 11 26 10 78 11 69 11-22 10 15 11 15 10-11 11-2 11 109 10-81 11-25 10 12 11 81 10-73 11-3 11 47 10-18 11-78 5-66 5 46 11-9 11 56 10 62 11-49 10 11 11 86 11 6 10-103 11 86 10 17 11-83 10 76 11-103 10-235 1 51 10 69 11 65 10-56 11 45 11 78 10-71 6-126 5 95 10 99 11 7 11-27 10 4 11 92 10-33 11-36 11 21 10-48 11 25 10 30 11 34 10-28 11-16 11 50 10-34 11 78 10-116 11-25 8-241 3 46 10 17 11 115 10 22 11-24 11 31 10 66 11-45 10-2 11 30 10 21 11 59 11-43 10-4 11 2 10-658 3-130 8 75 11 162 10 136 11 136 10 69 11 90 11-38 10 93 11 26 10-58 11 115 10 167 11 10 11-6 10 19 11 1 10 13 11-22 11-606 3-197 7 194 11 244 10 142 11 81 11 56 10 22 11 23 10 39 11 1 10 12 11-6 11 13 10 0 2-41 11-1098 25-232 25-132 25-105 24-74 25-84 25-59 25-66 25-73" fill="none" stroke="#f44848" stroke-width="13" stroke-linejoin="round"/>
<path transform="scale(.1)" d="M14256 3226l11-16 10 25 11-15 10-10 11 25 11-1 10-26 11 17 10-9 11 0 10 28 11 6 11-7 10-19 11 21 10-2 11-20 11 11 10-3 11 9 10 4 11-12 11-8 10 18 11-11 10 1 11-3 10 9 11-13 11 16 10-20 11 1 10 13 11 3 11-23 10-6 11-1 10 1 11-4 11 7 10 2 11 12 10-6 11-10 10-8 11-3 11 10 10 0 11 6 10-14 11 14 11-12 10 9 11 8 10-12 11 8 11 6 10-17 11 0 10 7 11-17 10 2 11-3 11 18 10-17 11 14 10 1 11 2 11-18 10 18 11-4 10-12 11 21 11-25 10 8 11 2 10 3 11 6 10-22 11 21 11-9 10 7 11 3 10-10 11-6 11 17 10-1 11-12 10 10 11-12 11 6 10 8 11-21 10 15 11-19 11 3 10 6 11-10 10 18 11-13 10 10 11 0 11 0 10-14 11 19 10-16 11-5 11 5 10-5 11 8 10-5 11 13 11-17 10 15 11-14 10 4 11-4 10-4 11 12 11 6 10 2 11-13 10-6 11 17 11-3 10-10 11 4 10 13 11-16 11 15 10-17 11 18 10-12 11-3 10 9 11-5 11 6 10-21 11-3 10 0 11 3 11 7 10-9 11-3 10 22 11 5 11-18 10 7 11-6 10 7 11-4 10 0 11 13 11-25 10 21 11-2 10-17 11 18 11-10 10-15 11 12 10 3 11 10 11-19 10-4 11 5 10 12 11-10 10-9 11 19 11-17 10-4 11 4 10 17 11-15 11-3 10 7 11 15 10-24 11 1 11 11 10 5 11-7 10-12 11-2 10-38 11-253 1-15 10 79 10 72 11 36 10 41 11 11 11 10 10 16 11 6 10 34 11 4 11-13 10 15 11 8 10-1 11-5 10 1 11-58 10-156 1 5 10 52 11 58 10 17 11 17 11 15 10 20 11 22 10-13 11 7 11-4 10 0 11 10 10-27 11-249 1-22 9 146 11 86 11 38 10-591 2-108 9 205 10 201 11 99 11 72 10 49 11 29 10 31 11 20 11 1 10-5 11 7 10-160 1-13 10 69 10 37 11 14 11 43 10 9 11 6 10-5 11 16 11-10 10 15 11 0 10-17 11-2 11-2 10 24 11-6 10 5 11-28 10-313 2-33 9 90 11 71 10 35 11 51 10 13 11 42 11 13 10 7 11-87 9-216 1 29 11 137 11 91 10 35 11 11 10 7 11 23 11-6 10 16 11-19 10 17 11-16 10 12 11-142 9-263 2 26 10 93 11 96 10 68 11 32 11 26 10 7 11 15 10 24 11-3 11 22 10-5 11-10 10 13 11-2 10 13 11-9 11-13 10-231 4-100 7 76 10 66 11 62 11 20 10 53 11 14 10-33 11-678 1-56 10 145 10 147 11 113 10 112 11 60 10 63 11 23 11 40 10 13 11 25 10 6 11 18 11 25 10 5 11 5 10 2 11-6 11 2 10 0 11 13 10-209 6-150 5 36 10 66 11 42 11 54 10 43 2-41 11-1184 25-153 25-95 25-61 24-63 25-51 25-43 25-47 25-42" fill="none" stroke="#f44848" stroke-width="13" stroke-linejoin="round"/>
<path transform="scale(.1)" d="M14256 3213l11 8 10 11 11-1 10 4 11-1 11-8 10 6 11-15 10-5 11 12 10 7 11-7 11 1 10 7 11 12 10-18 11 5 11-3 10 15 11 3 10-5 11 5 11-22 10 20 11-9 10-9 11 8 10 13 11-13 11 14 10-20 11 7 10-7 11-7 11-4 10 4 11 4 10-18 11 1 11-3 10 2 11 16 10 1 11-7 10-10 11 12 11-11 10 16 11-8 10 3 11-12 11 12 10-16 11 20 10-10 11-13 11 23 10-6 11-1 10-1 11-12 10 6 11 0 11 7 10 6 11-9 10-9 11 7 11-3 10 15 11-22 10-1 11 16 11 8 10-3 11-1 10 2 11-24 10 0 11 15 11-15 10 4 11 12 10-4 11 11 11-20 10 15 11-6 10 8 11-19 11 11 10-9 11 16 10-16 11 16 11-8 10 3 11-19 10 16 11-1 10 4 11-16 11 20 10-22 11-2 10 21 11-12 11 14 10-13 11 11 10-21 11 23 11-15 10 10 11 7 10 1 11-24 10 0 11 21 11-11 10 10 11-1 10-24 11 0 11 14 10 6 11 0 10-16 11 7 11 9 10-9 11 1 10-8 11 0 10-5 11 9 11-11 10 22 11 1 10-3 11-7 11-3 10 5 11 1 10-13 11 4 11 10 10 9 11-5 10-11 11-12 10 25 11-6 11-11 10 13 11-20 10 4 11 13 11-3 10 11 11-6 10-14 11 10 11 1 10-8 11 8 10 7 11-21 10 21 11-11 11 0 10 6 11 1 10 2 11-10 11 2 10-16 11 9 10 6 11 0 11 1 10-5 11-11 10-1 11 23 10-25 11 21 11-22 10 19 11 6 10-10 11 3 11-18 10 14 11 1 10 0 11-13 11 12 10-17 11 6 10 19 11 0 10-5 11 4 11-21 10 18 11-15 10-6 11 14 11 3 10-7 11-12 10 18 11-2 11-8 10-6 11 3 10 16 11 2 10-21 11 21 11-16 10 14 11-20 10 21 11-24 11 15 10 4 11 8 10-10 11-8 11 15 10 0 11-18 10 14 11-11 10 16 11-11 11 5 10-14 11 19 10-7 11-15 11 8 10 3 11 4 10-8 11 12 11-6 10 9 11-22 10 3 11 18 10-6 11-15 11 12 10-1 11-13 10 18 11-13 11 16 10-1 11-5 10-21 11 0 11 8 10-8 11 10 10 16 11-2 11-4 10-5 11 1 10 8 11-19 10-3 11 10 11-5 10 16 11-12 10-9 11 12 11 2 10-11 11-4 10 11 11-3 11 11 10-19 11 14 10 3 11-1 10-6 11-12 11 12 10 7 11-9 10 8 11-11 11-12 10 21 11-21 10 4 11 22 11-2 10-14 11 2 10 6 11 5 10-14 11-10 11 10 10 6 11 0 10 6 11-1 11-9 10-8 11 21 10-25 11 18 11-1 10-17 11 15 10-3 11 11 10-7 11-2 11 6 10-24 2-41 11-1414 25-136 25-65 25-31 24-61 25-46 25-28 25-34 25-35" fill="none" stroke="#f44848" stroke-width="13" stroke-linejoin="round"/>
<path transform="scale(.1)" d="M14256 3233l11-19 10 0 11 3 10 10 11-19 11 22 10 0 11-17 10 21 11-11 10 13 11 5 11-3 10-1 11 4 10 6 11-23 11 0 10 9 11 9 10 5 11-12 11 14 10-12 11 10 10-26 11 12 10-9 11 16 11-18 10 19 11-15 10 4 11 5 11-20 10-4 11-7 10 20 11-10 11 13 10-3 11 4 10-24 11 0 10 23 11-9 11 2 10-12 11-8 10 21 11 4 11-3 10-4 11 8 10-16 11-6 11 21 10-24 11 0 10 10 11 7 10-1 11 2 11-6 10-9 11 8 10 3 11 4 11-18 10 2 11 0 10 4 11 4 11-13 10 11 11 9 10-2 11 0 10-8 11-4 11 11 10-12 11-5 10-4 11 4 11 24 10-16 11-8 10 21 11-23 11 9 10-12 11 5 10-2 11 5 11-3 10 18 11-20 10-2 11 12 10 9 11-18 11 7 10 4 11-8 10 17 11-18 11 1 10 16 11-6 10-20 11 8 11-8 10 14 11 2 10 3 11-21 10 6 11 19 11-9 10 1 11 1 10-17 11 10 11 2 10-12 11 1 10-2 11 19 11-16 10 12 11-16 10 14 11 5 10-8 11 6 11-10 10 13 11-18 10 18 11-12 11-7 10 16 11-5 10-7 11 0 11 12 10 5 11-26 10 4 11-1 10 12 11 0 11 11 10-18 11-5 10-6 11 8 11 6 10 1 11 2 10-4 11 10 11-16 10 3 11 14 10-13 11 16 10-3 11 0 11-11 10-1 11 12 10-9 11-4 11-4 10 17 11-23 10 3 11 18 11-6 10-1 11-12 10 13 11-9 10 2 11-9 11 6 10 9 11-19 10 2 11 16 11-8 10-6 11 12 10-7 11 13 11-20 10 12 11-15 10 18 11 1 10-3 11-1 11 1 10-10 11-3 10 2 11-6 11 19 10-4 11-18 10 1 11 3 11 14 10 8 11-19 10 0 11 19 10-22 11 15 11-5 10 12 11-2 10 2 11-17 11 5 10 2 11-7 10-10 11 20 11-6 10 5 11-12 10 13 11-5 10-1 11 5 11-3 10-12 11 17 10-15 11 13 11 4 10-15 11-4 10 8 11 5 11 5 10-24 11 21 10-1 11-7 10 1 11 4 11-17 10 14 11 6 10-14 11 9 11 3 10-16 11 12 10-22 11 14 11 8 10-4 11-10 10 13 11-3 11-12 10-6 11 9 10 13 11-2 10 0 11 4 11-21 10-2 11 8 10 8 11-16 11 9 10-5 11 9 10-7 11 14 11-19 10 21 11-11 10 6 11-10 10-6 11-5 11 3 10 3 11-3 10 0 11 17 11-7 10-2 11-12 10 2 11-5 11 14 10-14 11 14 10 9 11-6 10-17 11 16 11-2 10 7 11-4 10-12 11-4 11 22 10 0 11-9 10 11 11-3 11 3 10-21 11 3 10-10 11 16 10-10 11 18 11 2 10-17 2-41 11-512 25-243 25-140 25-95 24-83 25-88 25-87 25-73 25-58" fill="none" stroke="#f44848" stroke-width="13" stroke-linejoin="round"/>
<path transform="scale(.1)" d="M14256 3229l11-17 10 6 11 7 10-7 11-8 11 14 10-4 11-9 10 0 11 12 10 24 11-23 11 14 10-13 11 0 10-2 11 14 11-3 10 9 11-8 10-11 11 6 11 18 10-3 11-22 10 18 11-8 10 8 11-17 11 1 10 15 11-12 10 2 11 16 11-22 10-10 11-3 10 5 11-2 11 9 10 2 11-12 10 6 11 11 10-22 11-4 11-1 10 9 11 7 10-6 11 3 11-6 10 6 11 10 10-22 11 16 11-11 10 11 11 4 10 2 11-21 10 14 11-3 11 5 10-10 11 7 10 5 11-16 11 10 10-9 11 6 10-1 11 9 11-23 10 18 11 0 10-15 11 10 10 7 11-4 11 2 10-9 11-10 10 11 11-11 11 20 10-16 11 3 10 1 11 18 11-27 10 25 11-18 10 18 11 1 11-4 10-6 11 5 10-9 11 5 10-3 11 6 11-19 10 3 11-5 10 13 11 2 11 8 10-16 11-1 10 2 11-8 11 6 10-2 11 9 10 7 11-13 10-9 11 17 11-20 10 7 11 2 10 8 11-13 11-5 10 24 11 3 10-6 11-9 11 4 10-10 11-2 10 23 11-21 10 3 11 11 11-14 10 18 11-7 10-8 11 14 11-15 10 8 11-11 10 17 11-14 11 14 10-9 11 7 10-8 11-10 10 17 11-4 11-11 10 12 11 0 10-9 11 11 11 5 10-22 11 12 10 3 11-17 11-3 10 15 11-3 10-3 11-7 10 19 11-1 11-19 10 6 11-2 10 11 11 4 11-19 10 1 11 0 10 19 11-22 11 14 10-10 11 1 10-1 11 6 10 8 11-16 11 20 10-21 11 14 10-6 11 2 11-10 10 2 11 14 10-21 11 5 11 13 10-19 11 24 10-12 11-11 10 20 11-19 11-3 10 12 11-8 10 4 11-4 11 4 10 9 11-17 10 24 11-25 11 1 10 14 11 3 10-3 11 5 10-1 11-8 11-2 10-5 11 5 10 1 11-3 11 6 10-12 11-5 10 10 11 13 11-7 10 1 11-17 10 18 11-1 10 5 11-13 11-8 10 8 11 13 10-16 11-8 11 1 10 10 11 9 10 2 11-13 11 4 10-3 11-4 10 17 11-8 10-6 11-11 11 1 10 9 11 4 10-3 11-6 11 4 10-4 11 10 10-4 11-2 11 2 10 6 11-7 10-11 11 4 11 15 10 2 11-13 10 10 11-19 10 27 11-25 11 20 10-16 11 2 10 12 11-7 11-15 10 24 11-11 10 5 11-6 11 14 10-19 11 14 10-14 11 14 10-8 11-9 11 13 10-17 11 7 10 9 11 4 11-4 10-12 11 16 10-13 11 7 11 0 10-13 11 5 10 13 11-21 10 8 11 5 11-7 10-2 11-5 10 16 11 8 11-2 10-11 11 6 10 3 11-1 11-14 10 0 11 17 10-11 11-1 10 8 11-12 11-3 10-2 2-41 11-744 25-211 25-93 25-95 24-67 25-69 25-71 25-71 25-45" fill="none" stroke="#f44848" stroke-width="13" stroke-linejoin="round"/>
<path transform="scale(.1)" d="M14256 3223l11-2 10 15 11 0 10-2 11-25 11-1 10 1 11 14 10-1 11 11 10 15 11-17 11 1 10 16 11 2 10-18 11 10 11-16 10 4 11 16 10-8 11 14 11-7 10-4 11-9 10-6 11 2 10 8 11 12 11-6 10 0 11-10 10 0 11 19 11-26 10-6 11 4 10-9 11-7 11 21 10-14 11 19 10-8 11-12 10 5 11 2 11-3 10-1 11-2 10 3 11 6 11 3 10-17 11-1 10 18 11-5 11-8 10-3 11 1 10 6 11 4 10 12 11-4 11-18 10 0 11 4 10-9 11 23 11 2 10-22 11 11 10-4 11 3 11-10 10 16 11-10 10-9 11 9 10-6 11 22 11-16 10 6 11 7 10-24 11 7 11 8 10 4 11-8 10 4 11 10 11-23 10 16 11 9 10-20 11 9 11 5 10-14 11 17 10 3 11-21 10 17 11-6 11-12 10-4 11 1 10 15 11-16 11 10 10-3 11 19 10-15 11-4 11 17 10-1 11-13 10-2 11 5 10 0 11-16 11 22 10-18 11 23 10-16 11 8 11 7 10-13 11-1 10 2 11-5 11-7 10 16 11-8 10 8 11-9 10-9 11 8 11-3 10 21 11-7 10-17 11 10 11 11 10-10 11-15 10 8 11 19 11-26 10-1 11 23 10-11 11-9 10 8 11-9 11 2 10 12 11 6 10-1 11-4 11-4 10 0 11-2 10-2 11 8 11 2 10-14 11 17 10-1 11-21 10-1 11 10 11-5 10 11 11-5 10-3 11 12 11-16 10 16 11-18 10 25 11-21 11 5 10-13 11 22 10 0 11-5 10 11 11-8 11 6 10-12 11-7 10 13 11-10 11 14 10-1 11-14 10 18 11-23 11 2 10-2 11 8 10-6 11 12 10-7 11 13 11-5 10 1 11-18 10 16 11-11 11 13 10-21 11 25 10-20 11 11 11 1 10-4 11 4 10-3 11 8 10-13 11 8 11 8 10-18 11 2 10-1 11 7 11 7 10-5 11 0 10-3 11-14 11 13 10-7 11 3 10 17 11-4 10-2 11 0 11 6 10-5 11-6 10-8 11 16 11-12 10 9 11-6 10-9 11 1 11 10 10-17 11 24 10-8 11 9 10 0 11-9 11 1 10-3 11-16 10 17 11 5 11-5 10-16 11 2 10 13 11 1 11-5 10-3 11 17 10-2 11-11 11-2 10-6 11-3 10 1 11 21 10-22 11 21 11-7 10-17 11 20 10-13 11-8 11 28 10-7 11-4 10-9 11 5 11-8 10 6 11-5 10 11 11 9 10-24 11 23 11-17 10 3 11 4 10 4 11-7 11-10 10 23 11-15 10-10 11 7 11-8 10 24 11-7 10 9 11-24 10 15 11-15 11 0 10 19 11-13 10 8 11-6 11 17 10-26 11 3 10-4 11 11 11-8 10 2 11 22 10-5 11-15 10-6 11 25 11-11 10-16 2-41 11-751 25-175 25-94 25-64 24-62 25-75 25-55 25-47 25-44" fill="none" stroke="#f44848" stroke-width="13" stroke-linejoin="round"/>
<path transform="scale(.1)" d="M14256 3229l11-10 10 7 11-3 10-2 11 0 11-8 10 9 11-6 10 13 11-2 10 10 11-12 11 15 10-4 11 13 10-12 11-7 11 23 10-7 11-5 10-12 11 10 11-1 10 5 11 4 10 3 11-22 10 1 11 19 11-17 10 8 11-4 10 6 11-6 11-21 10 19 11-14 10 9 11-7 11-7 10 17 11-2 10-6 11 1 10-8 11 20 11-1 10-11 11-16 10 0 11 17 11-7 10 6 11-2 10 9 11 1 11-9 10 11 11-13 10-4 11 18 10-12 11 7 11-5 10-15 11 20 10-16 11 8 11-1 10 14 11-2 10-26 11 22 11-15 10 4 11 8 10-14 11 2 10-6 11 8 11 5 10 6 11-4 10 0 11 12 11-11 10-16 11 21 10 1 11-12 11-2 10 14 11-21 10 18 11-1 11-13 10 14 11 6 10-5 11 0 10-18 11-1 11 12 10-5 11 1 10 18 11-21 11 17 10-2 11-2 10-5 11 3 11-7 10-8 11 7 10-5 11 9 10-6 11-6 11 24 10-11 11-3 10 3 11-4 11 14 10-18 11-4 10 9 11-8 11-4 10 16 11 6 10 4 11-7 10-11 11 9 11-18 10 8 11 18 10-10 11-12 11 5 10 5 11 13 10-24 11 16 11 4 10 4 11 1 10-25 11 1 10 21 11-7 11 6 10-17 11 3 10 10 11-7 11 0 10 12 11-9 10 3 11-6 11-10 10 4 11 3 10-4 11 20 10-1 11-16 11-2 10-1 11 17 10-11 11-4 11 18 10-16 11 14 10-4 11-8 11 13 10-12 11-8 10 10 11 2 10 2 11-19 11 19 10 8 11-10 10 2 11-20 11 22 10-18 11 24 10-11 11-5 11-8 10 22 11-11 10-8 11-3 10-4 11 24 11-15 10 12 11 2 10-22 11 10 11-3 10 12 11-15 10 0 11 18 11-14 10 15 11-15 10 11 11-8 10 14 11-25 11 17 10-1 11-15 10-1 11 10 11 3 10 13 11 1 10-20 11 7 11-2 10 13 11-13 10-1 11 11 10-8 11 7 11-23 10 8 11-8 10 20 11 8 11-12 10 10 11-11 10-3 11-8 11-5 10 7 11 3 10 18 11-26 10 15 11-14 11 24 10-24 11 23 10-17 11 17 11-12 10-6 11 20 10-8 11 2 11-2 10 8 11-26 10 8 11 18 11-11 10-6 11 11 10-2 11-18 10 9 11-9 11 20 10-21 11 19 10 4 11 3 11-9 10 1 11-17 10 0 11 13 11 10 10-10 11-2 10-6 11 21 10-6 11-20 11 17 10-14 11 22 10-23 11 1 11 8 10 6 11-1 10-3 11-9 11 3 10 16 11-20 10 5 11 9 10-2 11 1 11-14 10 13 11-12 10 5 11-1 11-3 10 13 11-7 10 4 11-5 11-5 10 13 11 0 10 2 11-8 10 9 11 3 11-25 10 22 2-41 11-1309 25-288 25-153 25-114 24-100 25-104 25-81 25-95 25-71" fill="none" stroke="#f44848" stroke-width="13" stroke-linejoin="round"/>
<path transform="scale(.1)" d="M14256 3218l11 14 10 3 11-23 10 19 11 4 11 1 10-18 11-3 10-6 11 6 10 14 11 2 11-6 10 0 11 26 10-21 11 10 11-5 10-6 11 19 10-18 11 21 11-9 10-1 11-6 10 3 11-16 10 8 11-3 11-2 10 16 11-16 10 9 11 9 11-16 10-17 11 19 10-16 11 18 11-14 10-3 11 2 10 14 11-19 10-1 11 17 11-2 10-5 11-10 10 15 11-18 11 0 10-1 11 18 10-3 11 2 11-19 10 21 11-6 10-2 11 11 10-4 11-9 11 12 10 1 11-1 10-13 11 15 11-22 10 8 11 2 10 12 11-2 11-17 10 14 11-16 10-6 11 19 10-2 11-13 11 4 10-3 11-1 10-5 11 0 11 11 10-1 11-5 10 12 11 2 11-8 10 3 11 4 10-2 11-15 11 23 10-11 11-6 10-1 11-9 10 4 11-1 11 13 10 5 11-18 10 5 11 18 11-13 10 5 11-8 10-2 11 11 11-7 10-1 11 12 10-16 11 10 10-17 11 21 11 1 10-19 11-1 10 16 11-11 11 5 10 2 11-7 10 9 11-3 11 3 10 3 11-9 10-12 11 6 10 20 11-21 11-1 10 15 11 0 10-11 11 0 11 12 10-8 11 7 10-16 11 11 11-2 10 3 11 4 10-1 11 1 10-4 11 3 11-5 10-12 11-1 10 19 11-6 11-13 10 20 11-13 10 8 11 7 11-4 10-11 11-7 10 7 11 9 10-2 11-17 11 22 10-5 11-3 10 0 11 3 11-7 10 7 11-2 10-18 11 6 11-4 10 19 11-5 10 7 11 2 10 0 11-25 11 0 10 19 11-12 10-1 11 16 11-6 10 3 11-12 10-1 11 1 11 11 10-11 11 16 10-22 11 0 10 0 11 10 11-6 10-4 11 1 10 11 11 1 11-16 10 7 11 9 10 1 11-5 11-7 10 12 11-2 10 0 11 5 10-12 11 7 11-3 10-13 11 21 10-22 11 25 11-18 10 8 11 6 10-17 11 19 11-10 10 8 11-5 10 0 11-18 10 4 11 3 11 15 10 2 11-22 10 10 11-3 11 0 10 3 11-3 10-1 11 12 11 5 10-2 11-7 10-17 11 21 10-1 11 1 11 6 10-1 11-21 10 2 11 1 11-9 10 22 11-20 10 23 11-9 11-5 10-7 11 20 10-17 11 8 11-9 10-4 11 8 10-11 11 0 10 1 11 3 11 22 10-9 11-6 10 8 11 4 11-22 10 6 11 2 10-11 11 10 11-2 10 0 11 14 10 4 11 1 10-5 11-15 11 1 10-1 11 17 10-1 11-10 11 7 10-11 11-5 10 21 11-22 11 6 10 9 11 2 10-3 11 2 10-2 11 8 11-10 10-15 11 12 10 10 11-12 11-7 10 5 11 4 10-4 11 10 11-19 10 21 11-13 10-10 11 23 10-3 11-10 11 6 10 3 2-41 11-1318 25-228 25-129 25-95 24-93 25-65 25-77 25-76 25-54" fill="none" stroke="#f44848" stroke-width="13" stroke-linejoin="round"/>
<polyline points="1425.6,322.15 1426.66,322.07 1427.72,322.12 1428.78,321.85 1429.84,322.48 1430.89,321.98 1431.95,321.96 1433.01,321.92 1434.07,321.99 1435.13,321.96 1436.19,322.12 1437.25,322.43 1438.31,322.18 1439.37,322.45 1440.42,322.72 1441.48,322.24 1442.54,322.63 1443.6,322.5 1444.66,321.89 1445.72,322.3 1446.78,322.39 1447.84,322.04 1448.89,322.19 1449.95,322.31 1451.01,322.11 1452.07,321.98 1453.13,321.84 1454.19,322.31 1455.25,322.79 1456.31,322.19 1457.37,322.48 1458.42,321.91 1459.48,322.53 1460.54,322 1461.6,322.54 1462.66,322.62 1463.72,320.96 1464.78,318.65 1465.84,317.03 1466.9,315.27 1467.95,314.21 1469.01,312.19 1470.07,310.13 1471.13,308.77 1472.19,308.78 1473.25,309.27 1474.31,309.91 1475.37,310.97 1476.43,311.18 1477.48,312.16 1478.54,312.15 1479.6,312.96 1480.66,313.41 1481.72,314.15 1482.78,314.43 1483.84,315.06 1484.9,315.49 1485.95,316.11 1487.01,316.39 1488.07,316.4 1489.13,317.27 1490.19,317.83 1491.25,317.98 1492.31,318.49 1493.37,319.22 1494.43,320.06 1495.48,319.36 1496.54,319.36 1497.6,319.48 1498.66,319.82 1499.72,319.45 1500.78,320.01 1501.84,319.62 1502.9,319.74 1503.96,319.86 1505.01,319.5 1506.07,319.72 1507.13,319.74 1508.19,319.48 1509.25,320.02 1510.31,320.11 1511.37,319.78 1512.43,319.4 1513.49,319.87 1514.54,319.68 1515.6,319.37 1516.66,319.41 1517.72,319.53 1518.78,319.6 1519.84,320.15 1520.9,319.37 1521.96,319.66 1523.01,319.87 1524.07,320.07 1525.13,319.66 1526.19,319.63 1527.25,319.69 1528.31,319.37 1529.37,319.34 1530.43,318.98 1531.49,319.28 1532.54,318.31 1533.6,318.73 1534.66,318.49 1535.72,318.01 1536.78,317.75 1537.84,317.78 1538.9,317.07 1539.96,317.48 1541.02,317.31 1542.07,316.55 1543.13,317.25 1544.19,317.05 1545.25,316.85 1546.31,316.63 1547.37,314.42 1548.43,314.89 1549.49,315.16 1550.55,315.66 1551.6,315.75 1552.66,315.53 1553.72,314.77 1554.78,314.94 1555.84,315.16 1556.9,315.54 1557.96,316.19 1559.02,316.44 1560.07,313.31 1561.13,314.13 1562.19,313.96 1563.25,315.17 1564.31,315.05 1565.37,315.59 1566.43,315.49 1567.49,315.42 1568.55,315.57 1569.6,316.26 1570.66,315.99 1571.72,316.21 1572.78,315.76 1573.84,315.96 1574.9,315.82 1575.96,316.48 1577.02,316.61 1578.08,315.93 1579.13,315.77 1580.19,316.41 1581.25,316 1582.31,316.66 1583.37,316.47 1584.43,315.76 1585.49,316.04 1586.55,315.72 1587.61,316.46 1588.66,316.44 1589.72,316.36 1590.78,316.43 1591.84,316.54 1592.9,315.64 1593.96,316.43 1595.02,315.57 1596.08,315.87 1597.13,315.57 1598.19,316.03 1599.25,315.78 1600.31,315.85 1601.37,315.64 1602.43,315.76 1603.49,316.06 1604.55,316.09 1605.61,316.12 1606.66,316.21 1607.72,316.04 1608.78,315.53 1609.84,316.05 1610.9,316.08 1611.96,313.35 1613.02,314.1 1614.08,314.74 1615.14,314.35 1616.19,314.94 1617.25,315 1618.31,315.44 1619.37,314.99 1620.43,314.97 1621.49,315.58 1622.55,313.16 1623.61,314.02 1624.67,311.4 1625.72,312.45 1626.78,313.09 1627.84,313.78 1628.9,314.09 1629.96,314.38 1631.02,314.86 1632.08,314.71 1633.14,314.66 1634.19,314.78 1635.25,314.56 1636.31,315.36 1637.37,314.72 1638.43,315.17 1639.49,314.78 1640.55,315.55 1641.61,314.98 1642.67,315.4 1643.72,315.34 1644.78,314.96 1645.84,315.18 1646.9,315.22 1647.96,315.45 1649.02,315.12 1650.08,315.44 1651.14,314.76 1652.2,315.3 1653.25,315.08 1654.31,314.71 1655.37,314.85 1656.43,314.78 1657.49,315.33 1658.55,314.55 1659.61,314.96 1660.67,315.43 1661.73,312 1662.78,313.02 1663.84,313.33 1664.9,313.84 1665.96,313.55 1667.02,313.89 1668.08,313.91 1669.14,314.36 1670.2,314.45 1671.25,313.08 1672.31,314.04 1673.37,313.7 1674.43,313.75 1675.49,313.9 1676.55,314.46 1677.61,314.7 1678.67,314.08 1679.73,314.38 1680.78,314.15 1681.84,314.57 1682.9,314.12 1683.96,315 1685.02,314.46 1686.08,314.32 1687.14,314.87 1688.2,314.32 1689.26,314.94 1690.31,314.2 1691.37,314.34 1692.43,314 1693.49,311.67 1694.55,310.12 1695.61,311.24 1696.67,311.88 1697.73,312.34 1698.79,312.85 1699.84,313.08 1700.9,313.08 1701.96,313.93 1703.02,313.86 1704.08,314.21 1705.14,313.58 1706.2,311.71 1707.26,312.58 1708.31,312.55 1709.37,312.94 1710.43,313.77 1711.49,313.11 1712.55,313.69 1713.61,313.58 1714.67,313.64 1715.73,313.38 1716.79,313.88 1717.84,314.14 1718.9,314.41 1719.96,314.21 1721.02,314.25 1722.08,313.8 1723.14,314.4 1724.2,313.68 1725.26,314.17 1726.32,314.27 1727.37,313.87 1728.43,313.72 1729.49,314.24 1730.55,313.91 1731.61,314.09 1732.67,313.72 1733.73,313.85 1734.79,313.61 1735.85,313.99 1736.9,314.19 1737.96,313.7 1739.02,311.55 1740.08,312.39 1741.14,312.72 1742.2,310.2 1743.26,310.83 1744.32,308.59 1745.37,310.06 1746.43,310.22 1747.49,311.34 1748.55,311.94 1749.61,309.99 1750.67,310.62 1751.73,311.59 1752.79,312.22 1753.85,311.98 1754.9,310.44 1755.96,311.13 1757.02,311.08 1758.08,311.5 1759.14,312.49 1760.2,312.88 1761.26,311.13 1762.32,311.51 1763.38,312.33 1764.43,312.4 1765.49,312.21 1766.55,312.73 1767.61,310.41 1768.67,310.86 1769.73,311.66 1770.79,312.01 1771.85,312.07 1772.91,312.87 1773.96,312.3 1775.02,312.39 1775.02,309.94" fill="none" stroke="#000" stroke-width="4.2" stroke-linejoin="round" />
<line x1="1775.23" y1="309.94" x2="1775.23" y2="131.78" stroke="#000" stroke-width="1.6" />
<polyline points="1775.55,131.78 1778.2,125.66 1781.38,118.86 1785.61,110.7 1789.85,103.9 1793.02,99.82 1796.2,96.42" fill="none" stroke="#000" stroke-width="5.5" stroke-linejoin="round" />
<path d="M1460.72 318.54h6M1463.72 318.54V322.66M1463.9 311.79h6M1466.9 311.79V319.21M1467.07 306.7h6M1470.07 306.7V314.11M1470.25 306.01h6M1473.25 306.01V313.42M1473.43 307.52h6M1476.43 307.52V314.94M1476.6 310.69h6M1479.6 310.69V314.81M1479.78 312.21h6M1482.78 312.21V316.33M1482.95 313.72h6M1485.95 313.72V317.84M1486.13 315.24h6M1489.13 315.24V319.36M1489.31 316.76h6M1492.31 316.76V320.88M1492.48 317.77h6M1495.48 317.77V321.89M1495.66 317.77h6M1498.66 317.77V321.89M1498.84 317.77h6M1501.84 317.77V321.89M1502.01 317.77h6M1505.01 317.77V321.89M1505.19 317.77h6M1508.19 317.77V321.89M1508.37 317.77h6M1511.37 317.77V321.89M1511.54 317.77h6M1514.54 317.77V321.89M1514.72 317.77h6M1517.72 317.77V321.89M1517.9 317.77h6M1520.9 317.77V321.89M1521.07 317.77h6M1524.07 317.77V321.89M1524.25 315.93h6M1527.25 315.93V323.34M1527.43 315.35h6M1530.43 315.35V322.77M1530.6 314.77h6M1533.6 314.77V322.19M1533.78 314.2h6M1536.78 314.2V321.61M1536.96 313.62h6M1539.96 313.62V321.04M1540.13 313.22h6M1543.13 313.22V320.63M1543.31 313.16h6M1546.31 313.16V320.58M1546.49 311.43h6M1549.49 311.43V318.84M1549.66 312.26h6M1552.66 312.26V319.68M1552.84 311.57h6M1555.84 311.57V318.99M1556.02 312.27h6M1559.02 312.27V319.69M1559.19 310.65h6M1562.19 310.65V318.06M1562.37 311.77h6M1565.37 311.77V319.19M1565.55 312.28h6M1568.55 312.28V319.69M1568.72 312.49h6M1571.72 312.49V319.9M1571.9 312.56h6M1574.9 312.56V319.97M1575.08 312.56h6M1578.08 312.56V319.98M1578.25 312.53h6M1581.25 312.53V319.95M1581.43 312.49h6M1584.43 312.49V319.91M1584.61 312.44h6M1587.61 312.44V319.86M1587.78 312.39h6M1590.78 312.39V319.81M1590.96 312.34h6M1593.96 312.34V319.75M1594.13 312.28h6M1597.13 312.28V319.7M1597.31 312.23h6M1600.31 312.23V319.64M1600.49 312.17h6M1603.49 312.17V319.59M1603.66 312.12h6M1606.66 312.12V319.53M1606.84 312.06h6M1609.84 312.06V319.48M1610.02 310.16h6M1613.02 310.16V317.57M1613.19 311.08h6M1616.19 311.08V318.5M1616.37 311.49h6M1619.37 311.49V318.9M1619.55 309.47h6M1622.55 309.47V316.88M1622.72 308.76h6M1625.72 308.76V316.17M1625.9 310.3h6M1628.9 310.3V317.72M1629.08 311h6M1632.08 311V318.42M1632.25 311.3h6M1635.25 311.3V318.72M1635.43 311.42h6M1638.43 311.42V318.84M1638.61 311.45h6M1641.61 311.45V318.87M1641.78 311.44h6M1644.78 311.44V318.86M1644.96 311.41h6M1647.96 311.41V318.83M1648.14 311.37h6M1651.14 311.37V318.79M1651.31 311.33h6M1654.31 311.33V318.75M1654.49 311.29h6M1657.49 311.29V318.7M1657.67 311.24h6M1660.67 311.24V318.65M1660.84 309.7h6M1663.84 309.7V317.11M1664.02 310.44h6M1667.02 310.44V317.85M1667.2 310.76h6M1670.2 310.76V318.18M1670.37 310.2h6M1673.37 310.2V317.61M1673.55 310.6h6M1676.55 310.6V318.01M1676.73 310.76h6M1679.73 310.76V318.18M1679.9 310.82h6M1682.9 310.82V318.23M1683.08 310.82h6M1686.08 310.82V318.23M1686.26 310.79h6M1689.26 310.79V318.21M1689.43 310.75h6M1692.43 310.75V318.17M1692.61 307.28h6M1695.61 307.28V314.69M1695.79 309.04h6M1698.79 309.04V316.46M1698.96 309.85h6M1701.96 309.85V317.27M1702.14 310.21h6M1705.14 310.21V317.63M1705.31 309.07h6M1708.31 309.07V316.49M1708.49 309.79h6M1711.49 309.79V317.21M1711.67 310.11h6M1714.67 310.11V317.52M1714.84 310.23h6M1717.84 310.23V317.65M1718.02 310.26h6M1721.02 310.26V317.68M1721.2 310.25h6M1724.2 310.25V317.67M1724.37 310.22h6M1727.37 310.22V317.64M1727.55 310.19h6M1730.55 310.19V317.6M1730.73 310.14h6M1733.73 310.14V317.56M1733.9 310.1h6M1736.9 310.1V317.51M1737.08 308.52h6M1740.08 308.52V315.94M1740.26 307.43h6M1743.26 307.43V314.85M1743.43 306.94h6M1746.43 306.94V314.36M1746.61 306.45h6M1749.61 306.45V313.87M1749.79 308.23h6M1752.79 308.23V315.64M1752.96 307.05h6M1755.96 307.05V314.47M1756.14 308.46h6M1759.14 308.46V315.88M1759.32 308.15h6M1762.32 308.15V315.56M1762.49 308.93h6M1765.49 308.93V316.35M1765.67 307.47h6M1768.67 307.47V314.88M1768.85 308.56h6M1771.85 308.56V315.97M1774.14 123.16h6M1777.14 123.16V131.32M1774.14 131.32h6M1776.26 118.75h6M1779.26 118.75V126.91M1776.26 126.91h6M1778.38 114.85h6M1781.38 114.85V123.01M1778.38 123.01h6M1780.49 111.24h6M1783.49 111.24V119.4M1780.49 119.4h6M1782.61 107.81h6M1785.61 107.81V115.97M1782.61 115.97h6M1784.73 104.52h6M1787.73 104.52V112.68M1784.73 112.68h6M1786.85 101.35h6M1789.85 101.35V109.51M1786.85 109.51h6M1788.96 98.27h6M1791.96 98.27V106.43M1788.96 106.43h6M1791.08 95.27h6M1794.08 95.27V103.43M1791.08 103.43h6M1793.2 92.34h6M1796.2 92.34V100.5M1793.2 100.5h6" stroke="#000" stroke-width="1.6" fill="none"/>
<path d="M1457.45,160 L1461.95,160 L1461.95,202.5 L1466.45,199.5 L1459.7,218.5 L1452.95,199.5 L1457.45,202.5 Z" fill="#3e4a5b"/>
<path d="M1763.75,109.4 L1768.25,109.4 L1768.25,151.9 L1772.75,148.9 L1766,167.9 L1759.25,148.9 L1763.75,151.9 Z" fill="#3e4a5b"/>
<text x="1639.1" y="101.9" font-size="26.5" textLength="133.8" lengthAdjust="spacingAndGlyphs"  >Ionomycin</text>
<text x="1432.2" y="356.1" font-size="28" fill="#c1121f" font-style="italic" textLength="81.8" lengthAdjust="spacingAndGlyphs"  >siMCU</text>
<line x1="107.9" y1="535.9" x2="107.9" y2="595.2" stroke="#111" stroke-width="1.2" />
<line x1="107.9" y1="619.8" x2="107.9" y2="855.8" stroke="#111" stroke-width="1.2" />
<line x1="98" y1="535.9" x2="107.9" y2="535.9" stroke="#111" stroke-width="1.2" />
<text x="86.6" y="544.1" font-size="24" text-anchor="end" textLength="25.36" lengthAdjust="spacingAndGlyphs"  >10</text>
<line x1="98" y1="586" x2="107.9" y2="586" stroke="#111" stroke-width="1.2" />
<text x="86.6" y="594.2" font-size="24" text-anchor="end" textLength="14.41" lengthAdjust="spacingAndGlyphs"  >5</text>
<line x1="100.2" y1="595.4" x2="115.9" y2="595.4" stroke="#111" stroke-width="1.2" />
<line x1="100.2" y1="619.8" x2="115.9" y2="619.8" stroke="#111" stroke-width="1.2" />
<line x1="98" y1="855.8" x2="107.9" y2="855.8" stroke="#111" stroke-width="1.2" />
<text x="86.6" y="864" font-size="24" text-anchor="end" textLength="14.41" lengthAdjust="spacingAndGlyphs"  >0</text>
<line x1="98" y1="796.8" x2="107.9" y2="796.8" stroke="#111" stroke-width="1.2" />
<text x="86.6" y="805" font-size="24" text-anchor="end" textLength="12.68" lengthAdjust="spacingAndGlyphs"  >1</text>
<line x1="98" y1="737.8" x2="107.9" y2="737.8" stroke="#111" stroke-width="1.2" />
<text x="86.6" y="746" font-size="24" text-anchor="end" textLength="14.41" lengthAdjust="spacingAndGlyphs"  >2</text>
<line x1="98" y1="678.8" x2="107.9" y2="678.8" stroke="#111" stroke-width="1.2" />
<text x="86.6" y="687" font-size="24" text-anchor="end" textLength="14.41" lengthAdjust="spacingAndGlyphs"  >3</text>
<text x="86.6" y="628" font-size="24" text-anchor="end" textLength="14.41" lengthAdjust="spacingAndGlyphs"  >4</text>
<line x1="98" y1="855.8" x2="327.4" y2="855.8" stroke="#111" stroke-width="1.2" />
<line x1="169.5" y1="855.8" x2="169.5" y2="865.7" stroke="#111" stroke-width="1.2" />
<line x1="263.9" y1="855.8" x2="263.9" y2="865.7" stroke="#111" stroke-width="1.2" />
<text x="141.5" y="899" font-size="28" fill="#0000ff" font-style="italic" textLength="55.3" lengthAdjust="spacingAndGlyphs"  >siNT</text>
<text x="221.1" y="899" font-size="28" fill="#c1121f" font-style="italic" textLength="81" lengthAdjust="spacingAndGlyphs"  >siMCU</text>
<text x="160.1" y="534.5" font-size="24" textLength="112.8" lengthAdjust="spacingAndGlyphs"  ><tspan font-style="italic">P</tspan> &lt; 0.0001</text>
<line x1="166.6" y1="542.9" x2="265.9" y2="542.9" stroke="#000" stroke-width="1.6" />
<text x="0" y="0" font-size="28" text-anchor="middle" textLength="125.7" lengthAdjust="spacingAndGlyphs" transform="translate(37.4,695.3) rotate(-90)" >Max cCa<tspan font-size="19" dy="-12">2+</tspan></text>
<circle cx="166" cy="805.06" r="6.6" fill="#0000ff" stroke="none" stroke-width="1"/>
<circle cx="172.5" cy="802.7" r="6.6" fill="#0000ff" stroke="none" stroke-width="1"/>
<circle cx="159.5" cy="800.93" r="6.6" fill="#0000ff" stroke="none" stroke-width="1"/>
<circle cx="179" cy="799.75" r="6.6" fill="#0000ff" stroke="none" stroke-width="1"/>
<circle cx="166" cy="797.92" r="6.6" fill="#0000ff" stroke="none" stroke-width="1"/>
<circle cx="153" cy="797.38" r="6.6" fill="#0000ff" stroke="none" stroke-width="1"/>
<circle cx="185.5" cy="797.32" r="6.6" fill="#0000ff" stroke="none" stroke-width="1"/>
<circle cx="146.5" cy="797.23" r="6.6" fill="#0000ff" stroke="none" stroke-width="1"/>
<circle cx="172.5" cy="796.75" r="6.6" fill="#0000ff" stroke="none" stroke-width="1"/>
<circle cx="192" cy="795.93" r="6.6" fill="#0000ff" stroke="none" stroke-width="1"/>
<circle cx="140" cy="795.77" r="6.6" fill="#0000ff" stroke="none" stroke-width="1"/>
<circle cx="198.5" cy="795.24" r="6.6" fill="#0000ff" stroke="none" stroke-width="1"/>
<circle cx="159.5" cy="795.06" r="6.6" fill="#0000ff" stroke="none" stroke-width="1"/>
<circle cx="133.5" cy="794.67" r="6.6" fill="#0000ff" stroke="none" stroke-width="1"/>
<circle cx="205" cy="794.29" r="6.6" fill="#0000ff" stroke="none" stroke-width="1"/>
<circle cx="127" cy="794.16" r="6.6" fill="#0000ff" stroke="none" stroke-width="1"/>
<circle cx="179" cy="793.87" r="6.6" fill="#0000ff" stroke="none" stroke-width="1"/>
<circle cx="135.29" cy="793.86" r="6.6" fill="#0000ff" stroke="none" stroke-width="1"/>
<circle cx="195.18" cy="793.82" r="6.6" fill="#0000ff" stroke="none" stroke-width="1"/>
<circle cx="188.16" cy="793.8" r="6.6" fill="#0000ff" stroke="none" stroke-width="1"/>
<circle cx="149.75" cy="792.16" r="6.6" fill="#0000ff" stroke="none" stroke-width="1"/>
<circle cx="166" cy="791.91" r="6.6" fill="#0000ff" stroke="none" stroke-width="1"/>
<circle cx="145.43" cy="791.46" r="6.6" fill="#0000ff" stroke="none" stroke-width="1"/>
<circle cx="165.62" cy="791.41" r="6.6" fill="#0000ff" stroke="none" stroke-width="1"/>
<circle cx="172.5" cy="789.96" r="6.6" fill="#0000ff" stroke="none" stroke-width="1"/>
<circle cx="156.25" cy="789.5" r="6.6" fill="#0000ff" stroke="none" stroke-width="1"/>
<circle cx="201.75" cy="789.4" r="6.6" fill="#0000ff" stroke="none" stroke-width="1"/>
<circle cx="140" cy="789.17" r="6.6" fill="#0000ff" stroke="none" stroke-width="1"/>
<circle cx="130.25" cy="789.04" r="6.6" fill="#0000ff" stroke="none" stroke-width="1"/>
<circle cx="182.25" cy="788.91" r="6.6" fill="#0000ff" stroke="none" stroke-width="1"/>
<circle cx="192" cy="788.21" r="6.6" fill="#0000ff" stroke="none" stroke-width="1"/>
<circle cx="161.76" cy="787.62" r="6.6" fill="#0000ff" stroke="none" stroke-width="1"/>
<circle cx="178.73" cy="787.08" r="6.6" fill="#0000ff" stroke="none" stroke-width="1"/>
<circle cx="190.25" cy="786.74" r="6.6" fill="#0000ff" stroke="none" stroke-width="1"/>
<circle cx="149.75" cy="785.77" r="6.6" fill="#0000ff" stroke="none" stroke-width="1"/>
<circle cx="169.25" cy="784.91" r="6.6" fill="#0000ff" stroke="none" stroke-width="1"/>
<circle cx="131.88" cy="784.62" r="6.6" fill="#0000ff" stroke="none" stroke-width="1"/>
<circle cx="198.5" cy="784.48" r="6.6" fill="#0000ff" stroke="none" stroke-width="1"/>
<circle cx="143.25" cy="784.17" r="6.6" fill="#0000ff" stroke="none" stroke-width="1"/>
<circle cx="205" cy="783.95" r="6.6" fill="#0000ff" stroke="none" stroke-width="1"/>
<circle cx="126.38" cy="783.93" r="6.6" fill="#0000ff" stroke="none" stroke-width="1"/>
<circle cx="194.2" cy="783.68" r="6.6" fill="#0000ff" stroke="none" stroke-width="1"/>
<circle cx="156.25" cy="783.51" r="6.6" fill="#0000ff" stroke="none" stroke-width="1"/>
<circle cx="185.5" cy="782.65" r="6.6" fill="#0000ff" stroke="none" stroke-width="1"/>
<circle cx="160.35" cy="782.49" r="6.6" fill="#0000ff" stroke="none" stroke-width="1"/>
<circle cx="188.03" cy="782.16" r="6.6" fill="#0000ff" stroke="none" stroke-width="1"/>
<circle cx="175.75" cy="781.56" r="6.6" fill="#0000ff" stroke="none" stroke-width="1"/>
<circle cx="136.75" cy="781.13" r="6.6" fill="#0000ff" stroke="none" stroke-width="1"/>
<circle cx="124.18" cy="780.83" r="6.6" fill="#0000ff" stroke="none" stroke-width="1"/>
<circle cx="161.41" cy="780.32" r="6.6" fill="#0000ff" stroke="none" stroke-width="1"/>
<circle cx="166" cy="776.15" r="6.6" fill="#0000ff" stroke="none" stroke-width="1"/>
<circle cx="166" cy="770.25" r="6.6" fill="#0000ff" stroke="none" stroke-width="1"/>
<circle cx="172.5" cy="767.3" r="6.6" fill="#0000ff" stroke="none" stroke-width="1"/>
<circle cx="166" cy="761.4" r="6.6" fill="#0000ff" stroke="none" stroke-width="1"/>
<circle cx="172.5" cy="758.45" r="6.6" fill="#0000ff" stroke="none" stroke-width="1"/>
<circle cx="166" cy="752.55" r="6.6" fill="#0000ff" stroke="none" stroke-width="1"/>
<circle cx="172.5" cy="749.6" r="6.6" fill="#0000ff" stroke="none" stroke-width="1"/>
<circle cx="166" cy="743.7" r="6.6" fill="#0000ff" stroke="none" stroke-width="1"/>
<circle cx="172.5" cy="740.75" r="6.6" fill="#0000ff" stroke="none" stroke-width="1"/>
<circle cx="166" cy="734.85" r="6.6" fill="#0000ff" stroke="none" stroke-width="1"/>
<circle cx="172.5" cy="731.9" r="6.6" fill="#0000ff" stroke="none" stroke-width="1"/>
<circle cx="166" cy="720.1" r="6.6" fill="#0000ff" stroke="none" stroke-width="1"/>
<circle cx="172.5" cy="717.15" r="6.6" fill="#0000ff" stroke="none" stroke-width="1"/>
<circle cx="166" cy="714.2" r="6.6" fill="#0000ff" stroke="none" stroke-width="1"/>
<circle cx="172.5" cy="711.25" r="6.6" fill="#0000ff" stroke="none" stroke-width="1"/>
<circle cx="166" cy="705.35" r="6.6" fill="#0000ff" stroke="none" stroke-width="1"/>
<circle cx="172.5" cy="702.4" r="6.6" fill="#0000ff" stroke="none" stroke-width="1"/>
<circle cx="166" cy="699.45" r="6.6" fill="#0000ff" stroke="none" stroke-width="1"/>
<circle cx="166" cy="687.65" r="6.6" fill="#0000ff" stroke="none" stroke-width="1"/>
<circle cx="172.5" cy="684.7" r="6.6" fill="#0000ff" stroke="none" stroke-width="1"/>
<circle cx="166" cy="667" r="6.6" fill="#0000ff" stroke="none" stroke-width="1"/>
<circle cx="166" cy="652.25" r="6.6" fill="#0000ff" stroke="none" stroke-width="1"/>
<circle cx="266.7" cy="804.47" r="6.6" fill="#f44444" stroke="none" stroke-width="1"/>
<circle cx="273.2" cy="804.47" r="6.6" fill="#f44444" stroke="none" stroke-width="1"/>
<circle cx="266.7" cy="789.56" r="6.6" fill="#f44444" stroke="none" stroke-width="1"/>
<circle cx="273.2" cy="789.17" r="6.6" fill="#f44444" stroke="none" stroke-width="1"/>
<circle cx="260.2" cy="789" r="6.6" fill="#f44444" stroke="none" stroke-width="1"/>
<circle cx="279.7" cy="788.53" r="6.6" fill="#f44444" stroke="none" stroke-width="1"/>
<circle cx="253.7" cy="787.57" r="6.6" fill="#f44444" stroke="none" stroke-width="1"/>
<circle cx="286.2" cy="787.44" r="6.6" fill="#f44444" stroke="none" stroke-width="1"/>
<circle cx="247.2" cy="787.44" r="6.6" fill="#f44444" stroke="none" stroke-width="1"/>
<circle cx="292.7" cy="787.3" r="6.6" fill="#f44444" stroke="none" stroke-width="1"/>
<circle cx="240.7" cy="787.06" r="6.6" fill="#f44444" stroke="none" stroke-width="1"/>
<circle cx="299.2" cy="786.91" r="6.6" fill="#f44444" stroke="none" stroke-width="1"/>
<circle cx="234.2" cy="786.82" r="6.6" fill="#f44444" stroke="none" stroke-width="1"/>
<circle cx="305.7" cy="786.79" r="6.6" fill="#f44444" stroke="none" stroke-width="1"/>
<circle cx="227.7" cy="786.47" r="6.6" fill="#f44444" stroke="none" stroke-width="1"/>
<circle cx="305.92" cy="786.29" r="6.6" fill="#f44444" stroke="none" stroke-width="1"/>
<circle cx="269.95" cy="785.48" r="6.6" fill="#f44444" stroke="none" stroke-width="1"/>
<circle cx="263.45" cy="785.41" r="6.6" fill="#f44444" stroke="none" stroke-width="1"/>
<circle cx="305.21" cy="785.31" r="6.6" fill="#f44444" stroke="none" stroke-width="1"/>
<circle cx="276.45" cy="784.84" r="6.6" fill="#f44444" stroke="none" stroke-width="1"/>
<circle cx="228.56" cy="784.48" r="6.6" fill="#f44444" stroke="none" stroke-width="1"/>
<circle cx="231" cy="784.27" r="6.6" fill="#f44444" stroke="none" stroke-width="1"/>
<circle cx="256.95" cy="783.86" r="6.6" fill="#f44444" stroke="none" stroke-width="1"/>
<circle cx="282.95" cy="783.85" r="6.6" fill="#f44444" stroke="none" stroke-width="1"/>
<circle cx="266.7" cy="777.6" r="6.6" fill="#f44444" stroke="none" stroke-width="1"/>
<circle cx="273.2" cy="775.04" r="6.6" fill="#f44444" stroke="none" stroke-width="1"/>
<circle cx="266.7" cy="770.51" r="6.6" fill="#f44444" stroke="none" stroke-width="1"/>
<circle cx="273.2" cy="769.79" r="6.6" fill="#f44444" stroke="none" stroke-width="1"/>
<circle cx="263.45" cy="766.99" r="6.6" fill="#f44444" stroke="none" stroke-width="1"/>
<circle cx="266.7" cy="761.25" r="6.6" fill="#f44444" stroke="none" stroke-width="1"/>
<circle cx="273.2" cy="758.53" r="6.6" fill="#f44444" stroke="none" stroke-width="1"/>
<circle cx="260.2" cy="758.42" r="6.6" fill="#f44444" stroke="none" stroke-width="1"/>
<circle cx="279.7" cy="756.61" r="6.6" fill="#f44444" stroke="none" stroke-width="1"/>
<circle cx="266.7" cy="754.43" r="6.6" fill="#f44444" stroke="none" stroke-width="1"/>
<circle cx="266.7" cy="744.29" r="6.6" fill="#f44444" stroke="none" stroke-width="1"/>
<circle cx="273.2" cy="741.53" r="6.6" fill="#f44444" stroke="none" stroke-width="1"/>
<circle cx="263.45" cy="740.74" r="6.6" fill="#f44444" stroke="none" stroke-width="1"/>
<circle cx="256.95" cy="739.81" r="6.6" fill="#f44444" stroke="none" stroke-width="1"/>
<circle cx="266.7" cy="736.19" r="6.6" fill="#f44444" stroke="none" stroke-width="1"/>
<circle cx="273.2" cy="735.68" r="6.6" fill="#f44444" stroke="none" stroke-width="1"/>
<circle cx="266.7" cy="729.33" r="6.6" fill="#f44444" stroke="none" stroke-width="1"/>
<circle cx="273.2" cy="726.84" r="6.6" fill="#f44444" stroke="none" stroke-width="1"/>
<circle cx="266.7" cy="721.07" r="6.6" fill="#f44444" stroke="none" stroke-width="1"/>
<circle cx="273.2" cy="719.15" r="6.6" fill="#f44444" stroke="none" stroke-width="1"/>
<circle cx="263.45" cy="717.03" r="6.6" fill="#f44444" stroke="none" stroke-width="1"/>
<circle cx="269.95" cy="714.94" r="6.6" fill="#f44444" stroke="none" stroke-width="1"/>
<circle cx="266.7" cy="710.31" r="6.6" fill="#f44444" stroke="none" stroke-width="1"/>
<circle cx="273.2" cy="709.05" r="6.6" fill="#f44444" stroke="none" stroke-width="1"/>
<circle cx="260.2" cy="707.9" r="6.6" fill="#f44444" stroke="none" stroke-width="1"/>
<circle cx="279.7" cy="706.15" r="6.6" fill="#f44444" stroke="none" stroke-width="1"/>
<circle cx="266.7" cy="704.69" r="6.6" fill="#f44444" stroke="none" stroke-width="1"/>
<circle cx="253.7" cy="704.59" r="6.6" fill="#f44444" stroke="none" stroke-width="1"/>
<circle cx="273.2" cy="703.24" r="6.6" fill="#f44444" stroke="none" stroke-width="1"/>
<circle cx="263.45" cy="700.75" r="6.6" fill="#f44444" stroke="none" stroke-width="1"/>
<circle cx="256.95" cy="700.32" r="6.6" fill="#f44444" stroke="none" stroke-width="1"/>
<circle cx="269.95" cy="699.36" r="6.6" fill="#f44444" stroke="none" stroke-width="1"/>
<circle cx="276.45" cy="699.27" r="6.6" fill="#f44444" stroke="none" stroke-width="1"/>
<circle cx="282.95" cy="698.2" r="6.6" fill="#f44444" stroke="none" stroke-width="1"/>
<circle cx="266.7" cy="690.6" r="6.6" fill="#f44444" stroke="none" stroke-width="1"/>
<circle cx="273.2" cy="687.65" r="6.6" fill="#f44444" stroke="none" stroke-width="1"/>
<circle cx="266.7" cy="681.75" r="6.6" fill="#f44444" stroke="none" stroke-width="1"/>
<circle cx="266.7" cy="672.9" r="6.6" fill="#f44444" stroke="none" stroke-width="1"/>
<circle cx="266.7" cy="664.05" r="6.6" fill="#f44444" stroke="none" stroke-width="1"/>
<circle cx="266.7" cy="655.2" r="6.6" fill="#f44444" stroke="none" stroke-width="1"/>
<circle cx="273.2" cy="652.25" r="6.6" fill="#f44444" stroke="none" stroke-width="1"/>
<circle cx="266.7" cy="643.4" r="6.6" fill="#f44444" stroke="none" stroke-width="1"/>
<circle cx="266.7" cy="628.65" r="6.6" fill="#f44444" stroke="none" stroke-width="1"/>
<circle cx="266.7" cy="593.01" r="6.6" fill="#f44444" stroke="none" stroke-width="1"/>
<circle cx="269.95" cy="589.01" r="6.6" fill="#f44444" stroke="none" stroke-width="1"/>
<circle cx="266.7" cy="584" r="6.6" fill="#f44444" stroke="none" stroke-width="1"/>
<circle cx="266.7" cy="578.99" r="6.6" fill="#f44444" stroke="none" stroke-width="1"/>
<circle cx="266.7" cy="565.96" r="6.6" fill="#f44444" stroke="none" stroke-width="1"/>
<circle cx="266.7" cy="553.94" r="6.6" fill="#f44444" stroke="none" stroke-width="1"/>
<rect x="125.1" y="779.69" width="81.7" height="12.39" fill="none" stroke="#000" stroke-width="1.5"/>
<line x1="125.1" y1="790.31" x2="206.8" y2="790.31" stroke="#000" stroke-width="1.8" />
<line x1="165.9" y1="652.25" x2="165.9" y2="779.69" stroke="#000" stroke-width="1.5" />
<line x1="165.9" y1="792.08" x2="165.9" y2="804.47" stroke="#000" stroke-width="1.5" />
<line x1="144.75" y1="652.25" x2="187.05" y2="652.25" stroke="#000" stroke-width="1.5" />
<line x1="144.75" y1="804.47" x2="187.05" y2="804.47" stroke="#000" stroke-width="1.5" />
<rect x="226.5" y="700.63" width="81.5" height="84.37" fill="none" stroke="#000" stroke-width="1.5"/>
<line x1="226.5" y1="736.03" x2="308" y2="736.03" stroke="#000" stroke-width="1.8" />
<line x1="266.7" y1="554.2" x2="266.7" y2="700.63" stroke="#000" stroke-width="1.5" />
<line x1="266.7" y1="785" x2="266.7" y2="804.47" stroke="#000" stroke-width="1.5" />
<line x1="245.55" y1="554.2" x2="287.85" y2="554.2" stroke="#000" stroke-width="1.5" />
<line x1="245.55" y1="804.47" x2="287.85" y2="804.47" stroke="#000" stroke-width="1.5" />
<text x="439.9" y="536.2" font-size="27.5" textLength="530.8" lengthAdjust="spacingAndGlyphs"  >Spatiotemporal cytosolic Ca<tspan font-size="19" dy="-11">2+</tspan><tspan dy="11"> oscillations</tspan></text>
<clipPath id="cl"><rect x="391.6" y="550" width="306.6" height="306.6"/></clipPath>
<rect x="391.6" y="550" width="306.6" height="306.6" fill="#000" stroke="none" stroke-width="1.2"/>
<g clip-path="url(#cl)" style="isolation:isolate">
<circle cx="432.61" cy="589.94" r="3.27" fill="#07882c" style="mix-blend-mode:screen"/>
<circle cx="446.4" cy="609.54" r="2.18" fill="#a8641a" style="mix-blend-mode:screen"/>
<circle cx="521.51" cy="606.27" r="1.45" fill="#a02a10" style="mix-blend-mode:screen"/>
<circle cx="545.09" cy="579.78" r="1.45" fill="#07882c" style="mix-blend-mode:screen"/>
<circle cx="502.28" cy="577.97" r="0.8" fill="#07882c" style="mix-blend-mode:screen"/>
<circle cx="528.04" cy="640.38" r="1.45" fill="#a8641a" style="mix-blend-mode:screen"/>
<circle cx="652.86" cy="629.13" r="0.8" fill="#a02a10" style="mix-blend-mode:screen"/>
<circle cx="593.35" cy="660.7" r="2.54" fill="#7a9a12" style="mix-blend-mode:screen"/>
<circle cx="568.68" cy="659.61" r="1.45" fill="#07882c" style="mix-blend-mode:screen"/>
<circle cx="485.22" cy="676.66" r="1.45" fill="#7a9a12" style="mix-blend-mode:screen"/>
<circle cx="552.35" cy="680.65" r="2.54" fill="#03806a" style="mix-blend-mode:screen"/>
<circle cx="581.38" cy="686.1" r="3.99" fill="#03806a" style="mix-blend-mode:screen"/>
<circle cx="597.71" cy="682.47" r="0.8" fill="#1060b0" style="mix-blend-mode:screen"/>
<circle cx="603.88" cy="674.12" r="0.8" fill="#7a9a12" style="mix-blend-mode:screen"/>
<circle cx="678.62" cy="649.45" r="0.8" fill="#1060b0" style="mix-blend-mode:screen"/>
<circle cx="398.14" cy="694.08" r="4.72" fill="#07882c" style="mix-blend-mode:screen"/>
<circle cx="415.2" cy="719.84" r="2.18" fill="#168a0a" style="mix-blend-mode:screen"/>
<circle cx="467.08" cy="716.94" r="1.09" fill="#07882c" style="mix-blend-mode:screen"/>
<circle cx="493.21" cy="711.13" r="4.72" fill="#07882c" style="mix-blend-mode:screen"/>
<circle cx="517.88" cy="723.83" r="3.27" fill="#07882c" style="mix-blend-mode:screen"/>
<circle cx="562.87" cy="712.58" r="2.18" fill="#03806a" style="mix-blend-mode:screen"/>
<circle cx="609.32" cy="709.68" r="0.8" fill="#07882c" style="mix-blend-mode:screen"/>
<circle cx="483.41" cy="733.99" r="7.26" fill="#03806a" style="mix-blend-mode:screen"/>
<circle cx="526.59" cy="744.88" r="1.45" fill="#008a7c" style="mix-blend-mode:screen"/>
<circle cx="592.63" cy="738.71" r="18.87" fill="#03806a" style="mix-blend-mode:screen"/>
<circle cx="574.12" cy="768.46" r="0.8" fill="#07882c" style="mix-blend-mode:screen"/>
<circle cx="494.66" cy="779.71" r="4.72" fill="#07882c" style="mix-blend-mode:screen"/>
<circle cx="565.05" cy="787.69" r="1.45" fill="#047a8c" style="mix-blend-mode:screen"/>
<circle cx="584.64" cy="787.69" r="1.45" fill="#7a9a12" style="mix-blend-mode:screen"/>
<circle cx="552.35" cy="795.67" r="0.8" fill="#07882c" style="mix-blend-mode:screen"/>
<circle cx="679.71" cy="785.52" r="19.96" fill="#07882c" style="mix-blend-mode:screen"/>
<circle cx="674.27" cy="800.03" r="2.18" fill="#30d070" style="mix-blend-mode:screen"/>
<circle cx="402.5" cy="818.53" r="0.8" fill="#03806a" style="mix-blend-mode:screen"/>
<circle cx="518.97" cy="822.16" r="2.18" fill="#07882c" style="mix-blend-mode:screen"/>
<circle cx="543.28" cy="829.06" r="2.18" fill="#7a9a12" style="mix-blend-mode:screen"/>
<circle cx="531.67" cy="853.73" r="2.18" fill="#7a9a12" style="mix-blend-mode:screen"/>
</g>
<text x="625.8" y="811" font-size="8.2" fill="#d01010" textLength="66.4" lengthAdjust="spacingAndGlyphs"  >Amount of peaks</text>
<line x1="649.1" y1="817.3" x2="692.8" y2="817.3" stroke="#d01010" stroke-width="0.8" />
<line x1="649.1" y1="817.3" x2="649.1" y2="815.3" stroke="#d01010" stroke-width="0.8" />
<line x1="692.8" y1="817.3" x2="692.8" y2="815.3" stroke="#d01010" stroke-width="0.8" />
<line x1="642.4" y1="816.3" x2="642.4" y2="815.1" stroke="#d01010" stroke-width="1.2" />
<text x="642.8" y="824.7" font-size="8.2" text-anchor="middle" fill="#d01010"  >1</text>
<text x="671.1" y="824.7" font-size="8.2" text-anchor="middle" fill="#d01010"  >26</text>
<text x="633" y="831.6" font-size="8.2" fill="#d01010" textLength="57.4" lengthAdjust="spacingAndGlyphs"  >Peak frame no.</text>
<rect x="615.3" y="835.5" width="76.9" height="6.3" fill="url(#rainbow)"/>
<text x="616.8" y="849.6" font-size="8.2" fill="#d01010"  >0</text>
<text x="692.2" y="849.6" font-size="8.2" text-anchor="end" fill="#d01010"  >650</text>
<clipPath id="cr"><rect x="712.7" y="550" width="306.6" height="306.6"/></clipPath>
<rect x="712.7" y="550" width="306.6" height="306.6" fill="#000" stroke="none" stroke-width="1.2"/>
<g clip-path="url(#cr)" style="isolation:isolate">
<circle cx="732.69" cy="554.38" r="21.04" fill="#07882c" style="mix-blend-mode:screen"/>
<circle cx="764.62" cy="551.84" r="1.45" fill="#03806a" style="mix-blend-mode:screen"/>
<circle cx="799.09" cy="568.17" r="2.54" fill="#07882c" style="mix-blend-mode:screen"/>
<circle cx="812.51" cy="575.07" r="0.8" fill="#7a9a12" style="mix-blend-mode:screen"/>
<circle cx="837.91" cy="565.99" r="0.8" fill="#07882c" style="mix-blend-mode:screen"/>
<circle cx="865.49" cy="601.55" r="19.96" fill="#067f3a" style="mix-blend-mode:screen"/>
<circle cx="931.52" cy="551.84" r="1.45" fill="#7a9a12" style="mix-blend-mode:screen"/>
<circle cx="946.04" cy="554.38" r="1.81" fill="#07882c" style="mix-blend-mode:screen"/>
<circle cx="996.84" cy="572.53" r="1.81" fill="#7a9a12" style="mix-blend-mode:screen"/>
<circle cx="995.75" cy="590.67" r="1.45" fill="#07882c" style="mix-blend-mode:screen"/>
<circle cx="971.44" cy="597.92" r="1.45" fill="#07882c" style="mix-blend-mode:screen"/>
<circle cx="1013.16" cy="600.46" r="2.18" fill="#03806a" style="mix-blend-mode:screen"/>
<circle cx="898.87" cy="581.96" r="1.09" fill="#03806a" style="mix-blend-mode:screen"/>
<circle cx="753" cy="646.18" r="3.99" fill="#07882c" style="mix-blend-mode:screen"/>
<circle cx="720.35" cy="651.63" r="4.35" fill="#7a9a12" style="mix-blend-mode:screen"/>
<circle cx="721.8" cy="669.77" r="11.97" fill="#07882c" style="mix-blend-mode:screen"/>
<circle cx="840.09" cy="640.01" r="2.18" fill="#07882c" style="mix-blend-mode:screen"/>
<circle cx="947.85" cy="643.64" r="0.8" fill="#a8641a" style="mix-blend-mode:screen"/>
<circle cx="1013.89" cy="634.57" r="2.9" fill="#03806a" style="mix-blend-mode:screen"/>
<circle cx="1017.88" cy="654.53" r="1.09" fill="#7a9a12" style="mix-blend-mode:screen"/>
<circle cx="754.82" cy="673.03" r="2.54" fill="#07882c" style="mix-blend-mode:screen"/>
<circle cx="734.5" cy="681.02" r="4.72" fill="#07882c" style="mix-blend-mode:screen"/>
<circle cx="881.45" cy="657.07" r="2.18" fill="#03806a" style="mix-blend-mode:screen"/>
<circle cx="911.57" cy="666.14" r="0.8" fill="#7a9a12" style="mix-blend-mode:screen"/>
<circle cx="974.34" cy="684.64" r="2.18" fill="#7a9a12" style="mix-blend-mode:screen"/>
<circle cx="1013.16" cy="678.11" r="6.17" fill="#03806a" style="mix-blend-mode:screen"/>
<circle cx="747.56" cy="696.98" r="1.81" fill="#07882c" style="mix-blend-mode:screen"/>
<circle cx="713.82" cy="706.78" r="1.09" fill="#03806a" style="mix-blend-mode:screen"/>
<circle cx="843.35" cy="696.98" r="6.17" fill="#03806a" style="mix-blend-mode:screen"/>
<circle cx="860.41" cy="702.06" r="10.16" fill="#008a7c" style="mix-blend-mode:screen"/>
<circle cx="811.06" cy="719.48" r="18.14" fill="#047a8c" style="mix-blend-mode:screen"/>
<circle cx="832.83" cy="712.22" r="16.33" fill="#07882c" style="mix-blend-mode:screen"/>
<circle cx="795.46" cy="723.11" r="3.63" fill="#30d070" style="mix-blend-mode:screen"/>
<circle cx="895.24" cy="719.48" r="14.88" fill="#168a0a" style="mix-blend-mode:screen"/>
<circle cx="934.06" cy="722.74" r="11.97" fill="#168a0a" style="mix-blend-mode:screen"/>
<circle cx="949.67" cy="708.59" r="3.99" fill="#03806a" style="mix-blend-mode:screen"/>
<circle cx="974.7" cy="712.58" r="2.9" fill="#07882c" style="mix-blend-mode:screen"/>
<circle cx="998.65" cy="730.36" r="1.45" fill="#07882c" style="mix-blend-mode:screen"/>
<circle cx="1011.35" cy="725.65" r="1.09" fill="#1060b0" style="mix-blend-mode:screen"/>
<circle cx="887.26" cy="751.41" r="11.25" fill="#03806a" style="mix-blend-mode:screen"/>
<circle cx="962.73" cy="758.66" r="17.42" fill="#07882c" style="mix-blend-mode:screen"/>
<circle cx="785.3" cy="773.54" r="17.78" fill="#07882c" style="mix-blend-mode:screen"/>
<circle cx="733.05" cy="789.51" r="13.06" fill="#07882c" style="mix-blend-mode:screen"/>
<circle cx="836.1" cy="801.84" r="18.87" fill="#07882c" style="mix-blend-mode:screen"/>
<circle cx="866.21" cy="775.72" r="3.27" fill="#047a8c" style="mix-blend-mode:screen"/>
<circle cx="805.62" cy="766.65" r="1.09" fill="#03806a" style="mix-blend-mode:screen"/>
<circle cx="750.1" cy="766.65" r="0.8" fill="#07882c" style="mix-blend-mode:screen"/>
<circle cx="995.02" cy="769.91" r="1.45" fill="#07882c" style="mix-blend-mode:screen"/>
<circle cx="1011.35" cy="796.76" r="14.51" fill="#07882c" style="mix-blend-mode:screen"/>
<circle cx="895.24" cy="783.34" r="0.8" fill="#7a9a12" style="mix-blend-mode:screen"/>
<circle cx="880.73" cy="780.44" r="0.8" fill="#7a9a12" style="mix-blend-mode:screen"/>
<circle cx="858.96" cy="811.64" r="1.09" fill="#07882c" style="mix-blend-mode:screen"/>
<circle cx="878.19" cy="819.99" r="1.81" fill="#07882c" style="mix-blend-mode:screen"/>
<circle cx="857.5" cy="832.32" r="5.44" fill="#03806a" style="mix-blend-mode:screen"/>
<circle cx="833.56" cy="829.42" r="2.54" fill="#7a9a12" style="mix-blend-mode:screen"/>
<circle cx="893.43" cy="840.3" r="16.69" fill="#07882c" style="mix-blend-mode:screen"/>
<circle cx="718.17" cy="858.08" r="17.05" fill="#047a8c" style="mix-blend-mode:screen"/>
<circle cx="744.66" cy="850.1" r="0.8" fill="#07882c" style="mix-blend-mode:screen"/>
<circle cx="1018.61" cy="827.61" r="1.45" fill="#7a9a12" style="mix-blend-mode:screen"/>
<circle cx="715.27" cy="750.68" r="1.81" fill="#7a9a12" style="mix-blend-mode:screen"/>
</g>
<text x="946.9" y="811" font-size="8.2" fill="#d01010" textLength="66.4" lengthAdjust="spacingAndGlyphs"  >Amount of peaks</text>
<line x1="970.2" y1="817.3" x2="1013.9" y2="817.3" stroke="#d01010" stroke-width="0.8" />
<line x1="970.2" y1="817.3" x2="970.2" y2="815.3" stroke="#d01010" stroke-width="0.8" />
<line x1="1013.9" y1="817.3" x2="1013.9" y2="815.3" stroke="#d01010" stroke-width="0.8" />
<line x1="963.5" y1="816.3" x2="963.5" y2="815.1" stroke="#d01010" stroke-width="1.2" />
<text x="963.9" y="824.7" font-size="8.2" text-anchor="middle" fill="#d01010"  >1</text>
<text x="992.2" y="824.7" font-size="8.2" text-anchor="middle" fill="#d01010"  >69</text>
<text x="954.1" y="831.6" font-size="8.2" fill="#d01010" textLength="57.4" lengthAdjust="spacingAndGlyphs"  >Peak frame no.</text>
<rect x="936.4" y="835.5" width="76.9" height="6.3" fill="url(#rainbow)"/>
<text x="937.9" y="849.6" font-size="8.2" fill="#d01010"  >0</text>
<text x="1013.3" y="849.6" font-size="8.2" text-anchor="end" fill="#d01010"  >650</text>
<text x="397" y="581.6" font-size="28" fill="#0000ff" font-style="italic" textLength="53.8" lengthAdjust="spacingAndGlyphs"  >siNT</text>
<text x="715.6" y="581.6" font-size="28" fill="#c1121f" font-style="italic" textLength="79.9" lengthAdjust="spacingAndGlyphs"  >siMCU</text>
<line x1="1157" y1="556.25" x2="1157" y2="848.5" stroke="#111" stroke-width="1.2" />
<line x1="1147" y1="848.5" x2="1157" y2="848.5" stroke="#111" stroke-width="1.2" />
<text x="1136.8" y="856.2" font-size="24" text-anchor="end" textLength="14.41" lengthAdjust="spacingAndGlyphs"  >0</text>
<line x1="1147" y1="790.05" x2="1157" y2="790.05" stroke="#111" stroke-width="1.2" />
<text x="1136.8" y="797.75" font-size="24" text-anchor="end" textLength="14.41" lengthAdjust="spacingAndGlyphs"  >5</text>
<line x1="1147" y1="731.6" x2="1157" y2="731.6" stroke="#111" stroke-width="1.2" />
<text x="1136.8" y="739.3" font-size="24" text-anchor="end" textLength="25.36" lengthAdjust="spacingAndGlyphs"  >10</text>
<line x1="1147" y1="673.15" x2="1157" y2="673.15" stroke="#111" stroke-width="1.2" />
<text x="1136.8" y="680.85" font-size="24" text-anchor="end" textLength="25.36" lengthAdjust="spacingAndGlyphs"  >15</text>
<line x1="1147" y1="614.7" x2="1157" y2="614.7" stroke="#111" stroke-width="1.2" />
<text x="1136.8" y="622.4" font-size="24" text-anchor="end" textLength="28.83" lengthAdjust="spacingAndGlyphs"  >20</text>
<line x1="1147" y1="556.25" x2="1157" y2="556.25" stroke="#111" stroke-width="1.2" />
<text x="1136.8" y="563.95" font-size="24" text-anchor="end" textLength="28.83" lengthAdjust="spacingAndGlyphs"  >25</text>
<line x1="1147" y1="848.5" x2="1349.4" y2="848.5" stroke="#111" stroke-width="1.2" />
<line x1="1211.2" y1="848.5" x2="1211.2" y2="858.4" stroke="#111" stroke-width="1.2" />
<line x1="1293.5" y1="848.5" x2="1293.5" y2="858.4" stroke="#111" stroke-width="1.2" />
<text x="1183.3" y="891.7" font-size="28" fill="#0000ff" font-style="italic" textLength="54.3" lengthAdjust="spacingAndGlyphs"  >siNT</text>
<text x="1254" y="891.7" font-size="28" fill="#c1121f" font-style="italic" textLength="79.6" lengthAdjust="spacingAndGlyphs"  >siMCU</text>
<text x="1198.6" y="580.6" font-size="24" textLength="112.8" lengthAdjust="spacingAndGlyphs"  ><tspan font-style="italic">P</tspan> &lt; 0.0001</text>
<line x1="1206.9" y1="587.6" x2="1296.1" y2="587.6" stroke="#000" stroke-width="1.6" />
<text x="0" y="0" font-size="28" text-anchor="middle" textLength="332.5" lengthAdjust="spacingAndGlyphs" transform="translate(1083,702.1) rotate(-90)" >No. of oscillations per cell</text>
<circle cx="1178" cy="836.81" r="4.9" fill="#0000ff" stroke="none" stroke-width="1"/>
<circle cx="1183.18" cy="836.81" r="4.9" fill="#0000ff" stroke="none" stroke-width="1"/>
<circle cx="1188.36" cy="836.81" r="4.9" fill="#0000ff" stroke="none" stroke-width="1"/>
<circle cx="1193.55" cy="836.81" r="4.9" fill="#0000ff" stroke="none" stroke-width="1"/>
<circle cx="1198.73" cy="836.81" r="4.9" fill="#0000ff" stroke="none" stroke-width="1"/>
<circle cx="1203.91" cy="836.81" r="4.9" fill="#0000ff" stroke="none" stroke-width="1"/>
<circle cx="1209.09" cy="836.81" r="4.9" fill="#0000ff" stroke="none" stroke-width="1"/>
<circle cx="1214.27" cy="836.81" r="4.9" fill="#0000ff" stroke="none" stroke-width="1"/>
<circle cx="1219.45" cy="836.81" r="4.9" fill="#0000ff" stroke="none" stroke-width="1"/>
<circle cx="1224.64" cy="836.81" r="4.9" fill="#0000ff" stroke="none" stroke-width="1"/>
<circle cx="1229.82" cy="836.81" r="4.9" fill="#0000ff" stroke="none" stroke-width="1"/>
<circle cx="1235" cy="836.81" r="4.9" fill="#0000ff" stroke="none" stroke-width="1"/>
<circle cx="1172.5" cy="825.12" r="4.9" fill="#0000ff" stroke="none" stroke-width="1"/>
<circle cx="1177.35" cy="825.12" r="4.9" fill="#0000ff" stroke="none" stroke-width="1"/>
<circle cx="1182.2" cy="825.12" r="4.9" fill="#0000ff" stroke="none" stroke-width="1"/>
<circle cx="1187.05" cy="825.12" r="4.9" fill="#0000ff" stroke="none" stroke-width="1"/>
<circle cx="1191.9" cy="825.12" r="4.9" fill="#0000ff" stroke="none" stroke-width="1"/>
<circle cx="1196.75" cy="825.12" r="4.9" fill="#0000ff" stroke="none" stroke-width="1"/>
<circle cx="1201.6" cy="825.12" r="4.9" fill="#0000ff" stroke="none" stroke-width="1"/>
<circle cx="1206.45" cy="825.12" r="4.9" fill="#0000ff" stroke="none" stroke-width="1"/>
<circle cx="1211.3" cy="825.12" r="4.9" fill="#0000ff" stroke="none" stroke-width="1"/>
<circle cx="1216.15" cy="825.12" r="4.9" fill="#0000ff" stroke="none" stroke-width="1"/>
<circle cx="1221" cy="825.12" r="4.9" fill="#0000ff" stroke="none" stroke-width="1"/>
<circle cx="1225.85" cy="825.12" r="4.9" fill="#0000ff" stroke="none" stroke-width="1"/>
<circle cx="1230.7" cy="825.12" r="4.9" fill="#0000ff" stroke="none" stroke-width="1"/>
<circle cx="1235.55" cy="825.12" r="4.9" fill="#0000ff" stroke="none" stroke-width="1"/>
<circle cx="1240.4" cy="825.12" r="4.9" fill="#0000ff" stroke="none" stroke-width="1"/>
<circle cx="1172.5" cy="813.43" r="4.9" fill="#0000ff" stroke="none" stroke-width="1"/>
<circle cx="1177.35" cy="813.43" r="4.9" fill="#0000ff" stroke="none" stroke-width="1"/>
<circle cx="1182.2" cy="813.43" r="4.9" fill="#0000ff" stroke="none" stroke-width="1"/>
<circle cx="1187.05" cy="813.43" r="4.9" fill="#0000ff" stroke="none" stroke-width="1"/>
<circle cx="1191.9" cy="813.43" r="4.9" fill="#0000ff" stroke="none" stroke-width="1"/>
<circle cx="1196.75" cy="813.43" r="4.9" fill="#0000ff" stroke="none" stroke-width="1"/>
<circle cx="1201.6" cy="813.43" r="4.9" fill="#0000ff" stroke="none" stroke-width="1"/>
<circle cx="1206.45" cy="813.43" r="4.9" fill="#0000ff" stroke="none" stroke-width="1"/>
<circle cx="1211.3" cy="813.43" r="4.9" fill="#0000ff" stroke="none" stroke-width="1"/>
<circle cx="1216.15" cy="813.43" r="4.9" fill="#0000ff" stroke="none" stroke-width="1"/>
<circle cx="1221" cy="813.43" r="4.9" fill="#0000ff" stroke="none" stroke-width="1"/>
<circle cx="1225.85" cy="813.43" r="4.9" fill="#0000ff" stroke="none" stroke-width="1"/>
<circle cx="1230.7" cy="813.43" r="4.9" fill="#0000ff" stroke="none" stroke-width="1"/>
<circle cx="1235.55" cy="813.43" r="4.9" fill="#0000ff" stroke="none" stroke-width="1"/>
<circle cx="1240.4" cy="813.43" r="4.9" fill="#0000ff" stroke="none" stroke-width="1"/>
<circle cx="1191" cy="801.74" r="4.9" fill="#0000ff" stroke="none" stroke-width="1"/>
<circle cx="1196.13" cy="801.74" r="4.9" fill="#0000ff" stroke="none" stroke-width="1"/>
<circle cx="1201.27" cy="801.74" r="4.9" fill="#0000ff" stroke="none" stroke-width="1"/>
<circle cx="1206.4" cy="801.74" r="4.9" fill="#0000ff" stroke="none" stroke-width="1"/>
<circle cx="1211.53" cy="801.74" r="4.9" fill="#0000ff" stroke="none" stroke-width="1"/>
<circle cx="1216.67" cy="801.74" r="4.9" fill="#0000ff" stroke="none" stroke-width="1"/>
<circle cx="1221.8" cy="801.74" r="4.9" fill="#0000ff" stroke="none" stroke-width="1"/>
<circle cx="1206.8" cy="790.05" r="4.9" fill="#0000ff" stroke="none" stroke-width="1"/>
<circle cx="1206.8" cy="790.05" r="4.9" fill="#0000ff" stroke="none" stroke-width="1"/>
<circle cx="1201" cy="778.36" r="4.9" fill="#0000ff" stroke="none" stroke-width="1"/>
<circle cx="1206.5" cy="778.36" r="4.9" fill="#0000ff" stroke="none" stroke-width="1"/>
<circle cx="1212" cy="778.36" r="4.9" fill="#0000ff" stroke="none" stroke-width="1"/>
<circle cx="1206.8" cy="766.67" r="4.9" fill="#0000ff" stroke="none" stroke-width="1"/>
<circle cx="1206.8" cy="766.67" r="4.9" fill="#0000ff" stroke="none" stroke-width="1"/>
<circle cx="1265.39" cy="836.81" r="4.9" fill="#f44444" stroke="none" stroke-width="1"/>
<circle cx="1265.39" cy="836.81" r="4.9" fill="#f44444" stroke="none" stroke-width="1"/>
<circle cx="1278.92" cy="836.81" r="4.9" fill="#f44444" stroke="none" stroke-width="1"/>
<circle cx="1284.77" cy="836.81" r="4.9" fill="#f44444" stroke="none" stroke-width="1"/>
<circle cx="1290.63" cy="836.81" r="4.9" fill="#f44444" stroke="none" stroke-width="1"/>
<circle cx="1296.48" cy="836.81" r="4.9" fill="#f44444" stroke="none" stroke-width="1"/>
<circle cx="1310.21" cy="836.81" r="4.9" fill="#f44444" stroke="none" stroke-width="1"/>
<circle cx="1315.39" cy="836.81" r="4.9" fill="#f44444" stroke="none" stroke-width="1"/>
<circle cx="1320.58" cy="836.81" r="4.9" fill="#f44444" stroke="none" stroke-width="1"/>
<circle cx="1325.76" cy="836.81" r="4.9" fill="#f44444" stroke="none" stroke-width="1"/>
<circle cx="1260.75" cy="825.12" r="4.9" fill="#f44444" stroke="none" stroke-width="1"/>
<circle cx="1266.42" cy="825.12" r="4.9" fill="#f44444" stroke="none" stroke-width="1"/>
<circle cx="1272.09" cy="825.12" r="4.9" fill="#f44444" stroke="none" stroke-width="1"/>
<circle cx="1277.76" cy="825.12" r="4.9" fill="#f44444" stroke="none" stroke-width="1"/>
<circle cx="1283.43" cy="825.12" r="4.9" fill="#f44444" stroke="none" stroke-width="1"/>
<circle cx="1289.1" cy="825.12" r="4.9" fill="#f44444" stroke="none" stroke-width="1"/>
<circle cx="1294.77" cy="825.12" r="4.9" fill="#f44444" stroke="none" stroke-width="1"/>
<circle cx="1300.44" cy="825.12" r="4.9" fill="#f44444" stroke="none" stroke-width="1"/>
<circle cx="1306.11" cy="825.12" r="4.9" fill="#f44444" stroke="none" stroke-width="1"/>
<circle cx="1311.78" cy="825.12" r="4.9" fill="#f44444" stroke="none" stroke-width="1"/>
<circle cx="1317.45" cy="825.12" r="4.9" fill="#f44444" stroke="none" stroke-width="1"/>
<circle cx="1323.12" cy="825.12" r="4.9" fill="#f44444" stroke="none" stroke-width="1"/>
<circle cx="1328.79" cy="825.12" r="4.9" fill="#f44444" stroke="none" stroke-width="1"/>
<circle cx="1260.75" cy="813.43" r="4.9" fill="#f44444" stroke="none" stroke-width="1"/>
<circle cx="1260.14" cy="813.43" r="4.9" fill="#f44444" stroke="none" stroke-width="1"/>
<circle cx="1271.85" cy="813.43" r="4.9" fill="#f44444" stroke="none" stroke-width="1"/>
<circle cx="1276.29" cy="813.43" r="4.9" fill="#f44444" stroke="none" stroke-width="1"/>
<circle cx="1289.01" cy="813.43" r="4.9" fill="#f44444" stroke="none" stroke-width="1"/>
<circle cx="1294.54" cy="813.43" r="4.9" fill="#f44444" stroke="none" stroke-width="1"/>
<circle cx="1300.08" cy="813.43" r="4.9" fill="#f44444" stroke="none" stroke-width="1"/>
<circle cx="1305.61" cy="813.43" r="4.9" fill="#f44444" stroke="none" stroke-width="1"/>
<circle cx="1311.14" cy="813.43" r="4.9" fill="#f44444" stroke="none" stroke-width="1"/>
<circle cx="1316.67" cy="813.43" r="4.9" fill="#f44444" stroke="none" stroke-width="1"/>
<circle cx="1329.39" cy="813.43" r="4.9" fill="#f44444" stroke="none" stroke-width="1"/>
<circle cx="1328.79" cy="813.43" r="4.9" fill="#f44444" stroke="none" stroke-width="1"/>
<circle cx="1260.75" cy="801.74" r="4.9" fill="#f44444" stroke="none" stroke-width="1"/>
<circle cx="1266.28" cy="801.74" r="4.9" fill="#f44444" stroke="none" stroke-width="1"/>
<circle cx="1271.81" cy="801.74" r="4.9" fill="#f44444" stroke="none" stroke-width="1"/>
<circle cx="1277.34" cy="801.74" r="4.9" fill="#f44444" stroke="none" stroke-width="1"/>
<circle cx="1282.88" cy="801.74" r="4.9" fill="#f44444" stroke="none" stroke-width="1"/>
<circle cx="1288.41" cy="801.74" r="4.9" fill="#f44444" stroke="none" stroke-width="1"/>
<circle cx="1301.13" cy="801.74" r="4.9" fill="#f44444" stroke="none" stroke-width="1"/>
<circle cx="1306.66" cy="801.74" r="4.9" fill="#f44444" stroke="none" stroke-width="1"/>
<circle cx="1312.19" cy="801.74" r="4.9" fill="#f44444" stroke="none" stroke-width="1"/>
<circle cx="1317.72" cy="801.74" r="4.9" fill="#f44444" stroke="none" stroke-width="1"/>
<circle cx="1323.25" cy="801.74" r="4.9" fill="#f44444" stroke="none" stroke-width="1"/>
<circle cx="1328.79" cy="801.74" r="4.9" fill="#f44444" stroke="none" stroke-width="1"/>
<circle cx="1260.75" cy="790.05" r="4.9" fill="#f44444" stroke="none" stroke-width="1"/>
<circle cx="1259.13" cy="790.05" r="4.9" fill="#f44444" stroke="none" stroke-width="1"/>
<circle cx="1271.85" cy="790.05" r="4.9" fill="#f44444" stroke="none" stroke-width="1"/>
<circle cx="1277.1" cy="790.05" r="4.9" fill="#f44444" stroke="none" stroke-width="1"/>
<circle cx="1282.35" cy="790.05" r="4.9" fill="#f44444" stroke="none" stroke-width="1"/>
<circle cx="1295.07" cy="790.05" r="4.9" fill="#f44444" stroke="none" stroke-width="1"/>
<circle cx="1300.25" cy="790.05" r="4.9" fill="#f44444" stroke="none" stroke-width="1"/>
<circle cx="1305.43" cy="790.05" r="4.9" fill="#f44444" stroke="none" stroke-width="1"/>
<circle cx="1310.62" cy="790.05" r="4.9" fill="#f44444" stroke="none" stroke-width="1"/>
<circle cx="1323.34" cy="790.05" r="4.9" fill="#f44444" stroke="none" stroke-width="1"/>
<circle cx="1328.79" cy="790.05" r="4.9" fill="#f44444" stroke="none" stroke-width="1"/>
<circle cx="1265.79" cy="778.36" r="4.9" fill="#f44444" stroke="none" stroke-width="1"/>
<circle cx="1271.31" cy="778.36" r="4.9" fill="#f44444" stroke="none" stroke-width="1"/>
<circle cx="1276.83" cy="778.36" r="4.9" fill="#f44444" stroke="none" stroke-width="1"/>
<circle cx="1282.35" cy="778.36" r="4.9" fill="#f44444" stroke="none" stroke-width="1"/>
<circle cx="1300.32" cy="778.36" r="4.9" fill="#f44444" stroke="none" stroke-width="1"/>
<circle cx="1300.32" cy="778.36" r="4.9" fill="#f44444" stroke="none" stroke-width="1"/>
<circle cx="1277.91" cy="766.67" r="4.9" fill="#f44444" stroke="none" stroke-width="1"/>
<circle cx="1283.43" cy="766.67" r="4.9" fill="#f44444" stroke="none" stroke-width="1"/>
<circle cx="1288.95" cy="766.67" r="4.9" fill="#f44444" stroke="none" stroke-width="1"/>
<circle cx="1294.46" cy="766.67" r="4.9" fill="#f44444" stroke="none" stroke-width="1"/>
<circle cx="1306.17" cy="766.67" r="4.9" fill="#f44444" stroke="none" stroke-width="1"/>
<circle cx="1310.62" cy="766.67" r="4.9" fill="#f44444" stroke="none" stroke-width="1"/>
<circle cx="1276.7" cy="754.98" r="4.9" fill="#f44444" stroke="none" stroke-width="1"/>
<circle cx="1276.7" cy="754.98" r="4.9" fill="#f44444" stroke="none" stroke-width="1"/>
<circle cx="1289.01" cy="754.98" r="4.9" fill="#f44444" stroke="none" stroke-width="1"/>
<circle cx="1294.41" cy="754.98" r="4.9" fill="#f44444" stroke="none" stroke-width="1"/>
<circle cx="1299.81" cy="754.98" r="4.9" fill="#f44444" stroke="none" stroke-width="1"/>
<circle cx="1305.22" cy="754.98" r="4.9" fill="#f44444" stroke="none" stroke-width="1"/>
<circle cx="1310.62" cy="754.98" r="4.9" fill="#f44444" stroke="none" stroke-width="1"/>
<circle cx="1294.26" cy="743.29" r="4.9" fill="#f44444" stroke="none" stroke-width="1"/>
<circle cx="1294.26" cy="743.29" r="4.9" fill="#f44444" stroke="none" stroke-width="1"/>
<circle cx="1308.19" cy="743.29" r="4.9" fill="#f44444" stroke="none" stroke-width="1"/>
<circle cx="1310.62" cy="743.29" r="4.9" fill="#f44444" stroke="none" stroke-width="1"/>
<circle cx="1289.01" cy="731.6" r="4.9" fill="#f44444" stroke="none" stroke-width="1"/>
<circle cx="1294.26" cy="731.6" r="4.9" fill="#f44444" stroke="none" stroke-width="1"/>
<circle cx="1299.51" cy="731.6" r="4.9" fill="#f44444" stroke="none" stroke-width="1"/>
<circle cx="1289.01" cy="719.91" r="4.9" fill="#f44444" stroke="none" stroke-width="1"/>
<circle cx="1294.53" cy="719.91" r="4.9" fill="#f44444" stroke="none" stroke-width="1"/>
<circle cx="1300.05" cy="719.91" r="4.9" fill="#f44444" stroke="none" stroke-width="1"/>
<circle cx="1305.57" cy="719.91" r="4.9" fill="#f44444" stroke="none" stroke-width="1"/>
<circle cx="1283.16" cy="708.22" r="4.9" fill="#f44444" stroke="none" stroke-width="1"/>
<circle cx="1283.16" cy="708.22" r="4.9" fill="#f44444" stroke="none" stroke-width="1"/>
<circle cx="1300.32" cy="708.22" r="4.9" fill="#f44444" stroke="none" stroke-width="1"/>
<circle cx="1300.32" cy="708.22" r="4.9" fill="#f44444" stroke="none" stroke-width="1"/>
<circle cx="1289.01" cy="696.53" r="4.9" fill="#f44444" stroke="none" stroke-width="1"/>
<circle cx="1294.53" cy="696.53" r="4.9" fill="#f44444" stroke="none" stroke-width="1"/>
<circle cx="1300.05" cy="696.53" r="4.9" fill="#f44444" stroke="none" stroke-width="1"/>
<circle cx="1305.57" cy="696.53" r="4.9" fill="#f44444" stroke="none" stroke-width="1"/>
<circle cx="1283.16" cy="684.84" r="4.9" fill="#f44444" stroke="none" stroke-width="1"/>
<circle cx="1283.16" cy="684.84" r="4.9" fill="#f44444" stroke="none" stroke-width="1"/>
<circle cx="1295.07" cy="661.46" r="4.9" fill="#f44444" stroke="none" stroke-width="1"/>
<circle cx="1299.51" cy="661.46" r="4.9" fill="#f44444" stroke="none" stroke-width="1"/>
<circle cx="1294.26" cy="649.77" r="4.9" fill="#f44444" stroke="none" stroke-width="1"/>
<circle cx="1294.26" cy="649.77" r="4.9" fill="#f44444" stroke="none" stroke-width="1"/>
<circle cx="1294.26" cy="638.08" r="4.9" fill="#f44444" stroke="none" stroke-width="1"/>
<circle cx="1294.26" cy="638.08" r="4.9" fill="#f44444" stroke="none" stroke-width="1"/>
<circle cx="1289.01" cy="603.01" r="4.9" fill="#f44444" stroke="none" stroke-width="1"/>
<circle cx="1294.26" cy="603.01" r="4.9" fill="#f44444" stroke="none" stroke-width="1"/>
<circle cx="1299.51" cy="603.01" r="4.9" fill="#f44444" stroke="none" stroke-width="1"/>
<rect x="1169.1" y="815.07" width="74.7" height="9.12" fill="none" stroke="#000" stroke-width="1.5"/>
<line x1="1169.1" y1="819.27" x2="1243.8" y2="819.27" stroke="#000" stroke-width="1.8" />
<line x1="1206.8" y1="766.67" x2="1206.8" y2="815.07" stroke="#000" stroke-width="1.5" />
<line x1="1206.8" y1="824.18" x2="1206.8" y2="836.81" stroke="#000" stroke-width="1.5" />
<line x1="1187.65" y1="766.67" x2="1225.95" y2="766.67" stroke="#000" stroke-width="1.5" />
<line x1="1187.65" y1="836.81" x2="1225.95" y2="836.81" stroke="#000" stroke-width="1.5" />
<line x1="1169.1" y1="820.44" x2="1243.8" y2="820.44" stroke="#000" stroke-width="1" stroke-dasharray="2,2"/>
<rect x="1257.5" y="747.97" width="74.5" height="64.29" fill="none" stroke="#000" stroke-width="1.5"/>
<line x1="1257.5" y1="790.52" x2="1332" y2="790.52" stroke="#000" stroke-width="1.8" />
<line x1="1294.3" y1="603.01" x2="1294.3" y2="747.97" stroke="#000" stroke-width="1.5" />
<line x1="1294.3" y1="812.26" x2="1294.3" y2="836.81" stroke="#000" stroke-width="1.5" />
<line x1="1275.15" y1="603.01" x2="1313.45" y2="603.01" stroke="#000" stroke-width="1.5" />
<line x1="1275.15" y1="836.81" x2="1313.45" y2="836.81" stroke="#000" stroke-width="1.5" />
<line x1="1615.3" y1="556.3" x2="1615.3" y2="849.2" stroke="#111" stroke-width="1.2" />
<line x1="1605.8" y1="849.2" x2="1615.3" y2="849.2" stroke="#111" stroke-width="1.2" />
<text x="1596.2" y="857" font-size="24" text-anchor="end" textLength="14.41" lengthAdjust="spacingAndGlyphs"  >0</text>
<line x1="1605.8" y1="790.62" x2="1615.3" y2="790.62" stroke="#111" stroke-width="1.2" />
<text x="1596.2" y="798.42" font-size="24" text-anchor="end" textLength="43.24" lengthAdjust="spacingAndGlyphs"  >500</text>
<line x1="1605.8" y1="732.04" x2="1615.3" y2="732.04" stroke="#111" stroke-width="1.2" />
<text x="1596.2" y="739.84" font-size="24" text-anchor="end" textLength="64.86" lengthAdjust="spacingAndGlyphs"  >1,000</text>
<line x1="1605.8" y1="673.46" x2="1615.3" y2="673.46" stroke="#111" stroke-width="1.2" />
<text x="1596.2" y="681.26" font-size="24" text-anchor="end" textLength="64.86" lengthAdjust="spacingAndGlyphs"  >1,500</text>
<line x1="1605.8" y1="614.88" x2="1615.3" y2="614.88" stroke="#111" stroke-width="1.2" />
<text x="1596.2" y="622.68" font-size="24" text-anchor="end" textLength="64.86" lengthAdjust="spacingAndGlyphs"  >2,000</text>
<line x1="1605.8" y1="556.3" x2="1615.3" y2="556.3" stroke="#111" stroke-width="1.2" />
<text x="1596.2" y="564.1" font-size="24" text-anchor="end" textLength="64.86" lengthAdjust="spacingAndGlyphs"  >2,500</text>
<line x1="1605.8" y1="849.2" x2="1811.4" y2="849.2" stroke="#111" stroke-width="1.2" />
<line x1="1671.3" y1="849.2" x2="1671.3" y2="859" stroke="#111" stroke-width="1.2" />
<line x1="1754.5" y1="849.2" x2="1754.5" y2="859" stroke="#111" stroke-width="1.2" />
<text x="1643.6" y="890.5" font-size="28" fill="#0000ff" font-style="italic" textLength="54" lengthAdjust="spacingAndGlyphs"  >siNT</text>
<text x="1714" y="890.5" font-size="28" fill="#c1121f" font-style="italic" textLength="80" lengthAdjust="spacingAndGlyphs"  >siMCU</text>
<text x="1654.9" y="554.5" font-size="24" textLength="112.8" lengthAdjust="spacingAndGlyphs"  ><tspan font-style="italic">P</tspan> &lt; 0.0001</text>
<line x1="1665.8" y1="560.9" x2="1754.7" y2="560.9" stroke="#000" stroke-width="1.6" />
<text x="0" y="0" font-size="28" text-anchor="middle" textLength="264.6" lengthAdjust="spacingAndGlyphs" transform="translate(1503,702.3) rotate(-90)" >Oscillation length (s)</text>
<circle cx="1671.37" cy="728.24" r="4.7" fill="#0000ff" stroke="none" stroke-width="1"/>
<circle cx="1671.37" cy="757.4" r="4.7" fill="#0000ff" stroke="none" stroke-width="1"/>
<circle cx="1671.37" cy="797.77" r="4.7" fill="#0000ff" stroke="none" stroke-width="1"/>
<circle cx="1671.37" cy="806.75" r="4.7" fill="#0000ff" stroke="none" stroke-width="1"/>
<circle cx="1648.49" cy="822.9" r="4.7" fill="#0000ff" stroke="none" stroke-width="1"/>
<circle cx="1671.37" cy="825.81" r="4.7" fill="#0000ff" stroke="none" stroke-width="1"/>
<circle cx="1682.81" cy="822.9" r="4.7" fill="#0000ff" stroke="none" stroke-width="1"/>
<circle cx="1694.47" cy="820.21" r="4.7" fill="#0000ff" stroke="none" stroke-width="1"/>
<circle cx="1648.49" cy="833.22" r="4.7" fill="#0000ff" stroke="none" stroke-width="1"/>
<circle cx="1636.82" cy="837.03" r="4.7" fill="#0000ff" stroke="none" stroke-width="1"/>
<circle cx="1682.81" cy="837.03" r="4.7" fill="#0000ff" stroke="none" stroke-width="1"/>
<circle cx="1705.91" cy="835.91" r="4.7" fill="#0000ff" stroke="none" stroke-width="1"/>
<circle cx="1648.49" cy="843.09" r="4.7" fill="#0000ff" stroke="none" stroke-width="1"/>
<circle cx="1659.93" cy="844.43" r="4.7" fill="#0000ff" stroke="none" stroke-width="1"/>
<circle cx="1671.37" cy="843.76" r="4.7" fill="#0000ff" stroke="none" stroke-width="1"/>
<circle cx="1694.47" cy="844.43" r="4.7" fill="#0000ff" stroke="none" stroke-width="1"/>
<circle cx="1636.82" cy="847.12" r="4.7" fill="#0000ff" stroke="none" stroke-width="1"/>
<circle cx="1682.81" cy="848.25" r="4.7" fill="#0000ff" stroke="none" stroke-width="1"/>
<circle cx="1705.91" cy="848.92" r="4.7" fill="#0000ff" stroke="none" stroke-width="1"/>
<circle cx="1754.59" cy="571.66" r="4.7" fill="#f44444" stroke="none" stroke-width="1"/>
<circle cx="1761.77" cy="581.31" r="4.7" fill="#f44444" stroke="none" stroke-width="1"/>
<circle cx="1747.86" cy="588.71" r="4.7" fill="#f44444" stroke="none" stroke-width="1"/>
<circle cx="1757.28" cy="592.08" r="4.7" fill="#f44444" stroke="none" stroke-width="1"/>
<circle cx="1754.59" cy="607.11" r="4.7" fill="#f44444" stroke="none" stroke-width="1"/>
<circle cx="1757.28" cy="627.97" r="4.7" fill="#f44444" stroke="none" stroke-width="1"/>
<circle cx="1752.35" cy="632.9" r="4.7" fill="#f44444" stroke="none" stroke-width="1"/>
<circle cx="1747.86" cy="656.9" r="4.7" fill="#f44444" stroke="none" stroke-width="1"/>
<circle cx="1761.77" cy="655.78" r="4.7" fill="#f44444" stroke="none" stroke-width="1"/>
<circle cx="1752.35" cy="663.63" r="4.7" fill="#f44444" stroke="none" stroke-width="1"/>
<circle cx="1757.28" cy="667.67" r="4.7" fill="#f44444" stroke="none" stroke-width="1"/>
<circle cx="1754.59" cy="677.77" r="4.7" fill="#f44444" stroke="none" stroke-width="1"/>
<circle cx="1757.28" cy="691.9" r="4.7" fill="#f44444" stroke="none" stroke-width="1"/>
<circle cx="1752.35" cy="698.63" r="4.7" fill="#f44444" stroke="none" stroke-width="1"/>
<circle cx="1761.32" cy="699.52" r="4.7" fill="#f44444" stroke="none" stroke-width="1"/>
<circle cx="1738.89" cy="713.66" r="4.7" fill="#f44444" stroke="none" stroke-width="1"/>
<circle cx="1747.86" cy="715.23" r="4.7" fill="#f44444" stroke="none" stroke-width="1"/>
<circle cx="1756.83" cy="717.02" r="4.7" fill="#f44444" stroke="none" stroke-width="1"/>
<circle cx="1766.93" cy="721.06" r="4.7" fill="#f44444" stroke="none" stroke-width="1"/>
<circle cx="1742.93" cy="721.96" r="4.7" fill="#f44444" stroke="none" stroke-width="1"/>
<circle cx="1750.1" cy="724.87" r="4.7" fill="#f44444" stroke="none" stroke-width="1"/>
<circle cx="1752.35" cy="732.72" r="4.7" fill="#f44444" stroke="none" stroke-width="1"/>
<circle cx="1757.28" cy="733.84" r="4.7" fill="#f44444" stroke="none" stroke-width="1"/>
<circle cx="1761.77" cy="757.85" r="4.7" fill="#f44444" stroke="none" stroke-width="1"/>
<circle cx="1752.35" cy="763.01" r="4.7" fill="#f44444" stroke="none" stroke-width="1"/>
<circle cx="1761.77" cy="770.41" r="4.7" fill="#f44444" stroke="none" stroke-width="1"/>
<circle cx="1752.35" cy="776.46" r="4.7" fill="#f44444" stroke="none" stroke-width="1"/>
<circle cx="1757.28" cy="777.14" r="4.7" fill="#f44444" stroke="none" stroke-width="1"/>
<circle cx="1754.59" cy="785.44" r="4.7" fill="#f44444" stroke="none" stroke-width="1"/>
<circle cx="1754.59" cy="795.53" r="4.7" fill="#f44444" stroke="none" stroke-width="1"/>
<circle cx="1749.65" cy="800.47" r="4.7" fill="#f44444" stroke="none" stroke-width="1"/>
<circle cx="1759.52" cy="797.33" r="4.7" fill="#f44444" stroke="none" stroke-width="1"/>
<circle cx="1738.89" cy="814.6" r="4.7" fill="#f44444" stroke="none" stroke-width="1"/>
<circle cx="1747.86" cy="811.23" r="4.7" fill="#f44444" stroke="none" stroke-width="1"/>
<circle cx="1757.28" cy="813.48" r="4.7" fill="#f44444" stroke="none" stroke-width="1"/>
<circle cx="1764.68" cy="817.96" r="4.7" fill="#f44444" stroke="none" stroke-width="1"/>
<circle cx="1771.41" cy="816.84" r="4.7" fill="#f44444" stroke="none" stroke-width="1"/>
<circle cx="1775.9" cy="821.33" r="4.7" fill="#f44444" stroke="none" stroke-width="1"/>
<circle cx="1734.4" cy="828.06" r="4.7" fill="#f44444" stroke="none" stroke-width="1"/>
<circle cx="1742.93" cy="824.24" r="4.7" fill="#f44444" stroke="none" stroke-width="1"/>
<circle cx="1752.35" cy="825.81" r="4.7" fill="#f44444" stroke="none" stroke-width="1"/>
<circle cx="1761.77" cy="829.18" r="4.7" fill="#f44444" stroke="none" stroke-width="1"/>
<circle cx="1774.78" cy="832.54" r="4.7" fill="#f44444" stroke="none" stroke-width="1"/>
<circle cx="1720.94" cy="835.46" r="4.7" fill="#f44444" stroke="none" stroke-width="1"/>
<circle cx="1729.91" cy="838.15" r="4.7" fill="#f44444" stroke="none" stroke-width="1"/>
<circle cx="1738.89" cy="834.79" r="4.7" fill="#f44444" stroke="none" stroke-width="1"/>
<circle cx="1747.86" cy="836.36" r="4.7" fill="#f44444" stroke="none" stroke-width="1"/>
<circle cx="1757.28" cy="834.79" r="4.7" fill="#f44444" stroke="none" stroke-width="1"/>
<circle cx="1765.81" cy="838.15" r="4.7" fill="#f44444" stroke="none" stroke-width="1"/>
<circle cx="1781.51" cy="838.15" r="4.7" fill="#f44444" stroke="none" stroke-width="1"/>
<circle cx="1789.36" cy="835.46" r="4.7" fill="#f44444" stroke="none" stroke-width="1"/>
<circle cx="1725.43" cy="842.19" r="4.7" fill="#f44444" stroke="none" stroke-width="1"/>
<circle cx="1734.4" cy="840.39" r="4.7" fill="#f44444" stroke="none" stroke-width="1"/>
<circle cx="1743.37" cy="844.88" r="4.7" fill="#f44444" stroke="none" stroke-width="1"/>
<circle cx="1752.35" cy="843.76" r="4.7" fill="#f44444" stroke="none" stroke-width="1"/>
<circle cx="1761.77" cy="844.88" r="4.7" fill="#f44444" stroke="none" stroke-width="1"/>
<circle cx="1770.74" cy="841.52" r="4.7" fill="#f44444" stroke="none" stroke-width="1"/>
<circle cx="1779.26" cy="843.76" r="4.7" fill="#f44444" stroke="none" stroke-width="1"/>
<circle cx="1785.99" cy="842.19" r="4.7" fill="#f44444" stroke="none" stroke-width="1"/>
<circle cx="1743.37" cy="848.25" r="4.7" fill="#f44444" stroke="none" stroke-width="1"/>
<circle cx="1754.59" cy="848.25" r="4.7" fill="#f44444" stroke="none" stroke-width="1"/>
<circle cx="1765.81" cy="847.57" r="4.7" fill="#f44444" stroke="none" stroke-width="1"/>
<circle cx="1777.02" cy="846" r="4.7" fill="#f44444" stroke="none" stroke-width="1"/>
<circle cx="1745.62" cy="817.96" r="4.7" fill="#f44444" stroke="none" stroke-width="1"/>
<circle cx="1754.59" cy="820.21" r="4.7" fill="#f44444" stroke="none" stroke-width="1"/>
<circle cx="1763.56" cy="831.42" r="4.7" fill="#f44444" stroke="none" stroke-width="1"/>
<rect x="1634.1" y="821.8" width="74.7" height="21.3" fill="none" stroke="#000" stroke-width="1.5"/>
<line x1="1634.1" y1="836.4" x2="1708.8" y2="836.4" stroke="#000" stroke-width="1.6" />
<line x1="1671.4" y1="728.2" x2="1671.4" y2="821.8" stroke="#000" stroke-width="1.5" />
<line x1="1652.5" y1="728.2" x2="1690.7" y2="728.2" stroke="#000" stroke-width="1.5" />
<rect x="1717.6" y="712.1" width="74.7" height="119.8" fill="none" stroke="#000" stroke-width="1.5"/>
<line x1="1717.6" y1="796.7" x2="1792.3" y2="796.7" stroke="#000" stroke-width="1.8" />
<line x1="1754.6" y1="571.7" x2="1754.6" y2="712.1" stroke="#000" stroke-width="1.5" />
<line x1="1754.6" y1="831.9" x2="1754.6" y2="849.2" stroke="#000" stroke-width="1.5" />
<line x1="1735.55" y1="571.7" x2="1773.65" y2="571.7" stroke="#000" stroke-width="1.5" />
<line x1="1735.55" y1="849.2" x2="1773.65" y2="849.2" stroke="#000" stroke-width="1.5" />
<line x1="131.3" y1="995.5" x2="131.3" y2="1288.4" stroke="#111" stroke-width="1.2" />
<line x1="121.3" y1="1288.4" x2="131.3" y2="1288.4" stroke="#111" stroke-width="1.2" />
<text x="110.6" y="1296.2" font-size="24" text-anchor="end" textLength="14.41" lengthAdjust="spacingAndGlyphs"  >0</text>
<line x1="121.3" y1="1215.18" x2="131.3" y2="1215.18" stroke="#111" stroke-width="1.2" />
<text x="110.6" y="1222.98" font-size="24" text-anchor="end" textLength="43.24" lengthAdjust="spacingAndGlyphs"  >100</text>
<line x1="121.3" y1="1141.95" x2="131.3" y2="1141.95" stroke="#111" stroke-width="1.2" />
<text x="110.6" y="1149.75" font-size="24" text-anchor="end" textLength="43.24" lengthAdjust="spacingAndGlyphs"  >200</text>
<line x1="121.3" y1="1068.73" x2="131.3" y2="1068.73" stroke="#111" stroke-width="1.2" />
<text x="110.6" y="1076.53" font-size="24" text-anchor="end" textLength="43.24" lengthAdjust="spacingAndGlyphs"  >300</text>
<line x1="121.3" y1="995.5" x2="131.3" y2="995.5" stroke="#111" stroke-width="1.2" />
<text x="110.6" y="1003.3" font-size="24" text-anchor="end" textLength="43.24" lengthAdjust="spacingAndGlyphs"  >400</text>
<line x1="121.3" y1="1288.4" x2="425.3" y2="1288.4" stroke="#111" stroke-width="1.2" />
<line x1="176.4" y1="1288.4" x2="176.4" y2="1298.8" stroke="#111" stroke-width="1.2" />
<line x1="243.5" y1="1288.4" x2="243.5" y2="1298.8" stroke="#111" stroke-width="1.2" />
<line x1="311.3" y1="1288.4" x2="311.3" y2="1298.8" stroke="#111" stroke-width="1.2" />
<line x1="379" y1="1288.4" x2="379" y2="1298.8" stroke="#111" stroke-width="1.2" />
<text x="249.5" y="981" font-size="28" font-style="italic" textLength="57.5" lengthAdjust="spacingAndGlyphs"  >IL1-β</text>
<text x="297.1" y="1012.4" font-size="24" textLength="112.5" lengthAdjust="spacingAndGlyphs"  ><tspan font-style="italic">P</tspan> &lt; 0.0001</text>
<line x1="311" y1="1020.3" x2="380" y2="1020.3" stroke="#000" stroke-width="1.6" />
<text x="0" y="0" font-size="28" text-anchor="middle" textLength="187.5" lengthAdjust="spacingAndGlyphs" transform="translate(41.1,1141.9) rotate(-90)" >Relative mRNA</text>
<text x="35.5" y="1331.5" font-size="27.5" textLength="123.8" lengthAdjust="spacingAndGlyphs"  >Zymosan:</text>
<text x="176.6" y="1330.8" font-size="23" text-anchor="middle"  stroke="#000" stroke-width="0.4">–</text>
<text x="243.7" y="1330.8" font-size="23" text-anchor="middle"  stroke="#000" stroke-width="0.4">–</text>
<text x="311.1" y="1333.3" font-size="23.5" text-anchor="middle"  stroke="#000" stroke-width="0.5">+</text>
<text x="378.8" y="1333.3" font-size="23.5" text-anchor="middle"  stroke="#000" stroke-width="0.5">+</text>
<circle cx="159.8" cy="1287.67" r="6.5" fill="#0000ff" stroke="none" stroke-width="1"/>
<circle cx="176.4" cy="1287.67" r="6.5" fill="#0000ff" stroke="none" stroke-width="1"/>
<circle cx="193" cy="1287.67" r="6.5" fill="#0000ff" stroke="none" stroke-width="1"/>
<circle cx="227.2" cy="1287.67" r="6.5" fill="#f44444" stroke="none" stroke-width="1"/>
<circle cx="243.5" cy="1287.67" r="6.5" fill="#f44444" stroke="none" stroke-width="1"/>
<circle cx="260.5" cy="1287.67" r="6.5" fill="#f44444" stroke="none" stroke-width="1"/>
<circle cx="294.9" cy="1206.53" r="6.5" fill="#0000ff" stroke="none" stroke-width="1"/>
<circle cx="311.3" cy="1200.6" r="6.5" fill="#0000ff" stroke="none" stroke-width="1"/>
<circle cx="327.9" cy="1202.58" r="6.5" fill="#0000ff" stroke="none" stroke-width="1"/>
<circle cx="362.3" cy="1040.31" r="6.5" fill="#f44444" stroke="none" stroke-width="1"/>
<circle cx="379" cy="1029.62" r="6.5" fill="#f44444" stroke="none" stroke-width="1"/>
<circle cx="395.6" cy="1037.9" r="6.5" fill="#f44444" stroke="none" stroke-width="1"/>
<line x1="154.1" y1="1287.67" x2="198.7" y2="1287.67" stroke="#000" stroke-width="1.9" />
<line x1="221.2" y1="1287.67" x2="265.8" y2="1287.67" stroke="#000" stroke-width="1.9" />
<line x1="289" y1="1203.24" x2="333.6" y2="1203.24" stroke="#000" stroke-width="1.9" />
<line x1="311.3" y1="1202.21" x2="311.3" y2="1204.26" stroke="#000" stroke-width="1.5" />
<line x1="300.3" y1="1202.21" x2="322.3" y2="1202.21" stroke="#000" stroke-width="1.5" />
<line x1="300.3" y1="1204.26" x2="322.3" y2="1204.26" stroke="#000" stroke-width="1.5" />
<line x1="356.7" y1="1035.92" x2="401.3" y2="1035.92" stroke="#000" stroke-width="1.9" />
<line x1="379" y1="1032.41" x2="379" y2="1039" stroke="#000" stroke-width="1.5" />
<line x1="368" y1="1032.41" x2="390" y2="1032.41" stroke="#000" stroke-width="1.5" />
<line x1="368" y1="1039" x2="390" y2="1039" stroke="#000" stroke-width="1.5" />
<line x1="621.9" y1="995.5" x2="621.9" y2="1288.4" stroke="#111" stroke-width="1.2" />
<line x1="611.9" y1="1288.4" x2="621.9" y2="1288.4" stroke="#111" stroke-width="1.2" />
<text x="601.3" y="1296.2" font-size="24" text-anchor="end" textLength="14.41" lengthAdjust="spacingAndGlyphs"  >0</text>
<line x1="611.9" y1="1190.77" x2="621.9" y2="1190.77" stroke="#111" stroke-width="1.2" />
<text x="601.3" y="1198.57" font-size="24" text-anchor="end" textLength="64.86" lengthAdjust="spacingAndGlyphs"  >5,000</text>
<line x1="611.9" y1="1093.13" x2="621.9" y2="1093.13" stroke="#111" stroke-width="1.2" />
<text x="601.3" y="1100.93" font-size="24" text-anchor="end" textLength="79.27" lengthAdjust="spacingAndGlyphs"  >10,000</text>
<line x1="611.9" y1="995.5" x2="621.9" y2="995.5" stroke="#111" stroke-width="1.2" />
<text x="601.3" y="1003.3" font-size="24" text-anchor="end" textLength="79.27" lengthAdjust="spacingAndGlyphs"  >15,000</text>
<line x1="611.9" y1="1288.4" x2="915.9" y2="1288.4" stroke="#111" stroke-width="1.2" />
<line x1="667" y1="1288.4" x2="667" y2="1298.8" stroke="#111" stroke-width="1.2" />
<line x1="734.4" y1="1288.4" x2="734.4" y2="1298.8" stroke="#111" stroke-width="1.2" />
<line x1="801.8" y1="1288.4" x2="801.8" y2="1298.8" stroke="#111" stroke-width="1.2" />
<line x1="869.3" y1="1288.4" x2="869.3" y2="1298.8" stroke="#111" stroke-width="1.2" />
<text x="745.1" y="981" font-size="28" font-style="italic" textLength="46.1" lengthAdjust="spacingAndGlyphs"  >IL-6</text>
<text x="784.6" y="1020.1" font-size="24" textLength="116.5" lengthAdjust="spacingAndGlyphs"  ><tspan font-style="italic">P</tspan> = 0.0033</text>
<line x1="802" y1="1028.2" x2="870.7" y2="1028.2" stroke="#000" stroke-width="1.6" />
<text x="0" y="0" font-size="28" text-anchor="middle" textLength="187.5" lengthAdjust="spacingAndGlyphs" transform="translate(499.9,1141.9) rotate(-90)" >Relative mRNA</text>
<text x="515.2" y="1331.5" font-size="27.5" textLength="123.8" lengthAdjust="spacingAndGlyphs"  >Zymosan:</text>
<text x="667.2" y="1330.8" font-size="23" text-anchor="middle"  stroke="#000" stroke-width="0.4">–</text>
<text x="734.6" y="1330.8" font-size="23" text-anchor="middle"  stroke="#000" stroke-width="0.4">–</text>
<text x="801.6" y="1333.3" font-size="23.5" text-anchor="middle"  stroke="#000" stroke-width="0.5">+</text>
<text x="869.1" y="1333.3" font-size="23.5" text-anchor="middle"  stroke="#000" stroke-width="0.5">+</text>
<circle cx="650.1" cy="1288.4" r="6.5" fill="#0000ff" stroke="none" stroke-width="1"/>
<circle cx="667" cy="1288.4" r="6.5" fill="#0000ff" stroke="none" stroke-width="1"/>
<circle cx="683.3" cy="1288.4" r="6.5" fill="#0000ff" stroke="none" stroke-width="1"/>
<circle cx="717.8" cy="1288.4" r="6.5" fill="#f44444" stroke="none" stroke-width="1"/>
<circle cx="734.4" cy="1288.4" r="6.5" fill="#f44444" stroke="none" stroke-width="1"/>
<circle cx="751.1" cy="1288.4" r="6.5" fill="#f44444" stroke="none" stroke-width="1"/>
<circle cx="785.8" cy="1258.49" r="6.5" fill="#0000ff" stroke="none" stroke-width="1"/>
<circle cx="801.8" cy="1251.1" r="6.5" fill="#0000ff" stroke="none" stroke-width="1"/>
<circle cx="818.5" cy="1253.1" r="6.5" fill="#0000ff" stroke="none" stroke-width="1"/>
<circle cx="852.6" cy="1078.49" r="6.5" fill="#f44444" stroke="none" stroke-width="1"/>
<circle cx="869.3" cy="1060.91" r="6.5" fill="#f44444" stroke="none" stroke-width="1"/>
<circle cx="885.9" cy="1075.17" r="6.5" fill="#f44444" stroke="none" stroke-width="1"/>
<line x1="644.7" y1="1288.4" x2="689.3" y2="1288.4" stroke="#000" stroke-width="1.9" />
<line x1="712.1" y1="1288.4" x2="756.7" y2="1288.4" stroke="#000" stroke-width="1.9" />
<line x1="779.5" y1="1253.94" x2="824.1" y2="1253.94" stroke="#000" stroke-width="1.9" />
<line x1="801.8" y1="1252.28" x2="801.8" y2="1255.2" stroke="#000" stroke-width="1.5" />
<line x1="790.8" y1="1252.28" x2="812.8" y2="1252.28" stroke="#000" stroke-width="1.5" />
<line x1="790.8" y1="1255.2" x2="812.8" y2="1255.2" stroke="#000" stroke-width="1.5" />
<line x1="847" y1="1071.65" x2="891.6" y2="1071.65" stroke="#000" stroke-width="1.9" />
<line x1="869.3" y1="1060.72" x2="869.3" y2="1082.2" stroke="#000" stroke-width="1.5" />
<line x1="858.3" y1="1060.72" x2="880.3" y2="1060.72" stroke="#000" stroke-width="1.5" />
<line x1="858.3" y1="1082.2" x2="880.3" y2="1082.2" stroke="#000" stroke-width="1.5" />
<line x1="1070.6" y1="995.5" x2="1070.6" y2="1288.4" stroke="#111" stroke-width="1.2" />
<line x1="1060.6" y1="1288.4" x2="1070.6" y2="1288.4" stroke="#111" stroke-width="1.2" />
<text x="1050.3" y="1296.2" font-size="24" text-anchor="end" textLength="14.41" lengthAdjust="spacingAndGlyphs"  >0</text>
<line x1="1060.6" y1="1215.18" x2="1070.6" y2="1215.18" stroke="#111" stroke-width="1.2" />
<text x="1050.3" y="1222.98" font-size="24" text-anchor="end" textLength="28.83" lengthAdjust="spacingAndGlyphs"  >20</text>
<line x1="1060.6" y1="1141.95" x2="1070.6" y2="1141.95" stroke="#111" stroke-width="1.2" />
<text x="1050.3" y="1149.75" font-size="24" text-anchor="end" textLength="28.83" lengthAdjust="spacingAndGlyphs"  >40</text>
<line x1="1060.6" y1="1068.72" x2="1070.6" y2="1068.72" stroke="#111" stroke-width="1.2" />
<text x="1050.3" y="1076.52" font-size="24" text-anchor="end" textLength="28.83" lengthAdjust="spacingAndGlyphs"  >60</text>
<line x1="1060.6" y1="995.5" x2="1070.6" y2="995.5" stroke="#111" stroke-width="1.2" />
<text x="1050.3" y="1003.3" font-size="24" text-anchor="end" textLength="28.83" lengthAdjust="spacingAndGlyphs"  >80</text>
<line x1="1060.6" y1="1288.4" x2="1364.6" y2="1288.4" stroke="#111" stroke-width="1.2" />
<line x1="1115.1" y1="1288.4" x2="1115.1" y2="1298.8" stroke="#111" stroke-width="1.2" />
<line x1="1182.5" y1="1288.4" x2="1182.5" y2="1298.8" stroke="#111" stroke-width="1.2" />
<line x1="1250.3" y1="1288.4" x2="1250.3" y2="1298.8" stroke="#111" stroke-width="1.2" />
<line x1="1318" y1="1288.4" x2="1318" y2="1298.8" stroke="#111" stroke-width="1.2" />
<text x="1192.8" y="981" font-size="28" textLength="46.7" lengthAdjust="spacingAndGlyphs"  >TNF</text>
<text x="1224.3" y="1039.6" font-size="24" textLength="113" lengthAdjust="spacingAndGlyphs"  ><tspan font-style="italic">P</tspan> &lt; 0.0001</text>
<line x1="1245.1" y1="1048" x2="1313.8" y2="1048" stroke="#000" stroke-width="1.6" />
<text x="0" y="0" font-size="28" text-anchor="middle" textLength="187.5" lengthAdjust="spacingAndGlyphs" transform="translate(994.4,1141.9) rotate(-90)" >Relative mRNA</text>
<text x="964.8" y="1331.5" font-size="27.5" textLength="123.8" lengthAdjust="spacingAndGlyphs"  >Zymosan:</text>
<text x="1115.3" y="1330.8" font-size="23" text-anchor="middle"  stroke="#000" stroke-width="0.4">–</text>
<text x="1182.7" y="1330.8" font-size="23" text-anchor="middle"  stroke="#000" stroke-width="0.4">–</text>
<text x="1250.1" y="1333.3" font-size="23.5" text-anchor="middle"  stroke="#000" stroke-width="0.5">+</text>
<text x="1317.8" y="1333.3" font-size="23.5" text-anchor="middle"  stroke="#000" stroke-width="0.5">+</text>
<circle cx="1098.5" cy="1285.1" r="6.5" fill="#0000ff" stroke="none" stroke-width="1"/>
<circle cx="1115.1" cy="1284.01" r="6.5" fill="#0000ff" stroke="none" stroke-width="1"/>
<circle cx="1131.7" cy="1285.1" r="6.5" fill="#0000ff" stroke="none" stroke-width="1"/>
<circle cx="1165.9" cy="1285.47" r="6.5" fill="#f44444" stroke="none" stroke-width="1"/>
<circle cx="1182.5" cy="1284.01" r="6.5" fill="#f44444" stroke="none" stroke-width="1"/>
<circle cx="1199.1" cy="1284.37" r="6.5" fill="#f44444" stroke="none" stroke-width="1"/>
<circle cx="1250.3" cy="1157.33" r="6.5" fill="#0000ff" stroke="none" stroke-width="1"/>
<circle cx="1250.3" cy="1170.51" r="6.5" fill="#0000ff" stroke="none" stroke-width="1"/>
<circle cx="1250.3" cy="1192.11" r="6.5" fill="#0000ff" stroke="none" stroke-width="1"/>
<circle cx="1318" cy="1062.5" r="6.5" fill="#f44444" stroke="none" stroke-width="1"/>
<circle cx="1334.6" cy="1055.91" r="6.5" fill="#f44444" stroke="none" stroke-width="1"/>
<circle cx="1318" cy="1080.07" r="6.5" fill="#f44444" stroke="none" stroke-width="1"/>
<line x1="1092.8" y1="1284.74" x2="1137.4" y2="1284.74" stroke="#000" stroke-width="1.9" />
<line x1="1160.2" y1="1284.74" x2="1204.8" y2="1284.74" stroke="#000" stroke-width="1.9" />
<line x1="1228" y1="1173.07" x2="1272.6" y2="1173.07" stroke="#000" stroke-width="1.9" />
<line x1="1250.3" y1="1162.82" x2="1250.3" y2="1183.32" stroke="#000" stroke-width="1.5" />
<line x1="1239.3" y1="1162.82" x2="1261.3" y2="1162.82" stroke="#000" stroke-width="1.5" />
<line x1="1239.3" y1="1183.32" x2="1261.3" y2="1183.32" stroke="#000" stroke-width="1.5" />
<line x1="1295.7" y1="1066.16" x2="1340.3" y2="1066.16" stroke="#000" stroke-width="1.9" />
<line x1="1318" y1="1058.47" x2="1318" y2="1073.85" stroke="#000" stroke-width="1.5" />
<line x1="1307" y1="1058.47" x2="1329" y2="1058.47" stroke="#000" stroke-width="1.5" />
<line x1="1307" y1="1073.85" x2="1329" y2="1073.85" stroke="#000" stroke-width="1.5" />
<line x1="1524.9" y1="995.5" x2="1524.9" y2="1288.4" stroke="#111" stroke-width="1.2" />
<line x1="1514.9" y1="1288.4" x2="1524.9" y2="1288.4" stroke="#111" stroke-width="1.2" />
<text x="1503.5" y="1296.2" font-size="24" text-anchor="end" textLength="14.41" lengthAdjust="spacingAndGlyphs"  >0</text>
<line x1="1514.9" y1="1190.77" x2="1524.9" y2="1190.77" stroke="#111" stroke-width="1.2" />
<text x="1503.5" y="1198.57" font-size="24" text-anchor="end" textLength="14.41" lengthAdjust="spacingAndGlyphs"  >5</text>
<line x1="1514.9" y1="1093.13" x2="1524.9" y2="1093.13" stroke="#111" stroke-width="1.2" />
<text x="1503.5" y="1100.93" font-size="24" text-anchor="end" textLength="25.36" lengthAdjust="spacingAndGlyphs"  >10</text>
<line x1="1514.9" y1="995.5" x2="1524.9" y2="995.5" stroke="#111" stroke-width="1.2" />
<text x="1503.5" y="1003.3" font-size="24" text-anchor="end" textLength="25.36" lengthAdjust="spacingAndGlyphs"  >15</text>
<line x1="1514.9" y1="1288.4" x2="1819" y2="1288.4" stroke="#111" stroke-width="1.2" />
<line x1="1569.5" y1="1288.4" x2="1569.5" y2="1298.8" stroke="#111" stroke-width="1.2" />
<line x1="1637.2" y1="1288.4" x2="1637.2" y2="1298.8" stroke="#111" stroke-width="1.2" />
<line x1="1704.9" y1="1288.4" x2="1704.9" y2="1298.8" stroke="#111" stroke-width="1.2" />
<line x1="1772.6" y1="1288.4" x2="1772.6" y2="1298.8" stroke="#111" stroke-width="1.2" />
<text x="1641.2" y="981" font-size="28" font-style="italic" textLength="58" lengthAdjust="spacingAndGlyphs"  >IL-10</text>
<text x="1687.9" y="1034.2" font-size="24" textLength="118.6" lengthAdjust="spacingAndGlyphs"  ><tspan font-style="italic">P</tspan> = 0.0006</text>
<line x1="1701.2" y1="1042.3" x2="1770" y2="1042.3" stroke="#000" stroke-width="1.6" />
<text x="0" y="0" font-size="28" text-anchor="middle" textLength="187.5" lengthAdjust="spacingAndGlyphs" transform="translate(1453.2,1141.9) rotate(-90)" >Relative mRNA</text>
<text x="1420" y="1331.5" font-size="27.5" textLength="123.8" lengthAdjust="spacingAndGlyphs"  >Zymosan:</text>
<text x="1569.7" y="1330.8" font-size="23" text-anchor="middle"  stroke="#000" stroke-width="0.4">–</text>
<text x="1637.4" y="1330.8" font-size="23" text-anchor="middle"  stroke="#000" stroke-width="0.4">–</text>
<text x="1704.7" y="1333.3" font-size="23.5" text-anchor="middle"  stroke="#000" stroke-width="0.5">+</text>
<text x="1772.4" y="1333.3" font-size="23.5" text-anchor="middle"  stroke="#000" stroke-width="0.5">+</text>
<circle cx="1552.9" cy="1270.24" r="6.5" fill="#0000ff" stroke="none" stroke-width="1"/>
<circle cx="1569.5" cy="1268.29" r="6.5" fill="#0000ff" stroke="none" stroke-width="1"/>
<circle cx="1586.1" cy="1268.29" r="6.5" fill="#0000ff" stroke="none" stroke-width="1"/>
<circle cx="1620.6" cy="1270.24" r="6.5" fill="#f44444" stroke="none" stroke-width="1"/>
<circle cx="1637.2" cy="1267.9" r="6.5" fill="#f44444" stroke="none" stroke-width="1"/>
<circle cx="1653.8" cy="1269.26" r="6.5" fill="#f44444" stroke="none" stroke-width="1"/>
<circle cx="1704.9" cy="1180.03" r="6.5" fill="#0000ff" stroke="none" stroke-width="1"/>
<circle cx="1704.9" cy="1162.84" r="6.5" fill="#0000ff" stroke="none" stroke-width="1"/>
<circle cx="1721.5" cy="1151.52" r="6.5" fill="#0000ff" stroke="none" stroke-width="1"/>
<circle cx="1772.6" cy="1064.82" r="6.5" fill="#f44444" stroke="none" stroke-width="1"/>
<circle cx="1772.6" cy="1102.9" r="6.5" fill="#f44444" stroke="none" stroke-width="1"/>
<circle cx="1772.6" cy="1115.78" r="6.5" fill="#f44444" stroke="none" stroke-width="1"/>
<line x1="1547.2" y1="1268.87" x2="1591.8" y2="1268.87" stroke="#000" stroke-width="1.9" />
<line x1="1614.9" y1="1268.87" x2="1659.5" y2="1268.87" stroke="#000" stroke-width="1.9" />
<line x1="1682.6" y1="1164.8" x2="1727.2" y2="1164.8" stroke="#000" stroke-width="1.9" />
<line x1="1704.9" y1="1156.2" x2="1704.9" y2="1173.19" stroke="#000" stroke-width="1.5" />
<line x1="1693.9" y1="1156.2" x2="1715.9" y2="1156.2" stroke="#000" stroke-width="1.5" />
<line x1="1693.9" y1="1173.19" x2="1715.9" y2="1173.19" stroke="#000" stroke-width="1.5" />
<line x1="1750.3" y1="1093.91" x2="1794.9" y2="1093.91" stroke="#000" stroke-width="1.9" />
<line x1="1772.6" y1="1078.49" x2="1772.6" y2="1109.34" stroke="#000" stroke-width="1.5" />
<line x1="1761.6" y1="1078.49" x2="1783.6" y2="1078.49" stroke="#000" stroke-width="1.5" />
<line x1="1761.6" y1="1109.34" x2="1783.6" y2="1109.34" stroke="#000" stroke-width="1.5" />
</svg>
</body></html>
